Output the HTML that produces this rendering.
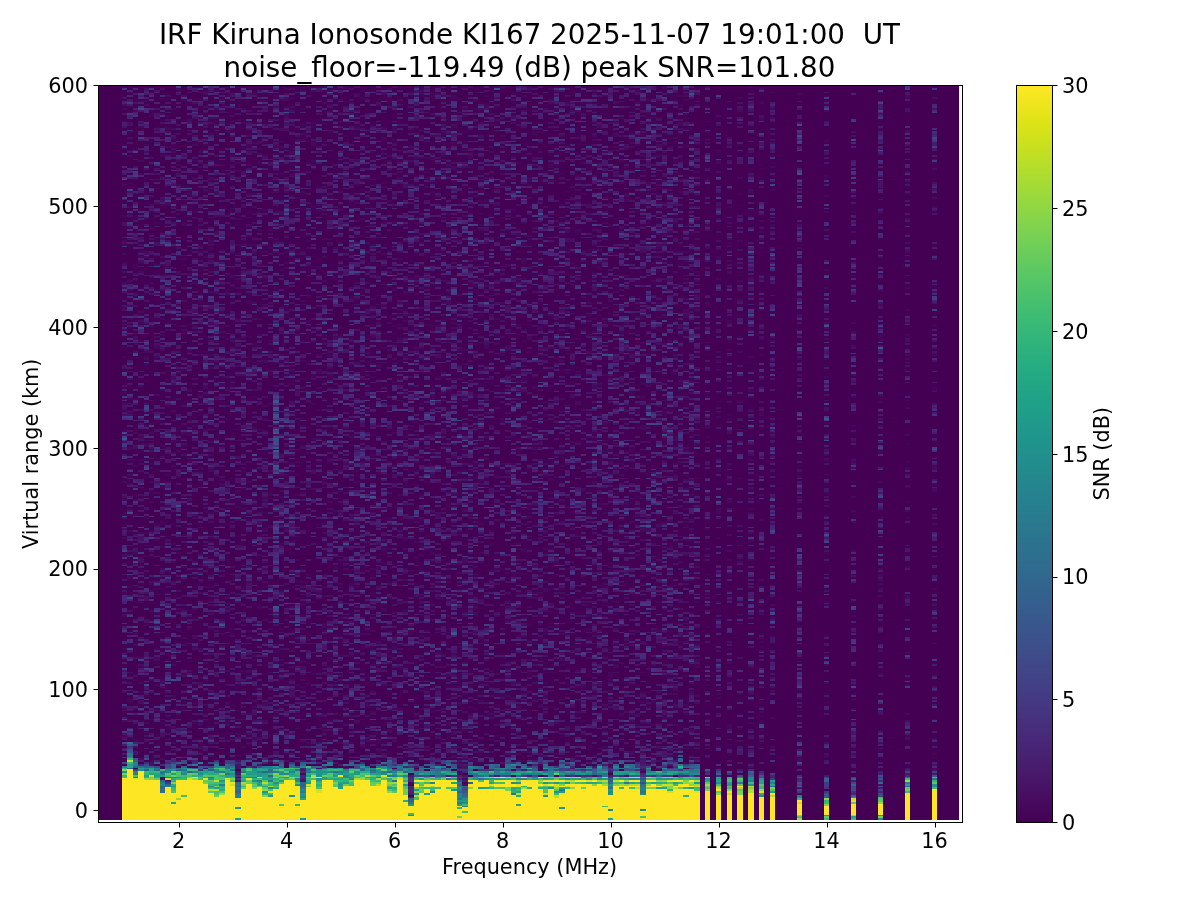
<!DOCTYPE html>
<html><head><meta charset="utf-8"><title>IRF Kiruna Ionosonde KI167</title>
<style>html,body{margin:0;padding:0;background:#fff;width:1200px;height:900px;overflow:hidden}
svg{display:block;will-change:transform}text{font-family:"DejaVu Sans","Liberation Sans",sans-serif;fill:#000}</style></head>
<body><svg width="1200" height="900" viewBox="0 0 1200 900">
<rect width="1200" height="900" fill="#fff"/>
<defs><linearGradient id="vir" x1="0" y1="1" x2="0" y2="0"><stop offset="0.0020" stop-color="#440154"/><stop offset="0.0059" stop-color="#440256"/><stop offset="0.0098" stop-color="#450457"/><stop offset="0.0137" stop-color="#450559"/><stop offset="0.0176" stop-color="#46075a"/><stop offset="0.0215" stop-color="#46085c"/><stop offset="0.0254" stop-color="#460a5d"/><stop offset="0.0293" stop-color="#460b5e"/><stop offset="0.0332" stop-color="#470d60"/><stop offset="0.0371" stop-color="#470e61"/><stop offset="0.0410" stop-color="#471063"/><stop offset="0.0449" stop-color="#471164"/><stop offset="0.0488" stop-color="#471365"/><stop offset="0.0527" stop-color="#481467"/><stop offset="0.0566" stop-color="#481668"/><stop offset="0.0605" stop-color="#481769"/><stop offset="0.0645" stop-color="#48186a"/><stop offset="0.0684" stop-color="#481a6c"/><stop offset="0.0723" stop-color="#481b6d"/><stop offset="0.0762" stop-color="#481c6e"/><stop offset="0.0801" stop-color="#481d6f"/><stop offset="0.0840" stop-color="#481f70"/><stop offset="0.0879" stop-color="#482071"/><stop offset="0.0918" stop-color="#482173"/><stop offset="0.0957" stop-color="#482374"/><stop offset="0.0996" stop-color="#482475"/><stop offset="0.1035" stop-color="#482576"/><stop offset="0.1074" stop-color="#482677"/><stop offset="0.1113" stop-color="#482878"/><stop offset="0.1152" stop-color="#482979"/><stop offset="0.1191" stop-color="#472a7a"/><stop offset="0.1230" stop-color="#472c7a"/><stop offset="0.1270" stop-color="#472d7b"/><stop offset="0.1309" stop-color="#472e7c"/><stop offset="0.1348" stop-color="#472f7d"/><stop offset="0.1387" stop-color="#46307e"/><stop offset="0.1426" stop-color="#46327e"/><stop offset="0.1465" stop-color="#46337f"/><stop offset="0.1504" stop-color="#463480"/><stop offset="0.1543" stop-color="#453581"/><stop offset="0.1582" stop-color="#453781"/><stop offset="0.1621" stop-color="#453882"/><stop offset="0.1660" stop-color="#443983"/><stop offset="0.1699" stop-color="#443a83"/><stop offset="0.1738" stop-color="#443b84"/><stop offset="0.1777" stop-color="#433d84"/><stop offset="0.1816" stop-color="#433e85"/><stop offset="0.1855" stop-color="#423f85"/><stop offset="0.1895" stop-color="#424086"/><stop offset="0.1934" stop-color="#424186"/><stop offset="0.1973" stop-color="#414287"/><stop offset="0.2012" stop-color="#414487"/><stop offset="0.2051" stop-color="#404588"/><stop offset="0.2090" stop-color="#404688"/><stop offset="0.2129" stop-color="#3f4788"/><stop offset="0.2168" stop-color="#3f4889"/><stop offset="0.2207" stop-color="#3e4989"/><stop offset="0.2246" stop-color="#3e4a89"/><stop offset="0.2285" stop-color="#3e4c8a"/><stop offset="0.2324" stop-color="#3d4d8a"/><stop offset="0.2363" stop-color="#3d4e8a"/><stop offset="0.2402" stop-color="#3c4f8a"/><stop offset="0.2441" stop-color="#3c508b"/><stop offset="0.2480" stop-color="#3b518b"/><stop offset="0.2520" stop-color="#3b528b"/><stop offset="0.2559" stop-color="#3a538b"/><stop offset="0.2598" stop-color="#3a548c"/><stop offset="0.2637" stop-color="#39558c"/><stop offset="0.2676" stop-color="#39568c"/><stop offset="0.2715" stop-color="#38588c"/><stop offset="0.2754" stop-color="#38598c"/><stop offset="0.2793" stop-color="#375a8c"/><stop offset="0.2832" stop-color="#375b8d"/><stop offset="0.2871" stop-color="#365c8d"/><stop offset="0.2910" stop-color="#365d8d"/><stop offset="0.2949" stop-color="#355e8d"/><stop offset="0.2988" stop-color="#355f8d"/><stop offset="0.3027" stop-color="#34608d"/><stop offset="0.3066" stop-color="#34618d"/><stop offset="0.3105" stop-color="#33628d"/><stop offset="0.3145" stop-color="#33638d"/><stop offset="0.3184" stop-color="#32648e"/><stop offset="0.3223" stop-color="#32658e"/><stop offset="0.3262" stop-color="#31668e"/><stop offset="0.3301" stop-color="#31678e"/><stop offset="0.3340" stop-color="#31688e"/><stop offset="0.3379" stop-color="#30698e"/><stop offset="0.3418" stop-color="#306a8e"/><stop offset="0.3457" stop-color="#2f6b8e"/><stop offset="0.3496" stop-color="#2f6c8e"/><stop offset="0.3535" stop-color="#2e6d8e"/><stop offset="0.3574" stop-color="#2e6e8e"/><stop offset="0.3613" stop-color="#2e6f8e"/><stop offset="0.3652" stop-color="#2d708e"/><stop offset="0.3691" stop-color="#2d718e"/><stop offset="0.3730" stop-color="#2c718e"/><stop offset="0.3770" stop-color="#2c728e"/><stop offset="0.3809" stop-color="#2c738e"/><stop offset="0.3848" stop-color="#2b748e"/><stop offset="0.3887" stop-color="#2b758e"/><stop offset="0.3926" stop-color="#2a768e"/><stop offset="0.3965" stop-color="#2a778e"/><stop offset="0.4004" stop-color="#2a788e"/><stop offset="0.4043" stop-color="#29798e"/><stop offset="0.4082" stop-color="#297a8e"/><stop offset="0.4121" stop-color="#297b8e"/><stop offset="0.4160" stop-color="#287c8e"/><stop offset="0.4199" stop-color="#287d8e"/><stop offset="0.4238" stop-color="#277e8e"/><stop offset="0.4277" stop-color="#277f8e"/><stop offset="0.4316" stop-color="#27808e"/><stop offset="0.4355" stop-color="#26818e"/><stop offset="0.4395" stop-color="#26828e"/><stop offset="0.4434" stop-color="#26828e"/><stop offset="0.4473" stop-color="#25838e"/><stop offset="0.4512" stop-color="#25848e"/><stop offset="0.4551" stop-color="#25858e"/><stop offset="0.4590" stop-color="#24868e"/><stop offset="0.4629" stop-color="#24878e"/><stop offset="0.4668" stop-color="#23888e"/><stop offset="0.4707" stop-color="#23898e"/><stop offset="0.4746" stop-color="#238a8d"/><stop offset="0.4785" stop-color="#228b8d"/><stop offset="0.4824" stop-color="#228c8d"/><stop offset="0.4863" stop-color="#228d8d"/><stop offset="0.4902" stop-color="#218e8d"/><stop offset="0.4941" stop-color="#218f8d"/><stop offset="0.4980" stop-color="#21908d"/><stop offset="0.5020" stop-color="#21918c"/><stop offset="0.5059" stop-color="#20928c"/><stop offset="0.5098" stop-color="#20928c"/><stop offset="0.5137" stop-color="#20938c"/><stop offset="0.5176" stop-color="#1f948c"/><stop offset="0.5215" stop-color="#1f958b"/><stop offset="0.5254" stop-color="#1f968b"/><stop offset="0.5293" stop-color="#1f978b"/><stop offset="0.5332" stop-color="#1f988b"/><stop offset="0.5371" stop-color="#1f998a"/><stop offset="0.5410" stop-color="#1f9a8a"/><stop offset="0.5449" stop-color="#1e9b8a"/><stop offset="0.5488" stop-color="#1e9c89"/><stop offset="0.5527" stop-color="#1e9d89"/><stop offset="0.5566" stop-color="#1f9e89"/><stop offset="0.5605" stop-color="#1f9f88"/><stop offset="0.5645" stop-color="#1fa088"/><stop offset="0.5684" stop-color="#1fa188"/><stop offset="0.5723" stop-color="#1fa187"/><stop offset="0.5762" stop-color="#1fa287"/><stop offset="0.5801" stop-color="#20a386"/><stop offset="0.5840" stop-color="#20a486"/><stop offset="0.5879" stop-color="#21a585"/><stop offset="0.5918" stop-color="#21a685"/><stop offset="0.5957" stop-color="#22a785"/><stop offset="0.5996" stop-color="#22a884"/><stop offset="0.6035" stop-color="#23a983"/><stop offset="0.6074" stop-color="#24aa83"/><stop offset="0.6113" stop-color="#25ab82"/><stop offset="0.6152" stop-color="#25ac82"/><stop offset="0.6191" stop-color="#26ad81"/><stop offset="0.6230" stop-color="#27ad81"/><stop offset="0.6270" stop-color="#28ae80"/><stop offset="0.6309" stop-color="#29af7f"/><stop offset="0.6348" stop-color="#2ab07f"/><stop offset="0.6387" stop-color="#2cb17e"/><stop offset="0.6426" stop-color="#2db27d"/><stop offset="0.6465" stop-color="#2eb37c"/><stop offset="0.6504" stop-color="#2fb47c"/><stop offset="0.6543" stop-color="#31b57b"/><stop offset="0.6582" stop-color="#32b67a"/><stop offset="0.6621" stop-color="#34b679"/><stop offset="0.6660" stop-color="#35b779"/><stop offset="0.6699" stop-color="#37b878"/><stop offset="0.6738" stop-color="#38b977"/><stop offset="0.6777" stop-color="#3aba76"/><stop offset="0.6816" stop-color="#3bbb75"/><stop offset="0.6855" stop-color="#3dbc74"/><stop offset="0.6895" stop-color="#3fbc73"/><stop offset="0.6934" stop-color="#40bd72"/><stop offset="0.6973" stop-color="#42be71"/><stop offset="0.7012" stop-color="#44bf70"/><stop offset="0.7051" stop-color="#46c06f"/><stop offset="0.7090" stop-color="#48c16e"/><stop offset="0.7129" stop-color="#4ac16d"/><stop offset="0.7168" stop-color="#4cc26c"/><stop offset="0.7207" stop-color="#4ec36b"/><stop offset="0.7246" stop-color="#50c46a"/><stop offset="0.7285" stop-color="#52c569"/><stop offset="0.7324" stop-color="#54c568"/><stop offset="0.7363" stop-color="#56c667"/><stop offset="0.7402" stop-color="#58c765"/><stop offset="0.7441" stop-color="#5ac864"/><stop offset="0.7480" stop-color="#5cc863"/><stop offset="0.7520" stop-color="#5ec962"/><stop offset="0.7559" stop-color="#60ca60"/><stop offset="0.7598" stop-color="#63cb5f"/><stop offset="0.7637" stop-color="#65cb5e"/><stop offset="0.7676" stop-color="#67cc5c"/><stop offset="0.7715" stop-color="#69cd5b"/><stop offset="0.7754" stop-color="#6ccd5a"/><stop offset="0.7793" stop-color="#6ece58"/><stop offset="0.7832" stop-color="#70cf57"/><stop offset="0.7871" stop-color="#73d056"/><stop offset="0.7910" stop-color="#75d054"/><stop offset="0.7949" stop-color="#77d153"/><stop offset="0.7988" stop-color="#7ad151"/><stop offset="0.8027" stop-color="#7cd250"/><stop offset="0.8066" stop-color="#7fd34e"/><stop offset="0.8105" stop-color="#81d34d"/><stop offset="0.8145" stop-color="#84d44b"/><stop offset="0.8184" stop-color="#86d549"/><stop offset="0.8223" stop-color="#89d548"/><stop offset="0.8262" stop-color="#8bd646"/><stop offset="0.8301" stop-color="#8ed645"/><stop offset="0.8340" stop-color="#90d743"/><stop offset="0.8379" stop-color="#93d741"/><stop offset="0.8418" stop-color="#95d840"/><stop offset="0.8457" stop-color="#98d83e"/><stop offset="0.8496" stop-color="#9bd93c"/><stop offset="0.8535" stop-color="#9dd93b"/><stop offset="0.8574" stop-color="#a0da39"/><stop offset="0.8613" stop-color="#a2da37"/><stop offset="0.8652" stop-color="#a5db36"/><stop offset="0.8691" stop-color="#a8db34"/><stop offset="0.8730" stop-color="#aadc32"/><stop offset="0.8770" stop-color="#addc30"/><stop offset="0.8809" stop-color="#b0dd2f"/><stop offset="0.8848" stop-color="#b2dd2d"/><stop offset="0.8887" stop-color="#b5de2b"/><stop offset="0.8926" stop-color="#b8de29"/><stop offset="0.8965" stop-color="#bade28"/><stop offset="0.9004" stop-color="#bddf26"/><stop offset="0.9043" stop-color="#c0df25"/><stop offset="0.9082" stop-color="#c2df23"/><stop offset="0.9121" stop-color="#c5e021"/><stop offset="0.9160" stop-color="#c8e020"/><stop offset="0.9199" stop-color="#cae11f"/><stop offset="0.9238" stop-color="#cde11d"/><stop offset="0.9277" stop-color="#d0e11c"/><stop offset="0.9316" stop-color="#d2e21b"/><stop offset="0.9355" stop-color="#d5e21a"/><stop offset="0.9395" stop-color="#d8e219"/><stop offset="0.9434" stop-color="#dae319"/><stop offset="0.9473" stop-color="#dde318"/><stop offset="0.9512" stop-color="#dfe318"/><stop offset="0.9551" stop-color="#e2e418"/><stop offset="0.9590" stop-color="#e5e419"/><stop offset="0.9629" stop-color="#e7e419"/><stop offset="0.9668" stop-color="#eae51a"/><stop offset="0.9707" stop-color="#ece51b"/><stop offset="0.9746" stop-color="#efe51c"/><stop offset="0.9785" stop-color="#f1e51d"/><stop offset="0.9824" stop-color="#f4e61e"/><stop offset="0.9863" stop-color="#f6e620"/><stop offset="0.9902" stop-color="#f8e621"/><stop offset="0.9941" stop-color="#fbe723"/><stop offset="0.9980" stop-color="#fde725"/></linearGradient><clipPath id="axclip"><rect x="97.653" y="85.233" width="863.878" height="736.989"/></clipPath></defs>
<g shape-rendering="crispEdges"><g clip-path="url(#axclip)"><rect x="97.653" y="85.233" width="861.178" height="734.875" fill="#440154"/><g transform="translate(121.9493 84.3272) scale(5.399236 1.812268)" fill="none" stroke-width="1"><path stroke="#440256" d="M0.5 232v1m0 4v1m0 109v1m1 -273v1m0 171v1m1 -180v1m0 166v1m0 75v1m0 22v1m1 -333v1m0 91v1m0 51v1m1 -116v1m0 90v1m0 84v1m0 97v1m1 -186v1m0 55v1m0 1v1m0 72v1m0 1v1m0 40v1m1 -281v1m0 70v1m0 94v1m0 73v1m1 -217v1m0 3v1m0 14v1m0 206v1m0 10v1m0 51v1m1 -198v1m0 15v1m0 154v1m0 17v1m0 11v1m0 17v1m1 -290v1m0 43v1m0 47v1m0 47v1m0 124v1m0 32v1m0 3v1m1 -303v1m0 28v1m0 128v1m0 67v1m0 3v1m1 -272v1m0 96v1m0 23v1m0 3v1m0 30v1m0 30v1m1 -204v1m0 2v1m0 10v1m0 8v1m0 140v1m0 88v1m0 29v1m0 19v1m1 -288v1m0 38v1m0 8v1m0 60v1m0 122v1m0 73v1m1 -206v1m0 143v1m1 1v1m1 -261v1m0 30v1m0 12v1m0 21v1m0 64v1m0 91v1m0 58v1m0 21v1m1 -301v1m0 5v1m0 25v1m1 13v1m0 10v1m0 20v1m0 29v1m0 128v1m1 -94v1m0 52v1m0 40v1m0 11v1m0 12v1m0 64v1m0 20v1m1 -110v1m1 -247v1m0 78v1m0 47v1m0 62v1m0 71v1m0 37v1m0 10v1m0 26v1m0 8v1m1 -228v1m0 15v1m0 43v1m0 31v1m0 25v1m1 -241v1m0 81v1m0 14v1m0 17v1m0 16v1m0 30v1m0 8v1m0 81v1m0 50v1m1 -214v1m0 29v1m0 7v1m0 15v1m0 56v1m0 49v1m1 -254v1m0 15v1m0 132v1m0 20v1m0 71v1m0 3v1m0 8v1m0 41v1m0 23v1m1 -254v1m0 119v1m0 68v1m0 96v1m1 -83v1m1 -140v1m0 33v1m0 60v1m0 84v1m0 7v1m0 51v1m1 -341v1m0 27v1m0 96v1m0 64v1m0 25v1m0 94v1m1 -209v1m0 6v1m0 119v1m1 -107v1m0 117v1m0 19v1m0 26v1m0 6v1m1 -331v1m0 65v1m0 17v1m0 1v1m0 28v1m0 8v1m0 192v1m1 -317v1m0 92v1m0 34v1m0 43v1m0 33v1m0 52v1m0 27v1m0 37v1m0 40v1m1 -349v1m0 35v1m0 121v1m1 -109v1m0 86v1m0 13v1m0 5v1m0 67v1m0 36v1m0 3v1m0 11v1m0 16v1m0 24v1m1 -266v1m0 269v1m1 -244v1m0 67v1m0 4v1m0 29v1m0 128v1m0 16v1m1 -345v1m0 92v1m0 16v1m0 44v1m0 12v1m0 15v1m0 43v1m0 130v1m1 -329v2m0 5v1m0 55v1m1 -71v1m0 52v1m0 93v1m0 49v1m0 14v1m0 14v1m0 114v1m1 -14v1m1 -141v1m0 69v1m0 21v1m1 -285v1m0 16v1m0 45v1m0 3v1m0 185v1m0 3v1m0 24v1m1 -292v1m0 91v1m0 21v1m0 9v1m0 32v1m0 5v1m0 62v1m1 -167v1m0 9v1m0 4v1m0 12v1m0 30v1m0 42v1m0 6v1m0 82v1m0 27v1m0 5v1m1 -273v1m0 83v1m0 31v1m0 68v1m0 35v1m0 41v1m0 52v1m1 -188v1m0 145v1m0 27v1m1 -74v1m0 20v1m0 28v1m1 -239v1m0 5v1m0 222v1m0 34v1m1 -133v1m1 -194v1m0 138v1m0 74v1m0 18v1m0 125v1m1 -174v1m0 10v1m0 128v1m0 10v1m0 4v1m1 -259v1m0 5v1m0 65v1m0 151v1m0 15v1m0 35v1m0 17v1m1 -259v1m0 2v1m0 37v1m0 115v1m0 28v1m0 4v1m0 5v1m0 20v1m1 -347v1m0 13v1m0 96v1m0 102v1m0 49v1m0 66v1m1 -324v1m0 32v1m0 37v1m0 104v1m0 8v1m0 68v1m0 3v1m1 -200v1m0 190v1m0 1v1m0 24v1m0 60v1m1 -328v1m0 15v1m0 109v2m0 24v1m0 1v1m0 4v1m0 1v1m0 62v1m0 98v1m1 -283v1m0 48v1m0 42v1m0 184v1m1 -334v1m0 18v1m0 72v1m0 69v1m0 23v1m1 -81v1m0 118v1m0 6v1m1 -235v1m0 86v1m0 1v1m0 51v1m0 32v1m0 134v1m0 44v2m1 -337v1m0 97v1m0 34v1m0 7v1m0 23v1m0 31v1m0 31v1m0 111v1m1 -369v1m0 68v1m0 20v1m0 19v1m0 9v1m0 87v1m0 31v1m0 3v1m0 73v1m1 -297v1m0 76v1m0 30v1m0 164v1m1 -165v1m0 212v1m0 29v1m1 -350v1m0 209v1m0 5v1m1 -242v2m0 27v1m0 11v1m0 8v1m0 114v1m0 51v1m0 13v1m0 64v1m1 -297v1m0 73v1m0 22v1m0 103v1m0 111v1m0 13v1m0 9v1m1 -228v1m0 50v1m0 84v1m0 36v1m1 -273v1m0 33v1m0 15v1m0 150v1m0 65v1m0 27v2m0 58v1m1 -356v1m0 4v1m0 87v1m0 22v1m0 6v1m0 60v1m0 9v1m0 17v1m0 9v1m0 91v1m0 40v1m1 -259v1m0 226v1m1 -306v1m0 42v1m0 79v1m0 83v1m1 -211v1m0 8v1m0 15v1m0 22v1m0 17v1m0 89v1m0 148v1m0 34v1m1 -330v1m0 39v1m0 22v1m0 14v1m0 142v1m0 56v1m0 2v1m0 2v1m0 49v1m1 -295v1m0 14v1m0 129v1m0 14v1m0 33v1m0 15v1m1 -226v1m0 21v1m0 61v1m0 59v1m0 100v1m1 -271v1m0 99v1m0 68v1m0 156v1m1 -365v1m0 79v1m0 156v1m0 70v1m0 27v1m1 -336v1m0 17v1m0 15v1m0 81v1m0 191v1m0 9v1m1 -272v1m0 4v1m0 104v1m0 45v1m0 17v1m0 45v1m1 -229v1m0 115v1m0 84v1m0 5v1m0 11v1m0 79v1m0 22v1m1 -335v1m0 9v1m0 91v1m0 222v1m1 -344v1m0 13v1m0 60v1m0 53v1m0 108v1m0 58v2m1 -269v1m0 126v1m0 146v1m1 -162v1m0 51v1m0 143v1m1 -326v1m0 124v1m0 153v1m1 -276v1m0 51v1m0 24v1m0 16v1m0 31v1m0 93v1m0 39v1m0 66v1m1 -253v1m0 16v1m0 24v1m0 42v1m0 28v1m0 36v1m0 16v1m0 14v1m0 14v1m0 25v1m0 52v1m1 -310v1m0 131v1m0 60v1m1 -243v1m0 14v1m0 14v1m0 160v1m0 45v1m0 48v1m1 -230v1m0 72v1m0 40v1m0 45v1m0 8v1m1 -235v1m0 95v1m0 44v1m0 10v1m0 7v1m0 115v1m1 -231v1m0 220v1m0 42v1m0 3v1m1 -325v1m0 100v1m0 13v1m0 221v1m0 2v1m1 -74v1m1 -223v1m0 6v1m0 28v1m0 10v1m0 55v1m0 33v1m1 -133v1m0 66v1m0 186v1m0 69v1m1 -376v1m0 56v1m0 25v1m0 36v1m0 59v1m1 -27v1m0 8v1m0 68v1m0 55v1m0 4v1m0 47v1m1 -257v1m0 51v1m0 198v1m0 1v1m0 21v1m1 -356v1m0 88v1m0 17v1m0 23v1m1 -130v1m0 57v1m0 100v1m0 57v1m0 1v1m1 -184v1m0 231v1m1 -195v1m0 4v1m0 33v1m0 158v1m0 7v1m2 -277v1m0 41v1m0 26v1m0 46v1m0 70v1m0 38v1m2 -237v1m0 116v1m0 78v1m0 71v1m0 16v1m0 24v1m2 -213v1m2 -15v1m0 50v1m0 6v1m0 24v1m0 80v1m0 2v1m0 20v1m0 8v1m0 10v1m0 48v1m0 6v1m0 27v1m2 -375v1m0 69v1m0 72v1m0 105v1m0 102v1m2 -320v1m0 134v1m0 83v1m0 38v1m0 21v1m0 51v1m2 -191v1m0 41v1m0 30v1m5 -239v1m0 59v1m0 57v1m0 9v1m0 142v1m0 51v2m5 -300v1m0 16v1m0 16v1m0 295v1m0 17v1m5 -359v1m0 24v1m0 92v1m0 141v1m5 -292v1m0 18v1m0 130v1m0 59v1m0 37v1m0 34v1m5 -266v1m0 74v1m0 16v1m0 178v1m5 -281v1m0 38v1m0 33v1m0 14v1m0 96v1m0 105v1"/><path stroke="#450457" d="M0.5 1v1m0 121v1m0 157v1m0 77v1m1 -193v1m1 -79v1m0 11v1m0 105v1m0 142v1m0 16v1m1 -218v1m0 79v1m0 26v1m0 17v1m0 75v1m1 -214v1m0 17v1m0 6v1m0 52v1m0 120v1m1 -324v1m0 99v1m1 -100v1m0 7v1m0 127v1m0 117v1m0 2v1m0 30v1m1 -82v1m0 19v1m0 5v1m0 86v1m1 -313v1m0 107v1m0 45v1m0 54v1m0 25v1m1 -234v1m0 4v1m0 142v1m0 24v1m1 -123v1m0 19v1m0 12v1m0 47v1m0 19v1m0 11v1m1 -134v1m0 19v1m0 87v1m0 28v1m0 5v1m0 94v1m0 27v1m1 -284v1m0 310v1m0 19v1m1 -322v1m0 18v1m0 11v1m0 13v1m0 61v1m0 120v1m0 74v1m0 2v1m1 -353v1m0 55v1m0 42v1m0 78v1m0 113v1m1 -237v1m0 60v1m0 43v1m1 -142v1m0 67v1m0 4v1m0 3v1m0 149v1m0 33v1m1 -141v1m0 8v1m0 188v1m1 -305v1m0 120v1m0 128v1m1 -157v1m0 101v1m0 27v1m0 53v1m1 -198v1m0 91v1m0 150v1m1 -354v1m0 135v1m0 79v1m0 6v1m0 16v1m0 19v1m0 61v1m1 -298v1m0 17v1m0 33v1m0 150v2m0 34v1m0 4v1m1 -209v1m0 54v1m0 59v1m0 54v1m0 17v1m0 105v1m1 -319v1m0 37v1m0 27v1m0 122v1m0 17v1m0 50v2m0 31v1m0 10v1m0 5v1m1 -344v1m0 11v1m0 191v1m0 73v1m0 42v1m0 20v1m0 3v1m0 6v1m1 -275v1m0 17v1m0 46v1m0 109v1m1 -261v1m0 108v1m0 45v1m1 -75v1m0 33v1m0 29v1m0 80v1m0 72v1m0 14v1m0 6v1m0 2v1m1 -316v1m0 172v1m0 28v1m0 25v1m0 49v1m1 -198v1m0 116v1m1 -200v1m0 50v1m0 32v1m0 34v1m0 7v1m0 49v1m0 7v1m0 41v1m0 97v1m1 -291v1m0 59v1m0 126v1m0 7v1m0 70v1m0 59v1m1 -365v1m0 12v1m0 59v1m0 148v1m0 34v1m0 8v1m0 57v1m1 -331v1m0 38v1m0 168v1m0 30v1m0 27v1m0 33v1m0 46v1m1 -344v1m0 155v1m0 205v1m1 -372v1m0 18v1m0 36v1m0 13v1m0 25v1m0 118v1m0 26v1m0 7v1m1 -145v1m0 31v1m0 78v1m1 -192v1m0 80v1m0 1v1m0 9v1m0 26v1m0 125v1m0 73v1m0 12v1m1 -141v1m0 46v1m1 -164v1m0 55v1m0 33v1m1 -98v1m0 67v1m0 79v1m1 -207v1m0 21v1m0 53v1m0 12v1m0 65v1m0 54v1m0 100v1m1 -234v1m0 54v1m0 72v1m0 29v1m0 2v1m0 63v2m0 7v1m0 17v1m1 -361v1m0 74v1m0 67v1m0 66v1m0 103v2m0 29v1m1 -80v1m0 55v1m0 10v1m1 -342v1m0 38v1m0 7v1m0 12v1m0 8v1m0 65v1m0 71v1m0 79v1m0 64v1m1 -345v1m0 41v1m0 44v1m0 163v1m0 83v1m0 14v1m0 4v1m1 -356v1m0 22v1m0 232v1m0 17v1m0 39v1m1 -219v1m0 135v1m0 66v1m1 -253v1m0 16v1m0 39v1m0 196v1m1 -268v1m0 14v1m0 36v1m0 16v1m0 40v1m0 52v1m1 -157v1m0 27v1m0 176v1m0 3v1m0 22v1m0 35v1m1 -307v1m0 71v1m0 128v1m0 28v1m0 51v1m0 17v1m0 23v1m0 44v1m0 5v1m1 -361v1m0 33v1m0 125v1m0 88v1m0 62v1m0 15v1m1 -270v1m0 40v1m0 3v1m0 53v1m0 12v1m0 68v1m0 49v1m1 -265v1m1 -48v1m0 84v1m0 16v1m0 2v1m1 -110v1m0 159v1m0 103v1m0 35v1m1 -253v1m1 -50v1m0 18v1m0 25v1m0 28v1m1 -59v1m0 16v1m0 13v1m0 35v1m0 37v1m0 138v1m0 76v1m1 -223v1m0 24v1m0 72v1m1 -213v1m0 137v1m0 11v1m0 82v1m0 12v1m0 40v1m0 85v1m1 -372v1m0 278v1m0 20v1m0 64v1m1 -367v1m0 77v1m0 110v1m0 14v1m0 25v1m0 54v1m0 35v1m0 13v1m0 6v1m0 27v1m1 -302v1m0 79v1m0 183v1m1 -326v1m0 32v1m0 34v1m0 40v1m0 18v1m0 46v1m0 142v1m1 -326v1m0 6v1m0 163v1m0 138v1m1 -302v1m0 143v1m0 47v1m0 10v1m0 139v1m1 -251v1m0 231v1m0 11v1m0 2v1m1 -339v1m0 20v1m0 124v1m0 134v1m1 -291v1m0 4v1m0 40v1m0 142v1m0 90v1m1 -148v1m0 18v1m0 151v1m1 -223v1m0 164v1m0 120v1m1 -357v1m0 23v1m0 159v1m0 34v1m0 19v1m0 41v1m1 -115v1m0 4v1m0 147v1m1 -317v1m0 14v1m0 64v1m0 159v1m0 43v1m0 69v1m1 -365v1m0 22v1m0 78v1m0 12v2m0 14v1m0 47v1m0 172v1m1 -321v1m0 198v1m1 -229v1m0 29v1m0 32v1m0 23v1m0 4v1m0 43v1m0 82v1m0 20v1m0 88v1m1 -254v1m0 2v1m0 248v1m1 -149v1m0 53v1m0 54v1m0 4v1m0 10v1m0 46v1m1 -344v1m0 116v1m0 86v1m0 61v1m0 18v1m1 -128v1m0 52v1m0 23v1m0 112v1m1 -266v1m0 22v1m0 98v1m0 108v1m1 -320v1m0 5v1m0 43v1m0 182v1m0 24v1m1 -263v1m0 105v1m0 137v1m0 11v1m1 -170v1m0 42v1m0 215v1m1 -320v1m0 25v1m0 62v1m0 113v1m0 70v1m1 -282v1m0 200v1m0 58v1m1 -221v1m0 36v1m0 29v1m0 11v1m0 155v1m1 -276v1m0 14v1m0 237v1m1 -234v1m0 60v1m0 83v1m0 130v1m0 18v1m0 11v1m1 -305v1m0 45v1m0 96v1m1 -144v1m0 50v2m0 26v1m0 24v1m0 23v1m0 68v1m0 5v1m0 71v1m0 39v2m1 -363v2m0 143v1m0 5v1m0 51v1m1 -139v1m0 27v1m0 83v1m0 20v1m0 8v1m0 33v1m0 45v1m1 -241v1m0 106v1m0 38v1m0 109v1m1 -277v1m0 37v1m0 40v1m0 38v1m0 103v1m0 10v1m0 23v1m1 -244v1m0 29v1m0 234v1m0 8v1m1 -198v1m1 100v1m0 16v1m0 92v1m1 -190v1m0 12v1m0 39v1m0 55v1m0 15v1m0 32v1m0 1v1m1 -97v1m0 89v1m0 8v1m0 13v1m0 28v1m1 -276v1m0 18v1m0 10v1m0 80v1m0 57v1m1 -61v1m0 111v1m2 -292v1m0 152v1m0 13v1m0 14v1m0 46v1m2 -188v1m0 5v1m0 71v1m0 22v1m0 25v1m0 68v1m2 -247v1m0 82v2m0 27v1m0 29v1m0 35v1m0 132v1m0 65v1m2 -349v1m0 26v1m0 38v1m0 156v1m0 90v1m2 -319v1m0 51v1m0 2v1m0 108v1m0 58v1m0 52v1m0 55v1m0 2v1m2 -360v1m0 3v1m0 34v1m0 69v1m0 51v1m0 25v1m0 110v1m0 6v1m0 30v1m0 6v1m0 14v1m2 -325v1m0 3v1m0 28v1m0 206v1m0 24v1m5 -285v1m0 114v1m0 97v1m0 33v1m0 94v1m5 -333v1m0 76v1m0 233v1m0 18v1m5 -71v1m0 83v1m5 -282v1m0 109v1m0 46v1m5 -191v1m0 21v1m0 51v1m0 22v1m0 40v1m0 31v1m5 -179v1m0 114v1m0 121v1"/><path stroke="#450559" d="M0.5 25v1m0 9v1m0 52v1m0 61v1m0 129v1m0 65v1m1 -293v1m0 1v1m0 116v1m0 7v1m0 178v1m1 -188v1m0 88v1m0 14v1m0 28v1m0 54v1m1 -301v1m0 33v1m0 35v1m0 70v1m0 118v1m0 49v1m1 -339v1m0 17v1m0 13v1m0 8v1m0 172v1m0 78v1m1 -323v1m0 12v1m0 128v1m0 78v1m1 -150v1m0 165v1m0 76v1m1 -215v1m0 115v1m0 10v1m0 17v1m0 88v1m1 -323v1m0 262v1m0 73v2m1 -182v1m0 4v1m0 32v1m0 29v1m0 24v1m0 9v1m0 22v1m0 28v1m1 -256v1m0 58v1m0 18v1m1 -54v1m0 57v1m0 69v1m0 3v1m0 70v1m0 61v1m1 -272v1m0 81v1m0 14v1m0 17v1m0 21v1m0 4v1m0 8v1m1 -175v1m0 3v1m0 67v1m1 -125v1m0 100v1m0 207v1m1 -295v1m0 4v1m0 132v1m0 62v2m0 10v1m0 1v1m1 -233v1m0 114v1m0 80v1m0 35v1m0 32v1m0 46v1m1 -326v1m0 159v1m0 25v2m0 90v1m0 31v1m1 -223v1m0 33v1m0 49v1m0 74v1m1 -234v1m0 166v1m0 45v1m0 11v1m0 99v1m0 15v1m0 2v1m1 -261v1m0 54v1m0 8v1m0 137v1m0 30v1m0 7v1m0 3v1m0 24v1m1 -295v1m0 15v1m0 135v1m0 90v1m1 -219v1m0 49v1m0 4v1m0 6v1m0 58v1m0 20v1m0 32v1m0 55v1m1 -283v1m0 26v1m0 60v1m0 46v1m0 119v1m1 -256v1m0 57v1m0 117v1m0 105v1m1 -264v1m0 36v1m0 197v1m0 56v1m1 -264v1m0 7v1m0 128v1m0 83v1m0 4v1m1 -248v1m0 6v1m0 124v1m0 57v1m0 11v1m0 27v1m1 -275v1m0 3v1m0 35v1m0 21v1m0 15v1m0 16v1m0 211v1m0 2v1m1 -301v1m0 4v1m0 56v1m0 42v1m0 2v1m0 17v1m0 47v1m0 105v2m0 2v1m0 38v1m1 -359v1m0 2v1m0 115v1m0 22v1m0 6v1m0 42v1m0 12v1m0 65v1m0 50v1m0 37v1m1 -309v1m0 6v1m0 49v1m0 83v1m0 55v1m0 12v1m1 -248v1m0 8v1m0 37v1m0 60v1m0 29v1m0 52v1m0 21v1m0 24v1m1 -250v1m0 8v1m0 37v1m0 8v1m0 71v1m0 145v1m0 5v1m0 38v1m0 36v1m1 -253v1m0 44v1m0 26v1m0 13v1m1 -181v1m0 136v1m0 37v1m0 86v1m0 81v1m1 -332v1m0 29v1m0 112v1m0 28v1m1 -206v1m0 69v1m0 58v1m1 -115v1m0 9v1m0 121v1m0 166v1m0 33v1m1 -348v1m0 41v1m0 60v1m0 196v1m1 -281v1m0 38v1m0 4v1m0 30v1m0 7v1m0 46v1m0 57v1m0 59v1m0 86v1m1 -359v1m1 194v1m0 118v1m1 -261v1m0 58v1m1 -115v1m0 57v1m0 20v1m0 70v1m0 6v1m1 127v1m0 22v1m0 57v1m1 -245v1m0 4v1m0 24v1m0 127v1m0 79v1m1 -310v1m1 2v1m0 57v1m0 29v1m0 37v1m0 62v1m0 11v1m0 1v1m0 48v1m0 3v1m1 -72v1m0 91v1m0 2v1m1 -208v1m0 5v1m0 183v1m1 -138v1m0 141v1m0 21v1m1 -267v1m0 36v1m0 8v1m0 96v1m0 74v1m0 11v1m0 12v1m0 48v1m1 -367v1m0 128v1m0 32v1m0 31v1m0 14v1m1 -107v1m0 1v1m0 36v1m0 10v1m0 81v1m1 -238v1m0 34v1m0 61v1m0 140v1m0 41v1m1 -253v1m0 188v1m0 92v1m0 20v1m1 -274v1m0 112v1m1 -121v1m0 68v1m0 193v1m0 33v1m1 -185v1m0 208v1m1 -283v1m0 109v1m0 96v1m0 59v1m1 -361v1m0 104v1m0 130v1m0 77v1m1 -187v1m0 46v1m0 57v1m0 138v1m1 -358v1m0 145v1m0 116v1m0 1v1m1 -179v1m0 37v1m0 152v1m0 79v1m1 -370v1m0 166v2m0 9v1m0 106v1m0 51v1m1 -278v1m0 100v1m0 140v1m0 54v1m0 3v1m1 -303v1m0 133v1m0 67v1m0 77v1m0 1v1m1 -320v1m0 45v1m0 11v1m0 28v1m0 100v1m0 38v2m0 77v1m1 -222v1m0 230v1m1 -76v1m0 48v1m1 -188v1m0 142v1m0 92v1m1 -339v1m0 8v1m0 341v1m1 -296v1m0 142v1m0 46v1m0 19v1m0 10v1m1 -279v1m0 71v1m0 42v1m0 79v1m0 122v1m1 -308v1m0 74v1m0 119v1m0 92v1m0 40v1m1 -340v1m0 32v1m0 89v1m0 15v1m0 36v1m0 18v1m0 59v1m1 -274v1m0 34v1m0 14v1m0 27v1m0 25v1m0 19v1m0 172v1m1 -259v1m0 163v1m0 3v1m0 107v1m0 18v1m1 -204v1m0 12v1m0 55v1m0 22v1m0 4v1m0 105v1m1 -331v1m0 83v1m1 -49v1m0 16v1m0 3v1m0 59v1m0 26v1m1 -99v1m0 40v1m0 58v1m0 5v1m0 101v1m0 68v1m1 -193v1m0 19v1m0 20v1m0 2v1m1 -189v1m0 53v1m0 26v1m0 101v1m0 13v1m0 50v1m0 1v1m0 1v1m0 57v1m0 29v1m0 31v1m1 -342v1m0 103v1m0 215v1m1 -342v1m0 97v1m0 19v1m0 158v1m0 17v1m0 25v1m0 32v1m1 -344v1m0 2v1m0 18v1m0 52v1m0 95v1m0 51v1m0 65v1m0 35v1m1 -220v1m0 38v1m0 148v1m1 -244v1m0 48v1m0 91v1m0 73v1m0 17v1m0 53v1m1 -332v1m0 48v1m0 48v1m0 39v1m0 35v1m0 169v1m1 -329v1m0 12v1m0 74v1m0 92v1m0 45v1m0 34v1m0 1v1m0 30v1m1 -204v1m0 72v1m0 30v1m0 24v1m0 82v1m1 -117v1m0 31v1m1 -192v1m1 -4v1m0 52v1m1 -115v1m0 49v1m0 2v1m0 32v1m0 68v1m0 104v1m0 65v1m1 -320v1m0 13v1m0 82v1m0 124v1m1 -221v1m0 93v1m0 114v1m0 55v1m0 57v1m1 -289v1m0 142v1m0 14v1m0 25v1m1 -56v1m0 37v1m0 4v1m0 58v1m0 39v1m0 23v1m1 -344v1m0 141v1m0 31v1m0 34v1m0 6v1m0 44v1m1 -259v1m0 52v1m0 14v1m0 175v1m0 119v1m1 -284v1m0 9v1m0 22v1m0 15v1m0 3v1m0 19v1m0 17v1m0 178v1m1 -357v1m0 29v2m0 15v1m0 119v1m0 171v1m1 -319v1m0 68v1m0 54v1m0 14v1m0 68v1m0 128v1m0 10v1m1 -252v1m0 13v1m0 113v1m0 14v1m0 20v1m0 34v1m2 -264v1m0 97v1m0 14v1m0 106v1m0 21v1m0 31v1m0 18v1m0 4v1m0 25v1m2 -354v1m0 8v1m0 53v1m0 83v1m0 114v1m2 -224v1m0 36v1m0 51v1m0 105v1m0 8v1m0 92v1m0 4v1m2 -267v1m0 23v1m0 4v1m0 41v1m0 42v1m2 -217v1m0 44v1m0 121v1m0 65v1m0 139v1m2 -356v1m0 26v1m0 43v1m0 38v1m0 19v1m0 39v1m0 99v1m0 62v1m2 -253v1m0 207v1m0 8v1m5 -240v1m0 118v1m0 160v1m5 -198v1m0 42v1m0 20v1m0 32v1m0 26v1m5 -216v1m0 39v1m0 1v1m0 41v1m0 17v1m0 15v1m0 96v1m0 50v1m5 -181v1m0 45v1m0 25v1m0 49v1m0 88v1m5 -314v1m0 153v1m0 30v1m0 87v1m5 -196v2m0 34v1m0 51v1m0 65v1m0 73v1m0 8v1"/><path stroke="#46075a" d="M0.5 20v1m0 12v1m0 38v1m0 97v1m0 20v1m0 44v1m0 107v1m1 -330v1m0 113v1m0 8v1m0 9v1m0 6v1m0 78v1m0 2v1m1 -186v1m0 7v1m0 38v1m0 137v1m1 -189v1m0 42v1m0 34v1m0 66v1m0 140v1m1 -208v1m0 67v1m0 160v1m1 -342v1m0 53v1m0 87v1m0 28v1m0 21v1m0 9v1m0 4v1m0 29v1m1 -230v1m0 31v1m0 46v1m0 40v1m0 67v1m0 37v1m0 26v1m0 7v1m0 24v1m1 -71v1m0 4v1m0 81v1m0 17v1m1 -296v1m0 14v1m0 91v1m0 3v1m0 52v1m1 -207v1m0 23v1m0 30v1m0 131v2m0 65v1m0 91v1m1 -301v1m0 245v1m0 39v1m0 3v1m1 -338v1m0 87v1m0 27v1m0 200v1m1 -259v1m0 4v1m0 37v1m0 36v1m0 44v2m0 13v1m0 92v1m1 -113v1m0 152v1m1 -306v1m0 51v1m0 82v1m0 13v1m0 26v1m1 -210v1m0 60v1m0 30v1m0 34v1m0 16v1m0 39v1m0 2v1m0 154v1m0 5v1m1 -265v1m0 2v1m0 41v1m0 19v1m0 184v1m1 -283v1m0 44v1m0 1v1m0 12v1m0 25v1m0 53v1m1 -128v1m0 39v1m0 57v1m0 51v1m0 136v1m1 -350v1m0 106v1m0 238v1m1 -306v1m0 169v1m0 55v1m0 70v1m1 -302v1m0 15v1m0 14v1m0 62v1m0 2v1m0 6v1m0 149v1m1 -85v1m0 72v1m0 36v1m1 -290v1m0 48v1m0 35v1m0 30v1m0 196v1m1 -343v1m0 54v1m0 27v1m0 54v1m0 28v1m0 149v1m0 27v1m1 -277v1m0 24v1m0 47v1m0 42v1m0 61v1m0 27v1m1 -252v1m0 1v1m0 90v1m0 61v1m0 92v1m1 -121v1m0 67v1m0 110v1m1 -274v1m0 93v1m0 136v1m0 17v1m0 35v1m1 -270v1m0 147v1m0 25v1m0 46v1m0 5v1m1 -290v1m0 74v1m0 29v1m0 92v1m0 28v1m0 33v1m1 -272v1m0 25v1m0 1v1m0 8v1m0 120v1m0 15v1m0 14v1m1 -98v1m0 146v1m1 -217v1m0 131v1m0 9v1m0 11v1m0 40v1m0 48v1m1 -142v1m0 104v1m0 80v1m0 10v1m1 -287v1m0 22v1m0 93v1m0 14v1m0 18v1m0 129v1m0 7v1m1 -265v1m0 14v1m0 15v1m0 58v1m0 121v1m1 -161v1m0 51v1m0 68v1m0 27v1m0 26v1m0 3v1m0 4v1m1 -293v1m0 141v1m0 68v1m1 -79v1m0 119v1m0 38v1m1 -257v1m0 15v1m0 37v1m0 142v1m1 -246v1m0 25v1m1 42v1m0 166v1m0 36v1m0 49v1m0 32v1m1 -206v1m0 82v1m0 23v1m0 98v1m1 -357v1m0 49v1m0 118v1m0 50v1m0 141v1m1 -332v1m0 159v1m0 29v1m0 58v1m0 43v1m0 15v1m0 10v1m0 13v1m1 -332v1m0 50v1m0 50v1m0 68v1m0 8v1m0 16v1m0 85v1m0 25v1m1 -324v1m0 118v1m0 3v1m1 -124v1m0 113v1m0 7v1m0 144v1m0 9v1m1 -105v1m0 37v1m0 18v1m0 2v1m0 111v1m1 -232v1m0 54v1m0 157v1m1 -350v1m0 50v1m0 109v1m1 -127v1m0 93v1m0 63v1m0 7v1m0 16v1m0 70v1m0 13v1m1 -215v1m0 149v1m0 60v1m0 1v1m0 62v1m0 4v1m1 -309v1m0 87v1m0 61v1m0 47v1m0 86v1m1 -276v1m0 152v1m0 27v2m0 4v1m0 60v1m1 -276v1m0 85v1m0 7v1m0 13v1m1 -149v1m0 33v1m0 52v1m0 39v1m0 11v1m0 21v1m0 47v1m0 113v1m0 16v1m1 -171v1m0 4v1m0 22v1m0 39v1m1 -206v1m0 23v1m0 97v1m0 152v1m1 -244v1m0 97v1m0 167v1m0 33v1m1 -366v1m0 151v1m0 3v1m0 11v1m0 51v1m0 18v1m1 -100v1m0 3v1m0 22v1m0 51v1m0 22v1m0 50v1m0 10v1m0 31v1m1 -333v1m0 15v1m0 145v1m0 24v1m0 2v1m0 12v1m0 142v1m0 26v1m1 -344v1m0 68v1m0 24v1m0 74v1m0 73v1m0 14v1m0 33v1m0 10v1m1 -236v1m0 55v1m0 44v1m0 154v1m1 -250v1m1 -56v1m0 84v1m0 9v1m0 51v1m1 96v1m0 25v1m1 -114v1m0 49v1m0 106v1m1 -252v1m0 21v1m0 3v1m0 186v1m1 -257v1m0 188v1m0 61v1m1 -123v1m0 102v1m0 56v1m1 -327v1m0 18v1m0 17v1m0 8v1m0 2v1m0 19v1m0 20v1m0 122v1m0 3v1m0 61v1m1 -247v1m0 11v1m0 18v1m0 4v1m0 45v1m1 -112v1m0 7v1m0 29v1m0 153v1m1 -214v1m0 38v1m0 40v1m0 14v1m0 36v1m0 24v1m0 81v1m0 14v1m0 68v1m1 -324v1m0 26v1m0 44v1m0 114v1m0 37v1m0 40v2m1 -131v1m0 18v1m0 136v1m0 17v1m0 9v1m1 -340v1m0 112v1m0 96v1m0 37v1m0 40v1m0 26v1m1 -324v1m0 81v1m0 32v1m0 176v1m1 -212v1m0 8v1m0 12v1m0 95v1m0 29v1m0 47v1m0 37v1m1 -227v1m0 28v1m0 69v1m1 -111v1m0 244v1m1 -310v1m0 9v1m0 24v1m0 12v2m0 15v1m0 179v1m1 -201v1m0 10v1m0 81v1m0 70v1m0 17v1m0 15v1m0 9v1m1 -142v1m0 32v1m0 2v1m0 129v1m0 6v1m0 11v1m1 -268v1m0 83v1m0 84v1m0 5v1m0 100v1m0 1v1m0 11v1m1 -293v1m0 10v1m0 43v1m0 57v1m0 13v1m0 11v1m0 48v1m0 25v1m1 45v1m1 -109v1m0 129v2m0 34v1m0 4v1m0 8v1m1 -348v1m0 25v1m0 230v1m0 88v1m1 -257v1m0 6v1m0 70v1m0 72v1m0 83v1m1 -294v1m0 45v1m0 42v1m0 80v2m1 -106v1m0 21v1m0 33v1m0 18v2m0 5v1m0 147v1m1 -311v1m0 142v1m0 13v1m0 1v1m0 21v1m0 125v1m1 -284v1m0 58v1m0 35v1m0 6v1m0 102v1m0 44v1m0 3v1m0 13v1m0 40v1m1 -362v1m0 172v1m0 143v1m1 -297v1m0 140v1m0 9v1m0 19v1m1 -132v1m0 10v1m0 29v1m0 60v1m0 118v1m1 -299v1m0 80v1m0 29v1m0 14v1m0 16v1m0 35v1m0 157v1m0 27v1m1 -180v1m0 66v1m0 48v1m0 25v1m1 -325v1m0 24v1m0 60v1m0 41v1m0 59v1m0 18v1m0 120v1m1 -324v1m0 15v1m0 31v1m0 105v1m0 9v1m1 -171v1m0 18v1m0 67v1m0 4v1m0 27v1m0 47v1m0 28v1m0 46v1m0 17v1m0 58v1m0 20v1m1 -323v1m0 76v1m0 74v1m0 68v1m0 2v1m0 19v1m0 43v1m0 56v1m1 -268v1m0 77v1m0 35v1m0 116v1m0 21v1m2 -305v1m0 24v1m0 94v1m0 16v1m0 62v1m0 27v1m0 22v1m0 21v1m0 26v1m2 -142v1m0 1v1m0 88v1m0 35v1m2 -197v1m0 41v1m0 15v1m0 40v1m0 112v1m2 -269v1m0 18v1m0 12v1m0 217v1m2 -268v1m0 36v1m0 155v1m2 -182v1m0 209v1m0 15v1m0 17v1m2 -322v1m0 79v1m0 119v1m0 3v1m0 59v1m5 -173v1m0 56v1m0 29v1m0 8v1m5 -143v1m0 129v1m0 123v1m5 -243v1m0 73v1m0 21v1m0 22v1m0 26v1m0 10v1m0 37v1m0 75v1m0 10v1m5 -321v1m0 96v1m0 16v2m0 79v1m0 19v1m0 85v1m5 -214v1m0 11v1m0 13v1m0 72v1m0 10v1m0 63v1m0 72v1m5 -317v1m0 166v1m0 67v1m0 71v1m0 20v1"/><path stroke="#46085c" d="M0.5 86v1m0 6v1m0 15v1m0 25v1m0 37v1m0 76v1m0 9v1m0 50v1m1 -286v1m0 40v1m0 3v1m0 11v1m0 136v1m0 44v1m0 73v2m1 -268v1m0 136v1m0 18v1m0 98v1m0 33v1m1 -340v1m0 81v1m0 35v1m0 105v1m0 70v1m1 -209v1m0 77v1m0 9v1m0 61v1m0 37v1m0 70v1m1 -291v1m0 101v1m0 67v1m0 68v1m0 9v1m1 2v1m1 -293v1m0 26v1m0 62v1m0 38v1m0 30v1m0 55v1m0 96v1m0 2v1m1 -332v1m0 224v1m0 2v1m1 -50v1m0 49v1m0 60v1m0 48v1m1 -361v1m0 40v1m0 26v1m0 38v1m0 52v1m0 27v1m0 4v1m0 49v1m0 26v1m0 15v1m0 71v1m1 -118v1m0 60v1m0 28v1m1 -279v1m0 3v1m0 107v1m0 16v1m0 34v1m0 97v1m1 -277v1m1 49v1m0 181v1m0 36v1m0 51v1m1 -87v1m0 50v1m0 5v1m0 40v1m1 -349v1m0 57v1m0 28v1m0 38v1m0 50v1m0 31v1m0 15v1m0 7v1m0 16v1m0 13v1m0 8v1m0 7v1m0 45v1m1 -157v1m0 76v1m0 7v1m1 -272v1m0 5v1m0 115v1m0 8v1m0 17v1m0 3v1m0 55v1m0 58v1m0 69v1m0 23v1m1 -261v1m0 25v1m0 26v1m0 121v1m0 61v1m1 -313v1m0 4v1m0 60v1m0 10v1m0 23v1m0 22v1m1 -145v1m0 68v1m0 240v1m0 40v1m1 -358v1m0 7v1m0 307v1m1 -330v1m0 32v1m0 10v1m0 43v1m0 31v1m0 31v1m0 8v1m0 112v1m0 51v1m0 1v1m0 10v1m1 -151v1m0 39v1m0 87v1m0 26v1m0 15v1m0 10v1m1 -334v1m0 41v1m0 57v1m0 27v1m0 82v1m0 38v1m1 -220v1m0 107v1m0 31v1m0 20v1m0 32v1m0 44v1m0 32v1m1 -252v1m0 50v1m0 34v1m0 49v1m0 1v1m0 4v1m0 9v1m1 -232v1m0 46v1m0 253v1m0 38v1m1 -251v1m0 156v1m0 19v1m1 -182v1m0 21v1m0 59v1m1 -160v1m0 16v1m0 10v1m0 41v1m0 3v1m0 62v1m0 69v1m0 40v1m0 64v1m1 -305v1m0 179v1m0 15v1m0 43v1m0 12v1m0 47v1m1 -273v1m0 92v1m0 35v1m0 154v1m1 -258v1m0 43v1m0 232v1m1 -318v1m0 79v1m1 -26v1m0 47v1m0 35v1m0 12v1m0 81v1m0 67v1m1 -328v1m0 9v1m0 196v1m0 23v1m0 94v1m1 -345v1m0 81v1m0 106v1m0 15v1m0 46v1m0 2v1m0 32v1m0 29v1m0 10v1m0 29v1m1 -306v1m0 32v1m0 15v1m0 32v1m0 45v1m1 -184v1m0 5v1m0 125v1m0 63v1m0 95v1m0 20v1m0 20v1m1 -328v1m0 26v1m0 132v1m0 19v1m0 19v1m0 55v1m0 110v1m1 -160v1m1 -195v1m0 41v1m0 52v1m0 94v1m0 5v1m0 93v1m1 -307v1m0 23v1m0 4v1m0 37v1m0 133v1m0 94v1m0 7v1m1 -209v1m0 36v1m0 6v1m0 155v1m1 -249v1m0 21v1m0 40v1m0 6v1m0 35v1m0 31v1m0 10v1m0 62v1m1 -40v1m0 5v1m0 31v2m0 52v1m0 29v1m1 -322v1m0 37v1m0 54v1m0 111v1m0 54v1m1 -283v1m0 39v1m0 16v1m0 44v1m0 98v1m0 92v1m0 13v1m1 -286v1m0 1v1m0 43v1m0 36v1m0 39v2m0 51v1m0 3v1m0 11v1m0 87v1m0 33v1m1 -249v1m0 35v1m0 7v1m0 163v1m0 16v1m1 -221v1m0 48v1m0 100v1m0 15v1m1 -180v1m0 62v1m1 -112v1m0 64v1m0 9v1m0 99v1m0 44v1m0 20v1m1 -242v1m0 110v1m0 24v1m0 167v1m1 -289v1m0 136v1m0 55v1m0 51v1m0 32v1m1 -119v1m0 41v1m0 102v1m1 -271v1m0 191v1m1 -278v1m0 99v1m0 63v1m0 56v1m0 34v1m0 10v1m0 2v1m1 -252v1m0 88v1m0 159v1m0 9v1m0 17v1m0 25v1m0 24v1m1 -347v1m0 80v1m0 42v1m0 54v1m0 18v2m0 123v1m0 39v1m1 -176v1m0 136v1m0 32v1m0 10v1m1 -364v1m0 17v1m0 271v1m0 17v1m0 2v1m0 11v1m0 35v1m1 -334v1m0 5v1m0 14v1m0 97v1m0 14v1m0 42v1m0 8v1m0 12v1m0 32v1m0 75v1m1 -339v1m0 3v1m0 97v1m0 179v1m0 43v1m1 -302v1m0 92v1m0 29v1m0 84v1m0 15v1m0 81v1m0 27v1m1 -363v1m0 4v1m0 43v1m0 8v1m0 52v1m0 26v1m0 83v1m0 9v1m0 39v1m0 2v1m0 31v1m0 34v1m1 -246v1m0 142v1m0 21v1m0 23v1m1 -292v1m0 82v1m0 44v1m0 12v1m0 216v1m1 -358v1m0 70v1m0 112v1m0 14v1m1 -102v1m0 43v1m0 1v1m0 180v1m1 -259v1m0 6v1m0 192v1m0 111v1m1 -362v1m0 61v1m0 153v1m0 32v1m0 11v1m0 62v1m1 -183v1m0 93v2m0 8v1m0 3v1m0 69v1m0 8v1m0 10v1m0 7v1m1 -368v1m0 103v1m0 41v1m0 86v1m1 -235v1m0 160v1m0 38v1m0 16v1m1 -203v1m0 16v1m0 102v1m0 4v1m0 10v1m0 6v1m0 138v2m1 -215v1m0 245v1m0 20v1m1 -307v1m0 120v1m0 6v1m0 70v1m0 33v1m0 11v1m0 8v1m0 63v1m1 -213v1m0 33v1m0 21v1m0 55v1m0 105v1m1 -342v1m0 23v1m0 267v1m1 -173v1m0 30v1m0 142v1m1 -319v1m0 93v1m0 58v1m0 34v1m0 162v1m1 -316v1m0 65v1m0 7v1m0 25v1m0 70v1m0 163v1m1 -333v1m0 53v1m0 233v1m1 -296v1m0 101v1m0 42v1m0 124v1m1 -216v1m0 44v1m0 30v1m0 93v1m0 31v1m1 -194v1m0 63v1m0 27v1m0 4v1m0 124v1m1 -317v1m0 30v1m0 59v1m0 55v1m0 6v1m0 26v1m0 14v1m0 33v1m0 40v1m0 87v1m0 2v1m1 -333v1m0 25v1m0 226v1m1 -251v1m0 158v1m0 10v1m0 48v1m0 62v1m1 -280v1m0 24v1m0 28v1m0 68v1m0 163v1m0 20v1m1 -316v1m0 9v1m0 18v1m0 125v1m1 -164v1m0 59v1m0 82v1m0 84v1m1 -253v1m0 29v1m0 45v1m0 96v1m0 60v1m0 109v1m1 -252v1m0 58v1m0 32v1m0 1v1m0 35v1m0 125v1m1 -265v1m0 76v1m0 10v1m0 68v1m0 97v1m1 -246v1m0 162v1m0 78v1m0 12v1m1 -315v1m0 25v1m0 69v1m0 29v1m0 47v1m0 28v1m0 42v1m0 15v1m0 37v1m1 -275v1m0 164v1m0 118v1m1 -350v1m0 14v1m0 65v1m0 178v1m0 40v1m0 25v1m0 8v1m0 12v1m0 20v1m1 -360v1m0 17v1m0 91v1m0 28v1m0 44v1m0 19v1m0 92v1m1 -269v1m0 51v1m0 8v1m0 195v1m0 9v1m1 -300v1m0 7v1m0 1v1m0 61v1m0 153v1m0 16v1m0 19v1m0 35v1m1 -254v1m0 26v1m0 124v1m0 19v1m0 87v1m0 41v1m1 -261v1m0 131v1m2 -209v1m0 167v1m0 56v1m0 24v1m2 -229v1m0 18v1m0 34v1m0 10v1m0 44v1m0 17v1m0 12v1m0 51v2m0 82v1m0 16v1m2 -207v1m0 87v1m0 60v1m0 2v1m0 28v1m0 7v1m0 11v1m0 21v1m0 1v1m2 -349v1m0 255v1m0 75v1m2 -281v1m0 57v1m0 32v1m0 18v1m0 37v1m0 28v1m0 115v1m2 -229v1m0 56v1m2 -105v1m0 257v1m5 -331v1m0 84v1m0 47v1m0 12v1m0 144v1m0 2v1m0 91v1m5 -331v1m0 89v1m0 63v1m0 71v1m0 32v1m5 -177v1m0 52v1m0 43v1m0 51v1m0 24v1m0 10v1m0 1v1m5 -228v1m0 36v1m0 33v1m0 135v1m5 -138v1m0 3v1m0 33v1m0 22v1m0 30v1m0 64v1m5 -265v1m0 41v1m0 102v1m0 11v1m0 152v1"/><path stroke="#460a5d" d="M0.5 13v1m0 84v1m0 80v1m0 39v1m0 9v1m0 63v1m0 57v1m1 -313v1m0 160v2m0 5v1m0 38v1m0 24v2m0 4v1m1 -138v1m0 2v1m0 114v1m0 44v1m0 5v1m1 -268v1m0 55v1m0 4v1m0 94v1m0 8v1m0 1v1m0 51v1m0 23v1m0 44v1m1 -236v1m0 54v1m0 3v1m0 84v1m0 42v1m0 34v1m0 6v1m0 27v1m1 -317v1m0 155v1m0 37v1m0 44v2m0 2v1m1 1v1m0 9v1m1 -193v1m0 38v1m0 191v1m1 -297v1m0 233v1m1 51v1m1 -279v1m0 44v1m0 71v1m0 56v1m0 41v1m0 67v1m1 -250v1m0 48v1m0 6v1m0 3v1m0 54v1m0 2v1m0 70v1m1 -135v1m0 13v1m0 11v1m0 10v1m1 -137v1m0 17v1m0 51v1m0 29v1m0 105v1m0 70v1m1 -100v1m0 110v1m0 42v1m1 -304v1m0 86v1m0 16v1m0 33v1m0 141v1m0 4v1m0 26v1m1 -357v1m0 54v1m0 75v1m0 123v1m0 96v1m1 -311v1m0 11v1m0 184v1m1 -244v1m0 113v1m0 10v1m0 80v1m0 22v1m0 51v1m0 7v1m1 -278v1m0 318v1m1 -326v1m0 53v1m0 31v1m0 87v1m0 105v1m0 10v1m1 -205v1m0 21v1m0 60v1m0 33v1m1 -137v1m0 6v1m0 254v1m0 9v1m0 4v1m1 -293v1m0 145v1m0 81v1m0 16v1m0 39v1m0 10v1m1 -338v1m0 8v1m0 51v1m0 86v1m0 162v1m0 17v1m1 -327v1m0 93v1m0 24v1m0 13v1m0 90v1m0 8v1m1 -177v1m0 98v1m0 1v1m0 51v1m0 96v1m1 -263v1m0 44v1m0 174v1m1 -254v1m0 37v1m0 165v1m1 -244v1m0 22v1m0 2v1m0 189v1m0 29v1m1 -253v1m0 5v1m1 28v1m0 67v1m0 146v1m0 35v1m1 -227v1m0 105v1m0 27v1m0 48v1m0 3v1m0 98v1m1 -230v1m0 47v1m0 31v1m0 86v1m0 93v1m1 -183v1m0 107v1m1 -286v1m0 11v1m0 8v1m0 57v1m1 56v2m1 -74v1m0 9v1m0 47v1m0 75v2m0 61v1m0 87v1m1 -309v1m0 9v1m0 15v1m0 23v1m0 47v1m0 6v1m0 148v1m1 -268v1m0 65v1m0 21v1m0 97v1m1 -149v1m0 9v1m0 98v1m0 27v1m1 -174v1m0 42v1m1 -3v1m0 101v1m0 21v1m0 35v1m0 110v1m1 -359v1m0 69v1m0 2v1m0 30v1m0 91v1m0 33v1m0 5v1m0 110v1m1 -170v1m0 68v1m0 3v1m0 56v1m0 23v1m0 12v1m1 -191v1m0 181v1m1 -189v1m0 167v1m0 39v1m1 -256v1m0 8v1m0 113v1m0 135v1m0 1v1m1 -293v1m0 16v1m0 27v1m0 134v1m0 74v1m1 -330v1m0 39v1m0 240v1m0 27v1m0 29v1m1 -72v1m0 40v1m1 -220v1m0 27v1m0 78v1m0 26v1m0 58v1m0 23v1m1 -243v1m1 -19v1m0 57v1m0 82v1m0 77v1m1 -193v1m0 29v1m0 101v1m0 12v1m0 30v1m0 108v1m1 -166v1m0 62v1m0 26v1m0 17v1m0 47v1m1 -313v1m0 7v1m0 2v1m0 158v1m0 33v1m0 91v1m1 -278v1m0 133v1m1 -189v1m0 127v1m0 104v1m0 74v1m0 19v2m0 24v1m1 -267v1m0 26v1m0 9v1m0 140v1m1 -164v1m0 10v2m0 47v1m0 63v1m0 60v1m0 32v1m0 25v1m1 -349v1m0 18v1m0 8v1m0 12v2m0 49v1m0 37v1m0 190v1m0 32v1m1 -95v1m0 4v1m0 38v1m0 18v1m0 13v1m0 37v1m1 -363v1m0 110v1m0 17v1m0 7v1m0 108v1m1 -146v1m0 77v1m0 32v1m0 110v1m0 12v1m1 -346v1m0 41v1m0 166v1m0 60v1m1 -250v1m0 47v1m0 2v1m0 67v1m0 46v1m0 22v1m1 -108v1m0 61v1m0 85v1m0 47v1m1 -286v1m0 78v1m0 31v1m0 100v1m0 38v1m0 49v1m1 -181v1m0 181v1m1 -272v1m0 98v1m0 55v1m0 140v1m1 -350v1m0 45v1m0 274v1m0 14v1m0 9v1m1 -336v1m0 8v1m0 8v1m0 59v1m0 78v1m0 160v1m0 7v1m1 -279v1m0 192v1m0 76v1m0 12v1m1 -338v1m0 90v1m0 37v1m0 27v1m0 168v1m0 31v1m1 -312v1m0 13v1m0 71v2m0 176v1m1 -190v1m0 89v1m1 -115v1m0 40v1m0 196v2m0 17v1m1 -187v1m0 3v1m0 5v1m0 61v1m0 8v1m0 22v1m0 10v1m0 9v2m0 1v1m1 -260v1m0 8v1m0 91v1m0 66v1m0 41v1m1 -14v1m1 -118v1m0 27v1m0 57v1m0 92v1m0 35v1m1 -330v1m0 69v1m0 65v1m0 30v1m0 49v1m0 78v1m1 -175v1m0 64v1m0 30v1m0 118v1m1 -173v1m1 -176v1m0 55v1m0 64v1m0 111v1m0 98v1m1 -286v1m0 72v1m0 26v1m0 46v1m0 142v1m1 -310v1m0 54v1m0 4v1m0 4v1m0 69v1m0 64v1m0 85v1m0 55v1m1 -247v1m0 40v1m0 110v1m1 -226v1m0 10v1m0 13v1m0 129v1m0 62v1m0 5v1m0 9v1m0 85v1m1 -123v1m0 7v1m0 8v1m0 57v1m1 -291v1m0 79v1m0 122v1m0 82v1m1 -303v1m0 35v1m0 18v1m0 59v1m0 24v1m0 21v1m0 89v1m1 -178v1m0 49v1m0 161v1m1 -65v1m0 45v1m0 52v1m1 -331v1m0 142v1m0 148v1m0 13v1m1 -278v1m0 13v1m0 24v1m0 110v1m0 44v1m0 9v1m0 1v1m0 60v1m0 53v1m0 6v1m1 -354v1m0 38v1m0 200v1m1 45v1m0 18v1m1 -321v1m0 17v1m0 8v1m0 5v1m0 37v1m0 16v1m0 8v1m0 30v1m0 13v1m0 25v1m0 8v1m0 41v1m1 -152v1m0 4v1m0 14v1m0 3v1m0 87v1m0 11v1m0 167v1m1 -327v1m0 25v1m0 39v1m0 40v1m1 -100v1m0 186v1m0 48v1m1 -273v1m0 15v1m0 145v1m0 133v1m1 -297v1m0 100v1m0 19v2m0 89v1m0 22v1m1 -221v1m0 196v1m0 72v1m0 38v1m1 -283v1m0 59v1m0 84v1m0 4v1m0 10v1m0 107v2m0 2v1m2 -296v1m0 63v1m0 106v1m2 -155v1m0 13v1m0 9v1m0 27v1m0 269v1m2 -333v1m0 97v1m0 37v1m0 59v1m2 -122v1m2 2v1m0 4v1m0 112v1m0 21v1m0 69v1m2 -312v1m0 64v1m0 31v1m0 74v1m0 57v1m0 102v1m0 2v1m0 9v1m2 -344v1m0 44v1m0 82v1m0 50v1m0 1v1m0 99v1m0 54v1m0 15v1m5 -308v1m0 25v1m0 84v1m0 46v1m0 155v1m5 -359v1m0 55v1m0 41v1m0 27v1m0 66v1m0 122v1m0 39v1m5 -240v1m0 95v1m0 7v1m5 -48v1m0 78v1m0 5v1m0 1v1m0 6v1m0 16v1m0 2v1m5 -296v1m0 274v1m0 64v1m5 -200v2m0 73v1"/><path stroke="#460b5e" d="M0.5 55v1m1 -20v1m0 71v1m0 4v1m0 8v1m0 53v1m0 136v1m0 36v1m1 -337v1m0 177v1m0 151v1m1 -220v1m0 40v1m0 61v1m0 54v1m0 88v1m1 -362v1m0 80v1m0 54v1m0 51v1m0 54v1m1 -224v1m0 34v1m0 42v1m0 23v1m0 77v1m0 78v1m0 59v1m1 -252v1m0 44v1m0 5v1m0 20v1m0 53v1m0 90v1m1 -301v1m0 46v1m0 58v1m0 23v1m0 120v1m0 24v1m0 14v1m0 64v1m1 -272v1m0 33v1m0 83v1m0 102v1m0 16v1m1 -327v1m0 10v1m0 12v1m0 123v1m0 48v1m0 83v1m0 42v1m1 -336v1m0 101v1m0 97v1m1 -68v1m0 76v1m0 96v1m1 -206v1m0 19v1m0 85v1m1 -147v1m0 35v1m0 5v1m0 2v1m0 6v1m0 153v1m0 18v1m0 15v1m0 60v1m1 -330v1m0 5v1m0 1v1m0 29v1m0 274v1m0 1v2m0 21v1m1 -219v1m0 9v1m0 16v1m0 134v1m0 41v1m1 -311v1m0 34v1m0 69v1m0 56v1m1 -201v1m0 4v1m0 62v1m0 133v1m1 -172v1m0 27v1m0 37v1m0 206v1m1 -185v1m1 -110v1m0 171v1m1 -85v1m0 47v1m0 189v1m0 7v1m0 23v1m1 -256v1m0 83v1m0 19v1m0 2v1m1 -175v1m0 41v1m0 220v2m1 -258v1m0 3v1m0 20v1m0 60v1m0 36v1m0 40v1m0 64v1m1 -276v1m0 10v1m0 10v1m0 198v1m0 117v1m1 -322v1m0 112v1m0 93v1m0 20v1m0 27v1m0 55v1m1 -151v1m0 79v1m0 7v1m0 34v1m0 14v1m1 -334v1m0 42v1m0 20v1m0 89v1m0 54v1m0 1v1m0 91v1m0 36v1m1 -277v1m0 22v1m0 42v1m0 36v1m0 143v1m1 -311v1m0 6v1m0 44v1m0 23v1m0 17v1m0 38v1m0 58v1m0 4v1m0 40v1m0 49v1m0 33v1m1 -318v1m0 117v1m0 26v1m0 36v1m0 5v1m0 8v1m0 39v1m0 71v1m0 6v1m0 21v1m1 -258v1m0 44v1m0 69v1m1 -206v1m0 23v1m0 64v1m0 7v1m0 20v1m0 206v1m0 33v1m1 -273v1m0 63v1m0 19v1m1 -172v1m0 28v1m0 244v1m1 -244v1m0 132v1m0 20v1m0 6v1m0 181v1m1 -368v1m0 45v1m0 51v1m0 33v1m0 104v1m0 29v1m0 20v2m0 3v1m0 67v1m1 -361v1m0 137v1m0 56v1m0 23v1m1 -211v1m0 124v1m0 114v1m1 -192v1m0 69v1m0 135v1m0 87v1m1 -97v1m1 -150v1m0 21v1m0 45v1m0 76v1m0 18v1m1 -241v1m0 41v1m0 91v1m1 -15v1m1 -101v1m0 90v1m0 14v1m0 77v1m0 7v1m0 107v1m1 -338v1m0 200v1m0 12v1m0 61v1m0 33v1m1 -205v1m0 23v1m0 88v1m0 122v1m0 3v1m1 -316v1m1 -23v1m0 4v1m0 71v1m0 19v1m0 166v1m0 58v1m1 -335v3m0 37v1m0 87v1m0 12v1m0 33v1m0 92v1m1 -241v1m0 25v1m0 46v1m0 9v1m0 115v1m1 -137v1m0 12v1m0 122v1m0 5v1m0 16v1m1 -222v1m0 9v1m0 46v1m0 78v1m0 100v1m0 71v1m0 23v1m1 -241v1m0 3v1m0 55v2m0 135v1m0 25v1m0 5v1m1 -370v1m0 81v1m0 57v1m0 66v1m0 33v1m0 4v1m0 16v1m2 -241v1m0 9v1m0 132v1m0 123v1m1 -268v1m0 231v1m1 -153v1m0 38v1m1 -121v1m1 25v1m0 165v1m0 44v1m0 17v1m0 83v1m1 -267v1m0 19v1m0 12v1m1 83v1m0 44v1m0 30v1m1 -285v1m0 91v1m0 25v1m0 2v1m1 -70v1m0 204v1m0 3v1m0 17v1m0 84v1m1 -361v1m0 7v1m0 147v1m0 93v1m0 41v1m1 -294v1m0 144v1m0 36v1m0 88v1m0 33v1m1 -281v1m0 72v1m1 -45v1m0 149v1m0 76v1m1 -293v1m0 26v1m0 20v1m0 70v1m0 18v1m0 44v1m1 -153v1m0 45v1m0 11v1m0 8v1m0 36v1m0 77v1m1 -198v1m0 112v1m0 116v1m0 70v1m1 -195v1m0 7v1m0 34v1m0 201v1m1 -274v1m0 58v1m0 29v1m0 56v1m0 51v1m0 41v1m1 -275v1m0 20v1m0 46v1m0 1v1m0 53v1m0 6v1m0 89v1m0 4v1m1 -248v1m0 125v1m0 3v1m0 111v1m1 -220v1m0 54v1m0 14v1m0 18v1m0 43v1m0 9v1m0 72v1m0 89v1m1 -358v1m0 131v1m0 47v1m0 15v1m0 5v1m0 50v1m0 7v1m0 3v1m0 59v1m1 -337v1m0 7v1m0 116v1m0 7v1m0 81v1m0 7v1m1 -131v1m0 7v1m0 71v1m0 40v1m0 81v1m0 53v1m0 28v1m1 -209v1m0 38v1m0 28v1m0 71v1m0 3v1m1 -237v1m0 15v1m0 111v1m1 -143v1m0 80v1m0 114v1m0 79v1m1 -174v1m0 5v1m0 146v1m1 -307v1m0 23v1m0 75v1m0 105v1m0 63v1m0 83v1m1 -56v1m1 -287v1m0 135v1m0 52v1m0 68v1m0 66v1m1 -333v1m0 204v1m1 -91v1m0 57v1m0 14v1m1 -191v1m0 37v1m0 18v1m0 63v1m0 65v1m0 125v1m0 6v1m1 -333v2m0 200v1m0 80v1m0 7v1m1 -233v1m0 9v1m0 136v1m0 29v1m0 73v1m0 27v1m1 -285v1m0 10v1m0 46v1m0 57v1m0 32v1m0 4v1m0 36v1m1 -243v1m0 19v1m0 1v1m0 176v1m0 139v1m0 3v1m0 12v1m1 -241v1m0 109v1m0 20v1m0 41v1m1 -285v1m0 124v1m0 16v1m1 -152v1m0 85v1m0 71v1m0 72v1m0 26v1m1 -159v1m0 107v1m0 46v1m1 -182v1m0 252v1m1 -335v1m0 31v1m0 116v1m0 23v1m0 3v1m0 76v1m0 33v1m0 12v1m0 6v1m1 -130v1m0 87v1m0 3v1m1 -170v1m0 7v1m0 78v1m0 18v1m0 66v1m0 45v1m0 10v1m0 2v1m0 6v1m0 9v1m0 8v1m1 -342v1m0 30v1m0 59v1m0 43v1m0 25v1m0 25v1m0 23v2m0 17v1m0 11v1m0 102v1m1 -249v1m0 5v1m0 98v1m0 1v1m0 2v1m0 30v1m0 35v1m0 3v1m0 2v1m1 -190v1m0 6v1m0 43v1m0 16v1m0 14v1m0 43v1m0 4v1m0 27v1m0 30v1m0 30v1m1 -325v1m0 125v1m0 18v1m0 109v1m0 42v1m0 27v1m0 34v1m2 -343v1m0 89v1m0 104v1m2 -190v1m0 37v1m0 25v1m0 46v1m0 9v1m0 76v1m0 50v1m2 -257v1m0 33v1m0 33v1m0 132v1m0 26v1m2 -244v1m0 36v1m0 95v1m0 27v1m2 -126v1m0 7v1m0 51v1m0 24v1m0 36v1m0 6v1m0 43v1m0 23v1m0 88v1m2 -319v1m0 66v1m0 54v1m0 21v1m0 142v1m2 -288v1m0 26v1m0 142v1m0 45v1m0 21v1m0 30v1m5 -128v1m0 105v1m0 66v1m0 11v1m5 -315v1m0 70v1m0 28v1m0 183v1m5 -156v1m0 3v1m0 46v1m5 -208v1m0 63v1m0 202v1m5 -266v1m0 19v1m0 65v1m0 56v1m0 1v1m0 41v1m0 89v1m0 77v1m5 -321v1m0 52v1m0 116v1m0 30v1m0 65v1"/><path stroke="#470d60" d="M0.5 11v1m0 98v1m0 1v1m0 63v1m0 5v1m0 14v1m0 29v1m0 31v1m1 -45v1m0 114v1m1 -227v1m0 34v1m0 60v1m1 -192v1m0 120v1m0 48v1m0 125v1m0 10v1m0 3v1m0 20v1m1 -305v1m0 106v1m0 6v1m1 -46v1m0 40v1m0 26v1m0 40v1m1 -151v1m0 49v1m0 23v1m0 103v1m1 -131v1m0 45v1m0 45v1m0 63v1m1 -264v1m0 58v1m0 17v1m0 116v1m0 110v1m0 36v1m1 -320v1m0 132v1m0 2v1m0 14v1m0 93v1m0 79v1m1 -309v1m0 2v1m0 44v1m0 8v1m0 69v1m0 109v1m0 63v1m0 25v1m1 -255v1m0 67v1m0 16v1m0 121v1m0 12v1m1 -321v1m0 38v1m0 43v1m0 53v1m0 136v1m0 29v1m1 -200v2m0 137v1m0 70v1m1 -331v1m0 95v1m0 48v1m0 46v1m0 17v1m0 65v1m0 49v1m1 -326v1m0 16v1m0 35v1m0 111v1m0 20v1m1 -140v1m0 35v1m0 4v1m0 3v1m0 5v1m0 137v1m0 82v1m1 -266v1m0 72v1m0 40v1m0 76v1m1 -243v1m0 141v1m0 185v1m1 -322v1m0 99v1m0 11v1m0 40v1m0 154v1m0 7v1m0 9v1m0 11v1m1 -286v1m0 4v1m0 4v1m0 31v1m0 30v1m0 3v1m1 -99v1m0 15v1m0 66v1m0 13v1m0 10v1m0 40v1m0 8v1m0 3v1m0 23v1m0 6v1m0 14v1m1 -241v1m0 51v1m0 92v1m0 137v1m1 -271v1m0 52v1m0 126v1m1 -133v1m0 43v1m0 8v1m0 29v1m0 8v1m0 146v1m0 31v1m1 -339v1m0 154v1m0 173v1m1 -186v1m0 58v1m0 14v1m0 46v1m1 -155v1m0 92v1m0 51v1m0 19v1m1 -253v1m0 42v1m0 10v1m0 65v1m0 12v1m0 26v1m0 124v1m0 39v1m1 -335v1m0 190v1m0 56v1m0 38v1m0 15v1m1 -202v1m0 99v1m1 -201v1m0 23v1m0 109v1m0 15v1m0 27v1m0 88v1m0 18v1m0 45v1m1 -224v1m0 38v1m0 9v1m0 170v1m1 -60v1m0 3v1m0 20v2m1 -148v1m0 106v1m1 -98v1m0 37v1m0 55v1m1 -1v1m1 -209v1m0 253v1m0 4v1m0 25v1m1 -300v1m0 20v1m0 128v1m0 41v1m1 -206v1m0 95v1m0 48v1m0 119v1m0 9v1m0 27v1m1 -289v1m0 147v1m0 28v1m0 25v1m1 -231v1m0 192v1m0 36v1m0 33v1m0 18v1m0 37v1m1 -344v1m0 44v1m0 31v1m0 24v1m0 126v1m0 108v1m1 -308v1m0 82v1m0 143v1m0 50v1m0 31v1m1 -225v1m0 36v1m0 22v1m0 139v1m0 34v1m1 -300v1m0 23v1m0 21v1m0 158v1m0 23v1m0 17v1m1 -221v1m0 2v1m0 29v1m0 112v1m0 35v1m0 16v1m0 57v1m1 -337v1m0 109v1m0 18v1m0 12v1m0 123v1m0 29v1m0 66v1m1 -371v1m0 19v1m0 37v1m0 36v1m0 97v1m0 53v1m1 -172v1m0 22v1m0 42v1m0 30v1m0 97v1m0 80v1m1 -308v1m0 2v1m0 302v1m0 6v1m1 -355v1m0 39v1m0 5v1m0 32v1m0 53v1m0 107v1m1 -142v1m0 160v1m0 27v1m1 -286v1m0 21v1m0 20v1m0 70v1m0 34v1m0 205v1m1 -334v1m0 65v1m0 99v1m0 40v1m1 -239v1m0 10v1m0 56v1m0 22v1m0 11v1m0 16v1m0 18v1m0 62v1m0 21v1m0 79v1m1 -208v1m0 260v1m0 11v1m1 -321v1m0 114v1m0 11v1m0 106v1m0 2v1m1 -261v1m0 12v1m0 106v1m0 77v1m0 7v2m0 64v1m0 11v1m0 6v1m1 -299v1m0 2v1m0 11v1m0 47v1m0 46v1m0 25v1m0 64v1m0 96v1m1 -278v1m0 92v1m0 1v1m0 106v1m1 -225v1m0 113v1m0 228v1m1 -280v1m0 29v1m0 38v1m0 218v1m0 5v1m1 -336v1m0 26v1m0 115v1m0 46v1m0 18v1m0 18v1m0 17v1m0 54v1m0 39v1m1 -386v1m0 61v1m0 131v1m0 5v1m0 35v1m0 1v1m0 47v1m0 1v1m0 59v1m1 -250v1m0 88v1m0 18v1m1 75v1m0 46v1m0 28v1m1 -274v1m0 25v1m0 28v2m0 20v1m0 166v1m1 -316v1m0 17v1m0 76v1m0 15v1m0 34v1m0 25v1m0 113v1m0 13v1m0 20v1m0 23v1m0 9v1m1 -316v1m0 8v1m0 100v1m0 11v1m0 61v1m0 112v1m1 -274v1m0 19v1m0 74v1m1 -104v1m0 84v1m0 23v1m0 98v1m0 4v1m0 2v1m0 30v1m0 49v1m1 -285v1m0 21v1m0 25v1m0 28v1m0 39v1m0 46v1m0 81v1m1 -225v1m0 56v1m0 24v1m0 98v1m0 84v1m1 -360v1m0 5v1m0 147v1m0 70v1m0 58v1m0 5v1m0 13v1m1 -268v1m0 19v1m0 50v1m0 88v1m0 26v1m0 10v1m0 118v1m1 -245v1m0 84v1m0 56v1m0 53v1m0 9v1m1 -294v1m0 111v1m0 125v1m1 -187v1m0 149v1m0 69v1m0 26v1m0 23v1m1 -261v1m0 175v1m1 -202v1m0 52v1m0 43v1m0 97v1m1 -161v1m0 24v1m0 54v1m0 92v1m0 74v1m1 -325v1m0 17v1m0 32v2m0 22v1m0 47v1m0 75v1m0 38v1m0 86v1m1 -346v1m0 1v1m0 39v1m0 5v1m0 22v1m0 24v1m0 60v1m0 119v1m0 1v1m1 -265v1m0 28v1m0 99v1m0 1v1m0 185v1m1 -168v1m0 74v1m0 6v1m0 9v1m0 86v1m1 -229v1m0 65v1m0 41v1m1 -189v1m0 29v1m0 23v1m0 18v1m0 106v1m1 -209v1m0 57v1m0 143v1m0 114v1m1 -270v1m0 14v1m0 24v1m0 120v1m0 84v1m0 25v1m1 -224v1m0 208v1m0 1v1m1 -304v1m0 36v1m0 86v1m0 47v1m0 4v1m0 138v1m1 -265v1m0 33v1m0 28v1m1 -110v1m0 27v1m0 43v1m0 25v1m0 74v1m0 43v1m0 32v1m1 -276v1m0 140v1m0 78v1m0 80v1m0 37v1m0 21v1m2 -279v2m0 104v1m0 30v1m0 16v1m0 5v1m1 -209v1m0 153v1m0 48v1m0 29v1m0 75v1m1 -333v1m0 228v1m0 3v1m1 -199v1m0 87v1m0 229v1m1 -337v1m0 15v1m0 53v1m0 19v1m0 15v1m0 72v1m0 58v1m0 36v1m1 -205v1m0 35v1m0 71v1m1 -143v2m0 140v2m0 89v1m1 -269v1m0 123v1m0 94v1m0 25v1m0 82v1m1 -263v1m0 48v1m0 37v1m0 7v1m0 43v1m0 40v1m0 11v1m1 -188v1m0 197v1m0 27v1m1 -297v1m0 40v1m0 3v1m0 38v1m0 108v1m0 65v1m0 41v1m2 -310v1m0 45v1m0 10v1m0 4v1m0 47v1m0 95v1m0 20v1m0 111v1m2 -355v1m2 -18v1m0 75v1m0 12v1m0 13v1m0 88v1m0 16v1m0 38v1m0 35v1m2 -285v1m0 12v1m0 105v1m0 70v1m0 63v1m0 6v1m0 100v1m2 -255v1m0 95v1m0 171v1m2 -375v1m0 175v1m0 47v1m0 46v1m0 38v1m2 -238v1m0 136v1m0 29v1m0 75v1m5 -192v1m0 84v1m0 78v1m0 46v1m0 34v1m5 -250v1m0 9v1m0 67v1m0 166v1m5 -163v1m0 161v1m5 -248v1m0 166v1m0 22v1m0 50v1m5 -316v1m0 25v1m0 56v1m0 8v2m5 -135v1m0 38v1m0 10v1m0 4v1m0 51v1"/><path stroke="#470e61" d="M0.5 87v1m0 11v1m0 93v1m0 51v1m0 18v1m0 27v1m0 52v1m1 -342v1m0 16v1m0 37v1m0 102v1m0 19v1m0 76v1m0 64v1m1 -210v2m0 5v1m0 193v1m0 35v1m0 12v1m1 -281v1m0 109v1m0 30v1m0 22v1m0 90v1m1 -332v1m0 83v1m0 82v1m0 144v1m0 40v1m1 -323v1m0 27v1m0 27v1m0 82v1m0 94v1m0 70v1m1 -294v1m0 34v1m1 7v1m0 49v1m0 156v1m0 29v1m0 25v1m0 24v1m1 -358v1m0 72v1m0 90v1m0 86v1m0 80v1m0 9v1m1 -314v1m0 11v1m0 33v1m0 30v1m0 234v1m1 -341v1m0 94v1m0 156v1m1 -214v1m0 131v1m0 83v1m0 7v1m1 -291v1m0 19v1m0 6v1m0 194v1m0 6v1m0 20v1m0 45v1m0 2v1m0 73v1m1 -364v1m0 41v1m0 20v1m0 22v1m0 39v1m0 25v1m0 74v1m0 29v1m0 36v1m1 -255v1m0 26v1m0 11v1m0 7v1m0 78v1m0 88v1m1 -254v1m0 71v1m0 292v1m1 -357v1m0 101v1m0 17v1m0 69v1m0 59v1m0 15v1m0 26v1m0 20v1m0 29v1m1 -252v1m0 49v1m0 95v1m0 40v1m1 -166v1m0 18v1m0 60v1m0 54v1m1 -223v1m0 54v1m0 42v1m0 135v1m1 -267v1m0 74v1m0 18v1m0 14v1m0 100v1m0 13v1m0 24v1m0 37v1m0 13v1m1 -306v1m0 264v1m0 6v1m0 59v1m1 -298v1m0 13v1m0 3v1m0 198v1m0 21v1m0 43v1m0 11v1m0 3v1m1 -334v1m0 62v1m0 285v1m1 -62v1m0 48v1m1 -116v1m0 4v1m0 100v1m1 -303v1m0 64v2m0 14v1m0 129v1m1 -209v2m0 48v1m0 123v1m0 78v1m0 44v1m1 -291v1m0 14v1m0 25v1m0 205v1m1 -61v1m0 81v1m0 35v1m1 -339v1m0 5v1m0 38v1m0 88v1m0 55v1m0 66v1m0 82v1m0 14v1m1 -372v1m0 11v1m0 105v1m0 34v1m0 19v1m0 11v1m1 13v1m1 -2v1m0 80v1m1 -210v1m0 26v1m0 111v1m0 58v1m0 14v1m1 -157v1m0 11v1m0 72v1m1 -158v1m0 47v1m1 -45v1m0 160v1m0 48v1m0 48v1m0 19v1m0 25v1m1 -133v1m0 1v1m0 8v1m0 16v1m0 12v1m0 6v1m0 10v1m0 62v1m1 -192v1m0 9v1m0 174v1m1 -331v1m0 95v1m0 27v1m0 68v1m0 142v1m1 -149v1m0 31v1m0 62v1m0 27v1m0 9v1m1 -300v1m0 21v1m0 8v1m0 80v1m0 101v1m0 57v1m1 -309v1m0 17v1m0 96v1m0 32v1m1 -131v1m0 87v1m0 78v1m0 41v1m0 130v1m1 -244v1m0 26v1m0 31v1m0 36v1m0 130v1m0 22v1m1 -270v1m0 35v1m1 -55v1m0 7v1m0 160v1m0 9v1m1 -259v1m0 147v1m0 93v1m0 102v1m0 18v1m1 -324v1m0 45v1m0 95v1m0 113v1m0 46v1m1 -314v1m0 24v1m0 212v1m0 46v1m1 -283v1m0 126v1m0 136v1m0 9v1m1 -259v1m0 30v1m0 48v1m0 190v1m1 -303v1m0 17v1m0 30v1m0 212v1m0 11v1m1 -295v1m0 1v1m0 3v1m0 16v1m0 269v1m0 52v1m1 -326v1m0 3v1m0 52v1m0 29v1m0 44v1m0 43v1m0 37v1m0 45v1m0 29v1m0 33v1m0 5v1m1 -341v1m0 179v1m0 60v1m0 49v1m0 58v1m1 -350v1m0 24v1m0 77v1m0 157v1m0 1v1m0 86v1m1 -350v1m0 33v1m0 9v1m0 79v1m0 20v1m0 30v1m1 -153v1m0 85v1m0 64v1m0 27v1m0 30v1m0 63v1m0 50v1m1 -332v1m0 81v1m0 89v1m0 117v1m0 40v1m1 -238v1m0 15v1m0 79v1m0 131v1m1 -343v1m0 108v1m0 20v1m0 64v1m0 20v1m0 14v1m0 90v1m0 13v1m0 3v1m1 -320v1m0 6v1m0 217v1m0 57v1m1 -249v1m0 51v1m0 28v1m0 105v1m0 55v1m0 33v1m1 -127v1m0 5v1m0 54v1m1 -256v1m0 64v1m0 126v1m0 31v1m0 32v1m0 22v1m0 39v1m1 -298v1m0 32v1m0 77v1m0 159v1m1 -248v1m0 52v1m0 28v1m0 117v1m0 71v1m0 1v1m1 -343v1m0 11v1m0 38v1m0 49v1m0 11v1m0 103v1m0 50v1m0 86v1m1 -147v1m0 4v1m0 116v1m1 -145v1m0 14v1m0 86v1m0 47v1m1 -337v1m0 31v1m0 32v1m0 69v1m0 90v1m0 28v1m0 31v1m1 -230v1m0 106v1m0 26v1m0 63v1m0 31v1m0 16v1m1 -305v1m0 52v1m0 46v1m0 59v1m0 127v1m1 -260v1m0 296v1m1 -296v1m0 34v1m0 38v1m0 23v1m0 92v1m1 -182v1m0 34v1m0 164v1m0 17v1m1 -254v1m0 51v1m0 43v1m0 20v1m0 113v1m1 -19v1m0 57v2m1 -114v1m0 67v1m0 101v1m1 -313v1m0 196v1m0 5v1m0 40v1m0 3v1m1 -206v1m0 278v1m0 1v1m1 -347v1m0 161v1m0 16v1m0 122v1m0 19v1m1 -232v1m0 147v1m0 34v1m0 1v1m0 18v1m0 6v1m1 -221v1m0 183v1m0 8v1m0 60v1m1 -281v2m1 -63v1m0 21v1m0 84v1m0 78v1m0 2v1m0 21v1m0 52v1m0 28v1m0 5v1m0 3v1m0 20v1m0 1v1m0 2v1m1 -254v1m0 27v1m0 29v1m0 82v1m0 78v1m0 29v1m1 -203v1m0 56v1m0 35v1m0 134v1m1 -149v1m1 -161v1m0 95v1m0 108v1m0 69v1m1 -297v1m0 118v2m0 71v1m1 -196v1m0 310v1m0 9v1m1 -343v1m0 76v1m0 102v1m0 95v1m0 37v1m0 26v1m1 -264v1m0 89v1m0 7v1m0 164v1m0 2v1m0 15v1m1 -350v1m0 221v1m0 98v1m1 -148v1m0 52v1m1 -219v1m0 12v1m0 22v1m0 17v1m0 16v1m0 38v1m1 -127v1m0 25v1m0 27v1m0 26v1m0 2v1m0 169v1m0 11v1m0 90v2m1 -159v1m0 74v1m0 62v1m1 -289v1m0 48v1m0 5v1m0 10v1m0 68v1m0 46v1m0 56v1m0 15v1m0 17v1m0 7v1m1 -318v1m0 1v1m0 124v1m0 46v1m0 14v1m0 24v1m0 79v1m0 14v1m0 10v1m1 -319v1m0 108v2m0 114v1m2 -127v1m0 117v1m1 -126v3m2 -118v1m2 161v1m0 14v1m0 90v1m0 42v1m0 34v1m2 -263v1m0 13v1m0 12v1m0 130v1m2 -1v1m2 -208v1m0 185v1m0 133v1m2 -218v1m0 35v1m2 -144v1m0 75v1m0 104v1m0 62v1m0 50v1m0 4v1m5 -256v1m0 149v1m5 -80v1m0 25v1m0 4v1m0 26v1m0 20v1m0 4v1m0 130v1m5 -338v1m0 54v1m0 23v1m0 39v1m5 -93v1m0 59v1m0 57v1m0 175v1m5 -323v1m0 27v1m0 167v1m0 129v1m0 8v1m5 -307v1m0 86v1m0 3v1m0 30v1"/><path stroke="#471063" d="M0.5 7v1m0 68v1m0 26v1m0 20v1m0 204v1m0 5v1m1 -307v1m0 48v1m0 211v1m0 54v1m0 5v1m1 -307v1m0 81v1m0 9v1m0 119v1m1 -170v1m0 8v1m0 95v1m0 69v1m1 -262v1m0 43v1m0 221v1m0 11v1m0 2v2m0 10v1m0 54v1m1 -292v1m0 1v1m0 23v1m0 26v1m0 222v1m0 39v1m1 -330v1m0 37v1m0 3v1m0 5v1m0 10v1m0 85v1m0 27v1m0 97v1m0 43v1m0 5v1m0 3v1m1 -370v1m0 59v1m0 1v1m0 71v1m0 44v1m0 177v1m1 -341v1m0 66v1m0 39v1m0 112v1m0 11v1m0 85v1m1 -303v1m0 40v1m1 13v1m0 121v1m1 -207v1m0 32v1m0 54v1m0 82v1m1 176v1m1 -337v1m0 9v1m0 180v1m0 62v1m0 38v1m1 -190v1m0 49v1m0 71v1m0 14v1m0 46v1m0 24v1m1 -328v1m0 10v1m0 76v1m0 9v1m0 73v1m0 189v1m1 -325v1m0 14v1m0 139v1m0 87v1m0 48v1m0 25v1m0 2v1m1 -342v1m0 16v1m0 4v1m0 37v1m0 62v1m0 3v1m0 22v1m0 59v1m1 -213v1m0 151v1m0 37v1m1 -102v1m0 51v1m0 62v1m0 112v1m0 24v1m1 -358v1m0 194v1m0 79v1m1 -229v1m0 96v1m0 104v1m0 17v1m1 -179v1m0 17v1m0 3v1m0 22v1m0 33v1m0 15v1m0 19v1m0 85v1m1 -291v1m0 15v1m0 15v1m0 8v1m0 112v1m0 76v1m0 51v1m1 -254v1m0 49v1m0 59v1m0 194v1m1 -310v1m0 53v1m0 66v1m0 22v1m0 35v1m0 5v1m1 -130v1m0 29v1m0 53v1m0 12v1m0 20v1m0 22v1m0 2v1m0 15v1m1 -167v1m0 64v1m0 96v1m0 32v1m0 60v1m1 -320v1m0 349v1m0 2v1m1 -333v1m0 30v1m0 5v1m0 45v1m0 10v1m0 105v1m0 3v1m0 57v1m1 -298v1m0 10v1m0 34v1m0 1v1m0 112v1m0 31v1m0 47v1m0 43v1m1 -269v1m0 113v1m0 199v2m1 -310v1m0 315v1m0 1v1m1 -118v1m0 95v1m1 -320v1m0 17v2m0 43v1m0 46v1m0 164v1m1 -179v1m0 58v1m0 145v1m1 -306v1m0 131v1m0 189v1m0 37v1m1 -206v2m0 78v1m0 51v1m0 31v1m0 46v1m1 -355v1m0 39v1m0 31v1m0 91v1m0 145v1m1 -259v1m0 4v1m0 226v1m0 31v1m0 29v1m1 -195v1m0 158v1m1 -315v1m0 65v1m0 87v1m0 1v1m0 95v1m0 35v1m1 -299v1m0 87v1m0 28v1m0 21v1m0 8v1m0 86v1m0 58v1m1 -296v1m0 58v1m0 112v1m0 5v1m0 95v1m0 12v1m0 14v1m1 -152v1m1 -145v1m0 42v1m0 200v1m0 5v1m1 -207v1m0 57v1m0 77v1m0 43v1m0 4v1m0 54v1m1 -161v1m0 3v1m0 57v1m0 57v1m0 69v1m1 -285v1m0 66v1m0 4v1m1 -67v1m0 74v1m0 29v1m0 60v1m0 49v1m0 89v1m1 -339v1m0 20v1m0 6v1m0 164v1m0 9v1m0 90v1m0 23v1m1 -320v1m0 135v1m0 26v1m0 101v1m0 9v1m0 24v1m1 -256v1m0 68v1m0 8v1m0 54v1m0 41v1m0 53v1m0 39v1m1 -212v1m0 249v1m1 -328v1m0 45v1m0 107v1m0 1v1m0 88v1m0 64v1m0 10v1m1 -283v1m0 102v1m0 112v1m0 24v1m1 -212v1m0 93v1m0 104v1m0 47v2m0 12v1m1 -181v1m0 22v1m0 109v1m1 -82v1m0 36v1m0 83v1m1 -343v1m0 155v1m0 8v1m0 7v1m0 42v1m0 109v1m1 -268v1m0 35v1m0 28v1m0 82v1m0 41v1m0 52v1m1 -278v1m0 54v1m0 2v1m0 113v1m0 31v1m0 38v1m0 39v1m1 -193v1m0 27v1m0 7v1m0 103v1m1 -263v1m0 80v1m0 115v1m0 8v1m0 135v1m0 8v1m0 12v1m1 -339v1m0 58v1m0 72v1m0 14v1m0 36v1m0 106v1m0 33v1m1 -364v1m0 19v1m0 97v1m0 16v1m0 26v1m0 78v1m0 19v1m0 39v1m0 66v1m1 -317v1m0 86v1m0 38v1m0 10v1m0 19v1m0 2v1m0 31v1m1 -166v1m0 88v1m0 12v1m0 18v1m0 5v1m0 9v1m0 70v1m0 70v1m0 7v1m1 -316v1m0 33v1m0 30v1m0 52v1m0 11v1m0 8v1m0 33v1m0 62v1m0 80v1m1 -254v1m0 75v1m0 76v1m1 -235v1m0 21v1m0 47v1m0 25v1m0 16v1m0 152v1m1 -257v1m0 77v1m0 12v1m0 9v1m0 16v1m0 53v1m0 4v1m0 104v1m0 15v1m1 -325v1m0 26v1m0 85v1m0 113v1m0 42v2m0 64v1m1 -333v1m0 137v1m0 79v1m0 116v1m1 -346v1m0 10v1m0 100v1m0 156v1m0 20v1m1 -301v1m0 150v1m0 97v1m0 27v1m0 27v1m0 15v1m0 7v1m1 -318v1m0 29v1m0 34v1m0 53v1m0 64v1m0 2v1m0 138v1m1 -335v1m0 17v1m0 143v1m0 79v1m1 -170v1m0 235v1m0 30v1m1 -326v1m0 1v1m0 37v1m0 138v1m0 10v1m0 3v1m0 44v1m0 2v1m0 70v1m1 -225v1m0 18v1m0 24v1m0 50v1m0 3v1m0 26v1m0 24v1m0 18v1m0 8v1m1 -183v2m0 192v1m0 28v1m0 25v1m0 14v1m1 -370v1m0 60v1m1 22v1m0 112v1m0 45v1m0 21v1m0 74v1m1 -329v1m0 183v1m0 23v1m1 -207v1m1 54v1m0 76v1m0 136v1m1 -283v1m0 53v1m0 6v1m0 48v1m0 51v1m0 4v1m0 202v1m1 -344v1m0 4v1m0 4v1m0 11v1m0 4v1m0 28v1m0 4v1m0 80v1m0 118v1m0 12v1m0 15v1m0 9v1m0 35v1m1 -312v1m1 106v1m0 180v1m0 32v1m1 -341v1m0 96v1m0 32v1m0 20v1m0 123v1m1 -303v1m0 151v1m0 69v1m0 42v1m1 -72v1m0 38v1m0 26v1m0 36v1m0 74v1m1 -341v1m0 22v1m0 52v1m0 32v1m0 3v1m0 3v1m0 61v1m0 25v1m0 54v1m0 1v1m1 -242v1m0 167v1m0 89v1m0 5v1m1 -303v1m0 1v1m0 23v1m0 6v1m0 213v1m0 106v1m1 -324v1m0 2v1m0 63v1m0 199v1m0 35v1m1 -302v1m0 100v1m0 25v1m0 103v1m0 11v1m1 -282v1m0 75v1m0 119v1m0 61v1m0 28v1m0 52v1m1 -310v1m0 191v1m0 63v1m1 -191v1m0 59v1m0 13v1m0 13v1m0 72v1m0 31v1m1 -262v1m0 17v1m0 191v1m1 -259v1m0 125v1m0 47v1m0 114v1m0 14v1m0 5v1m0 28v1m1 -285v1m0 22v1m0 30v1m0 62v1m0 102v1m0 18v1m1 -267v1m0 76v1m0 36v1m0 7v1m0 19v1m0 23v1m0 70v1m1 -261v1m0 30v1m0 18v1m0 18v1m0 99v1m2 -95v1m0 65v1m0 109v1m2 -192v2m0 19v1m0 208v1m2 -265v1m0 143v1m0 15v1m0 42v1m0 72v1m2 -217v1m0 88v1m0 111v1m0 4v1m0 18v1m2 -303v1m0 92v1m0 81v1m0 8v1m0 160v1m2 -343v1m0 17v1m0 96v1m0 72v1m0 156v1m2 -327v1m0 190v1m5 -148v1m0 47v1m0 148v1m0 1v1m0 38v1m5 -281v1m0 41v1m0 97v1m5 -151v1m0 167v1m0 142v1m5 -245v1m0 36v1m0 1v1m0 99v1m0 110v1m0 40v1m5 -374v1m0 73v1m0 3v1m0 123v1m5 -47v1m0 26v1m0 181v1"/><path stroke="#471164" d="M0.5 16v1m0 6v1m0 53v1m0 44v1m0 55v1m0 60v1m0 118v1m0 1v1m1 -339v1m0 62v1m0 168v1m0 2v1m1 -174v1m0 50v1m0 190v1m1 -306v1m0 62v1m0 111v1m0 16v1m0 8v1m0 27v2m0 25v1m1 -159v1m0 11v1m0 102v1m1 -183v1m0 39v1m0 105v1m0 1v1m0 56v1m0 1v1m0 48v1m0 65v1m1 -372v1m0 45v1m0 20v1m0 72v1m0 46v1m0 154v1m1 -325v1m0 60v1m0 110v1m0 135v1m0 20v1m1 -312v1m0 136v1m0 15v1m0 8v1m0 1v1m0 104v1m0 26v1m1 -212v1m1 -103v1m0 46v1m0 77v1m0 66v1m1 -111v1m0 226v1m1 -143v1m0 177v1m1 -354v1m0 119v1m0 79v1m1 -125v1m0 275v1m1 -344v1m0 29v1m0 69v1m0 28v2m0 7v1m0 92v1m1 -77v1m0 2v1m0 27v1m0 46v1m1 -124v1m0 18v1m0 163v1m1 -164v1m1 65v1m1 -178v1m0 13v1m0 30v1m0 59v1m0 176v1m1 -107v1m0 135v1m0 21v1m0 2v1m0 4v1m1 -336v1m0 14v1m0 20v1m1 -56v1m0 239v1m0 4v2m0 1v1m0 35v1m1 -218v1m0 83v1m0 164v1m1 -224v1m0 17v1m0 79v1m1 -209v1m0 8v1m0 32v1m0 177v1m0 118v1m0 18v1m1 -229v1m0 5v1m0 183v1m1 -334v1m0 23v1m0 155v1m0 110v1m1 -267v1m0 160v1m0 17v1m1 -184v2m0 2v1m0 152v1m0 40v1m0 91v1m0 30v1m1 -303v1m0 83v1m0 117v2m0 89v1m0 1v1m0 33v1m1 -360v1m0 152v1m0 6v1m0 152v1m1 -47v1m0 30v1m0 9v1m0 18v1m0 46v1m1 -331v1m0 10v1m0 154v1m0 1v1m0 55v1m0 15v1m0 13v1m1 -186v1m0 89v1m1 -198v1m0 20v1m0 79v1m0 4v1m0 121v1m0 38v1m1 -251v1m0 32v1m0 81v1m0 205v1m0 3v1m1 -347v1m0 134v1m0 190v1m1 -260v1m1 150v1m0 4v1m0 24v1m0 31v1m0 35v1m1 -253v1m0 107v1m0 26v1m0 49v1m0 75v1m1 -330v1m0 5v1m0 8v1m0 9v1m0 19v1m0 94v1m0 60v1m0 103v1m1 -300v1m0 96v1m0 23v1m0 212v1m1 -161v1m0 11v1m0 113v1m1 -279v1m0 4v1m0 39v1m0 43v1m0 234v1m1 -181v1m0 183v1m1 -355v1m0 15v1m0 30v1m0 24v1m0 231v1m1 -243v1m0 151v1m1 -213v1m0 45v1m0 91v1m0 38v1m0 11v1m0 23v1m0 16v1m0 39v1m0 36v1m1 -319v1m0 2v1m0 61v1m0 34v1m0 114v1m0 88v1m0 26v1m0 38v1m1 -336v1m0 6v1m1 107v1m0 87v1m0 51v1m0 42v2m1 -271v1m0 65v1m0 15v1m0 37v1m0 92v1m1 -279v1m0 22v1m0 15v1m0 81v1m0 25v1m0 24v1m1 -145v1m0 64v1m0 189v1m0 50v1m0 36v1m1 -268v1m0 12v1m0 217v1m0 2v1m1 -339v1m0 94v1m0 107v1m0 153v1m1 -251v1m0 11v1m0 29v1m0 25v1m0 43v1m0 43v1m0 73v1m1 -337v1m0 46v1m0 24v1m0 8v1m0 8v1m0 152v1m1 -33v1m0 37v1m0 21v1m1 -187v1m0 39v1m0 77v1m0 5v1m0 30v1m0 6v1m0 36v1m0 29v1m0 18v1m0 36v1m1 -289v1m0 9v1m0 38v1m0 9v1m1 62v1m0 63v1m0 111v1m1 -358v1m0 123v1m0 14v1m0 127v1m0 18v1m1 -90v1m0 70v1m0 57v1m1 -295v1m0 22v1m0 27v1m0 63v1m0 75v1m0 93v1m1 -329v1m0 66v1m0 211v1m0 48v1m1 -294v1m0 16v1m0 114v1m0 44v1m1 -89v1m0 72v1m0 19v1m0 60v1m1 -184v1m1 -40v1m0 121v1m0 43v1m0 1v1m0 36v1m1 -223v1m0 29v1m0 30v1m0 42v1m0 36v1m0 135v1m0 10v1m1 -232v1m0 9v1m0 103v1m0 140v1m1 -329v1m0 17v1m0 133v1m0 73v1m1 -83v1m0 60v1m0 99v1m0 20v1m0 7v1m1 -366v1m0 18v1m0 218v1m0 34v1m0 14v1m0 19v1m0 48v1m1 -323v1m0 157v1m0 72v1m1 -123v1m0 157v1m1 -237v1m0 112v1m1 -169v1m0 47v1m0 13v1m1 -37v1m0 8v1m0 93v1m0 103v1m0 64v1m1 -309v1m0 4v1m0 28v1m0 51v1m0 32v1m0 55v1m0 173v1m0 7v1m1 -328v1m0 5v1m0 83v1m0 105v1m0 45v1m0 21v1m1 -234v1m1 215v1m0 57v1m1 -303v1m0 130v1m0 70v1m0 66v1m0 25v1m1 -302v1m0 34v1m0 6v1m0 68v1m0 6v1m0 23v1m0 88v1m0 15v1m0 4v1m0 51v1m0 1v1m1 -334v1m0 38v1m0 167v2m0 18v1m0 19v1m0 12v1m0 17v1m1 -162v1m0 187v1m0 23v1m1 -331v1m0 39v1m0 56v1m0 169v1m0 40v1m1 -268v1m0 103v1m0 63v1m0 53v1m0 1v1m0 58v1m0 14v1m1 -207v1m0 24v1m1 -163v1m0 32v1m0 111v1m0 40v1m0 64v1m1 -183v1m0 75v1m0 52v1m1 -195v1m0 284v1m1 -270v1m0 79v1m0 30v1m0 16v1m0 129v1m1 -240v1m0 21v1m0 28v1m0 249v1m1 -226v1m0 53v1m0 95v1m0 43v1m0 44v1m1 -249v1m0 114v1m0 20v1m0 126v1m1 -330v1m0 2v1m0 42v1m0 116v1m0 142v1m0 23v1m1 -293v1m0 74v1m0 101v1m0 22v1m0 36v1m0 8v1m0 21v1m0 18v1m1 -367v1m0 85v1m0 114v1m0 59v1m1 -249v1m0 73v1m0 44v1m0 11v1m0 75v1m0 82v1m1 -171v1m0 74v1m0 49v1m0 87v1m1 -340v1m0 59v1m1 -59v1m0 25v1m0 98v1m0 27v1m0 97v1m0 58v1m0 43v1m2 -318v1m0 6v1m0 90v1m0 117v1m0 18v1m0 1v1m0 6v1m0 37v1m0 6v1m0 4v1m2 -293v1m0 32v1m0 8v1m0 44v1m0 186v1m2 -183v1m0 8v1m0 21v1m0 97v1m2 -158v1m0 71v1m0 169v1m2 -345v1m0 26v1m0 60v1m0 104v1m0 106v1m0 19v1m0 4v1m2 -283v1m0 25v1m0 25v1m0 28v1m0 142v1m0 14v1m2 -281v1m0 7v1m0 6v1m0 2v1m0 50v1m0 57v1m5 73v1m0 6v1m0 9v1m0 37v1m0 119v1m5 -352v1m0 219v1m0 21v1m5 -143v1m0 57v1m0 13v1m5 -156v3m0 13v1m0 49v1m0 23v1m0 35v1m0 91v1m0 6v1m5 -266v1m0 90v1m0 23v1m0 124v1m0 122v1m5 -365v1m0 138v1m0 179v1"/><path stroke="#471365" d="M0.5 106v1m0 48v2m0 9v1m0 112v1m0 63v1m1 -297v1m0 24v1m0 58v1m0 59v1m0 17v1m1 -200v1m0 40v1m0 13v1m0 41v1m0 39v1m0 100v1m0 2v1m0 12v1m1 -206v1m0 98v1m0 103v1m1 -186v1m0 136v1m0 18v1m0 22v1m0 39v1m0 39v1m0 22v1m1 -245v1m0 80v1m0 5v1m0 155v1m1 -335v1m0 47v1m1 -22v2m0 35v1m0 98v1m0 56v1m1 -232v1m0 84v1m0 25v1m0 26v1m0 86v1m0 22v1m1 -192v1m0 64v1m0 11v1m0 87v1m1 -195v1m0 8v1m1 61v1m0 113v1m0 60v1m1 -263v1m0 75v1m0 104v1m0 109v1m1 -256v1m0 30v1m0 61v1m0 40v1m0 155v1m1 -296v1m0 27v1m1 -5v1m0 51v1m0 100v1m0 28v1m1 -260v1m0 141v1m0 54v1m1 -144v1m0 67v1m0 29v1m0 79v1m0 116v1m1 -343v1m0 4v1m0 82v1m0 139v1m0 29v1m1 -265v1m0 67v1m0 104v1m0 45v1m0 62v1m0 1v1m0 19v1m1 -264v1m0 4v1m0 35v1m0 156v1m0 45v1m1 -274v1m0 34v1m0 118v1m0 135v1m0 21v1m0 44v1m0 1v1m0 1v1m1 -229v1m0 32v1m0 10v1m0 2v1m1 -173v1m0 7v1m0 28v1m0 42v1m0 83v1m0 124v1m1 -277v1m0 111v1m0 7v1m0 25v1m0 58v1m0 83v1m1 -178v1m0 17v1m0 8v1m0 96v1m0 23v1m0 53v1m0 23v1m1 -218v1m0 129v1m0 70v1m1 -337v1m0 31v1m0 66v1m0 46v1m0 18v1m0 103v1m0 17v1m0 9v1m1 -275v1m0 188v1m0 46v1m0 10v1m0 74v1m1 -282v1m0 49v1m0 16v1m0 59v1m0 65v1m1 -197v1m0 147v1m0 86v1m1 -89v1m1 -63v1m0 1v1m0 50v1m0 98v1m1 -257v1m0 27v1m0 30v1m0 121v1m0 57v1m1 -257v1m0 11v1m0 44v1m0 206v1m1 -60v1m1 -126v1m0 21v1m0 122v1m1 -224v1m0 128v1m0 109v1m0 20v1m1 -275v1m0 40v1m0 40v1m0 64v1m0 4v1m0 9v1m0 98v1m1 -160v1m0 3v1m0 58v1m0 2v1m0 7v1m0 12v1m0 86v1m0 24v1m2 -290v1m0 54v1m0 43v1m0 81v1m0 64v1m0 11v1m0 57v1m1 -271v1m0 191v1m1 -200v1m0 154v1m1 -226v1m0 90v1m0 12v1m0 16v1m0 130v1m0 24v1m1 -279v1m0 61v1m0 54v1m0 58v1m0 6v1m0 1v1m0 98v1m0 36v1m1 -265v1m0 21v3m0 187v1m0 8v1m1 -189v1m0 171v1m0 6v1m0 6v1m0 22v1m1 -301v1m0 151v1m0 44v1m0 57v1m0 15v1m0 36v1m1 -102v1m1 -197v1m0 115v1m0 1v1m0 75v1m0 66v1m0 7v1m1 -106v1m0 55v1m0 26v1m0 71v1m1 -205v1m0 6v1m0 63v1m0 5v1m1 -24v1m0 29v1m0 24v1m0 68v1m1 -303v1m0 74v1m0 15v1m0 57v1m0 4v1m1 109v1m0 68v1m1 -344v2m0 55v1m0 48v1m0 148v1m1 -69v1m0 19v1m0 20v1m0 26v1m0 90v1m1 -219v1m0 123v1m0 22v1m0 17v1m0 54v1m1 -334v1m0 29v1m0 83v1m0 99v1m0 43v1m1 -73v1m0 76v1m0 19v1m1 -248v1m0 51v1m0 80v1m0 51v1m0 8v1m0 1v1m0 57v1m0 29v1m0 31v1m1 -305v1m0 2v1m0 294v1m0 6v1m1 -374v1m0 367v1m1 -366v1m0 59v1m0 20v1m0 16v1m0 4v1m0 118v1m0 17v1m0 21v1m0 1v1m0 32v1m0 22v1m0 4v1m1 -246v1m0 10v1m1 45v1m0 194v1m1 -335v1m0 32v1m0 12v1m0 164v1m0 65v1m0 44v1m0 20v1m1 -328v1m0 230v1m0 75v1m1 -316v1m0 91v1m0 44v1m0 10v1m0 69v1m0 28v1m1 -241v1m0 23v1m1 13v1m0 17v1m0 48v3m0 29v1m0 5v1m0 6v1m0 117v1m0 7v1m0 45v1m1 -282v1m0 205v1m1 -254v1m0 121v1m0 108v1m0 43v1m0 71v1m2 -351v1m0 79v1m0 55v1m0 24v1m0 60v1m1 -180v1m0 28v1m0 130v1m0 62v1m0 50v1m1 -252v1m0 61v1m0 62v1m0 103v1m0 64v1m1 -230v1m0 11v1m0 116v1m0 70v1m0 3v1m1 -308v1m0 46v1m0 40v1m0 30v1m0 25v1m1 -180v1m0 100v1m0 78v1m0 2v1m1 -160v1m0 48v1m0 2v1m0 45v1m0 54v1m0 22v1m1 -188v1m0 169v1m0 94v1m1 -270v1m0 16v1m0 19v1m0 84v1m0 16v1m0 97v1m1 -143v1m0 57v1m0 113v1m0 13v1m0 55v1m0 20v1m1 -359v1m0 15v1m0 1v1m0 35v1m0 17v1m0 46v1m0 107v1m1 -86v1m0 24v1m0 109v1m0 49v1m1 -253v1m0 91v1m0 8v1m0 58v1m0 53v1m0 25v1m0 22v1m0 30v1m1 -225v1m0 9v1m0 10v1m0 73v1m0 12v1m0 27v1m0 40v1m1 -309v1m0 67v1m0 19v1m0 18v1m0 131v1m1 -200v1m0 93v1m0 14v1m0 123v1m1 -279v1m0 26v1m0 1v1m0 74v1m0 65v1m0 82v1m1 -32v1m0 10v1m0 43v1m1 -280v1m0 69v1m0 22v1m0 32v1m0 13v1m0 148v1m0 54v1m0 4v1m1 -101v1m1 -179v1m0 263v1m1 -255v1m0 24v1m0 1v1m0 189v1m0 48v1m0 5v1m1 -257v1m0 19v1m0 43v1m1 -151v1m0 13v1m0 45v1m1 27v1m0 97v1m0 32v1m0 4v1m0 14v1m0 46v1m1 -312v1m0 7v1m0 18v1m0 132v1m0 154v1m0 12v1m0 31v1m0 3v1m1 -343v1m0 7v1m0 213v1m1 -246v1m0 80v1m0 71v1m0 77v1m0 73v1m0 17v1m1 -266v1m0 222v1m0 29v1m0 14v1m0 19v1m1 -330v1m0 32v1m0 123v1m0 75v1m0 101v1m0 9v1m1 -279v1m0 36v1m0 28v1m0 36v1m1 -188v1m0 55v1m0 6v1m0 116v1m0 130v1m2 -219v1m0 18v1m0 40v1m0 149v1m2 -286v1m0 87v1m0 39v1m0 2v1m0 53v1m0 31v1m2 -231v1m0 32v1m0 35v1m0 84v1m0 37v1m0 15v1m0 49v1m0 58v1m0 46v1m2 -364v1m0 10v1m0 50v1m0 25v1m0 98v1m0 61v1m2 -240v1m0 1v1m0 26v1m0 51v1m0 11v1m0 18v1m0 50v1m0 110v1m0 65v1m0 6v1m2 -312v1m0 14v1m0 288v1m2 -361v1m0 143v1m0 7v1m0 129v1m0 22v1m0 28v1m5 -317v1m0 169v1m0 34v1m0 10v1m5 -231v1m0 15v1m0 144v1m0 5v1m0 21v1m0 15v1m0 28v1m0 2v1m0 67v1m5 -251v1m0 38v1m0 16v1m0 155v1m5 -256v1m0 167v1m0 78v1m0 93v1m0 8v1m5 -334v1m0 121v1m0 100v1m0 56v1m5 -96v1m0 18v1m0 49v1m0 11v1m0 26v1m0 48v1"/><path stroke="#481467" d="M0.5 114v1m0 4v1m0 57v1m0 70v1m0 53v1m0 11v1m0 8v1m0 3v1m0 2v1m0 18v1m1 -342v1m0 149v1m0 21v1m0 162v1m1 -168v1m0 22v1m0 56v1m0 19v1m0 18v1m0 73v1m1 -237v1m0 53v1m1 -134v1m0 56v1m0 2v1m0 31v1m0 168v1m1 -223v1m1 -81v1m0 54v1m0 59v1m0 20v1m0 115v1m1 -181v1m0 176v1m1 -253v1m0 64v1m0 44v1m0 87v1m1 -164v1m0 170v1m1 -155v1m0 81v1m0 11v1m0 25v1m0 32v1m0 4v1m0 22v1m0 27v1m0 19v1m0 6v1m0 67v1m1 -216v1m0 100v1m0 103v1m1 -336v1m0 227v1m0 12v1m0 45v1m0 22v1m0 25v1m1 -231v1m0 21v1m0 95v1m0 49v1m0 34v1m1 -310v1m0 8v1m0 63v1m0 35v1m0 5v1m0 67v1m0 64v1m0 3v1m0 66v1m1 -159v1m0 69v1m0 12v1m0 84v1m1 -297v1m0 135v1m0 15v1m0 17v1m0 67v1m1 -127v1m0 79v1m0 116v1m0 1v1m1 -306v1m0 63v1m0 75v1m0 109v1m1 -174v1m0 10v1m0 80v1m1 -224v1m0 21v1m0 91v1m0 7v1m0 35v1m0 79v1m0 25v1m1 -174v1m0 17v1m0 27v1m0 43v1m0 29v1m0 1v1m0 89v1m1 2v1m1 -278v1m0 2v1m0 71v1m0 19v1m0 177v1m1 -218v1m0 66v1m0 4v1m0 58v1m0 31v1m0 107v1m1 -360v1m0 67v1m0 10v1m0 21v1m0 78v1m1 33v1m0 7v1m0 42v1m1 -266v1m0 15v1m0 21v1m0 75v1m0 132v1m1 -221v1m0 4v1m0 4v1m1 23v1m0 34v1m0 89v1m0 3v1m0 14v1m0 22v1m0 2v1m0 8v1m0 92v1m1 -281v1m0 10v1m0 4v1m0 73v1m0 157v1m0 43v1m1 -136v1m1 -168v1m0 49v1m0 172v1m0 6v1m1 -58v1m0 130v1m1 -330v1m0 147v1m0 49v1m0 34v1m0 25v1m0 32v1m1 -284v1m0 103v1m0 143v1m0 84v1m1 -334v1m0 192v1m0 116v1m0 14v1m1 -356v1m0 68v1m0 70v1m0 168v1m0 38v1m1 -136v1m0 6v1m0 56v1m1 -144v1m0 17v1m0 93v1m0 27v1m1 -200v2m0 6v1m0 38v1m0 114v1m0 12v1m0 66v1m1 -257v1m0 1v1m0 29v1m0 6v1m0 56v1m0 23v1m0 28v1m0 1v1m1 -197v1m0 28v1m0 22v1m0 10v1m0 87v1m0 109v1m0 50v1m1 -276v2m0 145v1m0 68v1m1 -248v1m0 5v1m0 12v1m0 164v1m0 52v1m1 -254v1m0 52v1m0 24v1m0 7v1m0 31v1m0 37v1m1 -140v1m0 39v1m0 291v1m1 -217v1m0 64v1m0 78v1m0 33v1m0 5v1m0 37v1m1 -155v1m0 6v1m0 33v1m0 81v1m0 40v1m1 -231v1m0 51v1m0 69v1m1 -204v1m0 35v1m0 219v1m1 -198v1m0 6v1m0 88v1m0 133v1m1 -244v1m0 63v1m0 67v1m0 61v1m0 18v1m0 10v1m1 -232v1m0 32v1m0 4v1m0 93v1m0 51v1m0 85v1m1 -367v1m0 7v1m0 32v1m0 40v2m0 11v1m0 40v1m1 -56v1m0 43v1m0 15v1m0 13v1m0 93v1m0 24v1m0 10v1m0 40v1m0 32v1m1 -281v1m2 -43v1m0 25v1m0 28v1m0 38v1m0 12v1m0 98v1m0 6v1m0 20v1m0 6v1m0 53v1m0 9v1m1 -177v1m0 129v1m0 3v1m0 59v1m1 -202v1m0 32v1m0 91v1m0 16v1m0 6v1m1 -285v1m0 52v1m0 62v1m0 27v1m0 26v1m1 -180v1m0 25v1m0 28v1m0 139v1m0 25v1m0 132v1m1 -173v1m0 36v1m0 112v1m0 25v1m1 -253v1m0 29v1m0 15v1m0 40v1m0 68v1m0 31v1m0 24v1m0 33v1m1 -350v1m0 125v1m0 50v1m0 10v1m0 104v1m0 11v1m1 -293v1m0 2v1m0 6v1m0 62v1m0 65v1m1 -90v1m0 219v1m1 -231v1m0 70v1m0 75v1m0 119v1m1 -267v1m0 31v1m0 62v1m0 160v1m1 -170v1m1 -69v1m0 116v1m0 75v1m1 -130v1m0 14v1m1 -8v1m0 93v1m0 70v1m1 -182v1m0 164v1m0 16v1m1 -234v1m0 79v1m0 46v1m0 28v1m1 -256v1m0 122v1m0 15v1m0 65v1m1 -207v1m0 43v1m0 11v1m0 7v1m0 210v2m0 5v1m1 -138v1m0 104v1m0 7v1m0 121v1m1 -279v2m0 9v1m0 61v1m0 72v1m1 -227v1m0 171v1m0 66v1m1 -190v1m0 203v1m0 12v1m0 78v1m1 -333v1m0 85v1m0 140v1m0 23v1m1 -139v1m0 97v1m1 -198v1m0 21v1m0 134v1m1 -116v1m0 101v1m0 161v1m1 -283v1m0 18v1m0 89v1m0 28v1m0 88v1m1 -281v1m0 85v1m0 24v1m0 11v1m0 133v1m0 39v1m1 -184v1m0 6v1m0 114v1m0 23v1m0 14v1m0 9v1m0 43v1m1 -306v1m0 237v1m0 14v1m0 18v1m1 -98v1m0 3v1m0 112v1m1 -339v1m0 31v1m0 55v1m0 157v1m0 5v1m0 108v1m0 2v1m1 -284v1m0 129v1m0 5v1m0 19v1m0 38v1m0 78v1m0 5v1m1 -104v1m0 9v1m0 21v1m0 19v1m1 -311v1m0 107v1m0 221v1m1 -327v1m0 32v1m0 82v1m0 17v1m0 94v1m1 -193v1m0 31v1m0 5v1m0 121v1m0 74v1m0 31v1m0 28v1m0 31v1m0 4v1m1 -331v1m0 18v1m0 238v1m0 72v1m1 -234v1m0 71v1m0 57v1m0 61v1m0 38v1m1 -351v1m0 202v1m0 117v1m0 32v1m1 -339v1m0 9v1m0 48v1m0 54v1m0 37v1m0 2v1m0 106v1m0 48v1m1 -182v1m0 68v1m1 -236v1m0 184v1m0 57v1m0 126v1m1 -355v1m0 33v1m0 12v1m0 124v1m0 62v1m0 12v1m0 30v1m1 -247v1m0 186v1m0 33v1m1 -262v1m0 245v2m0 97v1m1 -326v1m0 18v1m0 53v1m0 115v1m0 10v1m0 114v1m2 -247v1m0 33v1m0 72v2m2 -142v1m0 67v1m0 144v1m0 16v1m2 -138v1m0 168v1m0 13v1m0 11v1m2 -345v1m0 5v1m0 94v1m0 29v1m2 -139v1m0 1v1m0 83v1m0 247v1m2 -307v1m0 84v1m0 48v1m0 11v1m0 152v1m2 -318v1m0 74v1m0 25v1m0 4v1m0 40v1m0 11v1m0 18v1m0 11v1m0 89v1m0 29v1m5 -313v1m0 133v2m0 13v1m5 -16v1m0 19v1m0 27v1m0 5v1m0 17v1m0 127v1m0 25v1m5 -211v1m0 27v1m0 165v2m0 6v1m5 -331v1m0 2v1m0 112v1m0 92v1m0 81v1m5 -290v1m0 249v1m0 7v1m5 -238v1m0 12v1m0 48v1m0 26v1m0 124v1m0 69v1m0 18v1"/><path stroke="#481668" d="M0.5 130v1m0 139v1m0 2v1m0 25v1m1 -144v1m0 55v1m1 -177v1m0 50v1m1 16v1m0 79v1m0 84v1m1 44v1m1 -99v1m1 -201v1m0 131v1m0 32v1m0 64v1m0 27v1m0 46v1m2 -217v1m0 66v1m0 18v1m0 30v1m0 14v1m0 25v1m0 9v2m1 -247v1m0 52v1m0 111v1m0 13v1m0 17v1m1 -221v1m0 234v1m0 115v1m1 -294v1m0 248v1m1 -304v1m0 176v1m0 39v1m0 31v1m0 23v1m0 42v1m1 -286v1m0 73v1m0 81v1m0 141v1m0 8v1m1 -295v1m0 8v1m0 3v1m0 7v1m0 18v1m0 24v1m0 119v1m0 73v1m0 34v1m1 -312v1m0 61v1m0 169v1m0 57v1m0 40v1m1 -289v1m0 18v1m0 102v2m0 46v1m0 32v1m1 -258v1m0 82v1m0 78v1m0 88v1m0 27v1m0 10v1m0 4v1m0 4v1m1 -262v1m0 29v1m0 139v1m0 99v1m0 25v1m1 -314v1m0 16v1m0 155v1m0 69v1m1 -166v1m0 12v1m0 16v1m0 166v1m0 38v1m1 -322v1m0 29v1m0 29v1m0 45v1m0 59v1m0 6v1m0 1v1m0 80v1m0 3v1m0 59v1m1 -289v1m0 30v1m0 124v1m0 99v1m1 -323v1m0 186v1m0 52v1m0 30v1m0 16v1m0 77v1m1 -357v1m0 169v1m0 168v1m1 -240v1m0 7v1m0 7v1m0 59v1m0 14v1m0 127v1m0 1v1m1 -267v1m0 66v1m1 -139v1m0 48v1m0 108v1m0 26v1m1 70v1m1 -122v1m0 29v1m0 39v1m0 16v1m0 32v1m0 41v1m0 24v1m1 -304v1m0 200v1m0 78v1m0 25v1m1 -257v1m0 4v1m0 36v1m0 133v1m0 84v1m1 -300v1m0 96v1m0 176v1m0 32v1m1 -113v1m0 28v1m0 85v1m1 -132v1m0 78v1m1 -15v1m0 37v1m1 -312v1m0 40v1m0 94v1m0 22v1m0 45v1m0 4v1m0 119v1m0 2v1m1 -206v1m0 60v1m0 52v1m0 5v1m0 60v1m1 -287v1m0 34v1m0 83v1m0 10v1m0 3v1m0 17v1m0 43v1m0 109v1m1 -241v1m0 172v1m0 109v1m1 -374v1m0 1v1m0 143v1m0 137v1m1 -236v1m0 6v1m0 14v1m0 46v1m0 26v1m0 139v1m0 45v1m0 15v1m1 -254v1m0 49v1m0 100v1m0 121v1m1 -348v1m0 30v1m0 36v1m0 27v1m0 213v1m1 -297v1m0 10v1m0 50v1m0 63v1m0 47v1m1 -164v1m0 79v1m0 44v1m0 28v1m1 -96v2m0 21v1m0 29v1m0 56v1m0 8v1m0 134v1m1 -234v1m0 61v1m0 120v1m1 -310v1m0 217v1m0 148v1m1 -341v1m0 144v1m0 91v1m1 -230v1m0 55v1m0 37v1m0 114v1m0 48v1m0 5v1m1 -284v1m0 125v1m1 -79v1m0 75v1m0 127v1m1 -264v1m0 21v1m0 9v1m0 201v1m0 35v1m0 64v1m1 -340v1m0 13v1m0 179v1m0 112v1m0 25v1m0 21v1m0 8v1m1 -230v1m0 51v2m0 28v1m0 15v1m0 61v1m0 9v1m1 -305v1m0 28v1m0 33v1m0 45v1m0 11v1m0 63v1m0 83v1m0 7v1m0 13v1m0 50v1m1 -70v1m0 93v1m1 -254v1m0 152v1m0 9v1m0 44v1m1 -296v1m0 72v1m0 91v1m0 3v1m0 108v1m0 38v1m1 -341v1m0 19v1m0 24v1m0 5v1m0 91v1m0 217v1m0 13v1m1 -311v1m0 3v1m0 75v1m1 -134v1m0 186v1m0 46v1m0 35v1m0 68v1m0 19v1m1 -323v1m0 51v1m0 65v1m0 10v1m0 90v1m0 86v1m1 -328v1m0 92v1m0 14v1m0 172v1m1 -301v1m0 196v1m0 58v1m0 1v1m1 -230v1m0 4v1m0 71v1m0 2v1m0 56v1m0 3v1m1 -57v1m0 10v1m0 32v1m0 47v1m0 91v1m0 12v1m1 -223v1m0 55v1m0 27v1m0 57v1m2 -217v1m0 50v1m0 8v1m0 10v1m0 123v1m0 60v1m0 32v1m0 53v1m1 -290v1m0 266v1m1 -238v1m0 34v1m0 26v1m0 119v1m1 -249v1m0 135v1m0 32v1m0 78v1m0 7v1m1 -305v1m0 157v1m0 30v1m0 57v1m0 75v1m1 -187v1m0 20v1m0 40v1m1 -143v1m0 101v1m0 103v1m0 7v1m0 100v1m1 -343v1m0 114v1m0 62v1m0 129v1m1 -228v1m1 -40v1m0 278v1m1 -344v1m0 15v1m0 105v1m0 41v1m0 154v1m0 28v1m1 -355v1m0 50v1m0 34v1m0 75v1m0 36v1m0 39v1m0 10v1m1 -189v1m0 1v1m0 74v1m0 184v1m0 40v1m1 -261v1m0 45v1m1 -94v1m0 3v1m0 265v1m1 -303v1m0 10v1m0 33v1m0 69v1m0 148v1m1 -246v1m0 33v1m0 32v1m0 10v1m0 12v1m0 85v1m0 35v1m0 91v1m0 20v1m1 -364v1m0 8v1m0 90v1m0 27v1m0 9v1m0 85v1m0 37v1m0 77v1m1 -331v1m0 44v1m0 202v1m0 40v1m1 -284v1m0 120v1m0 42v1m1 -155v1m0 67v1m0 2v1m0 121v1m0 45v1m0 63v1m0 14v1m1 -229v1m0 24v1m0 23v1m0 102v1m0 21v1m1 -285v1m0 117v1m0 26v1m0 89v1m1 -225v1m0 292v1m1 -305v1m0 277v1m1 -283v1m0 154v1m0 88v1m1 -251v1m0 6v1m0 71v2m0 2v1m0 165v1m1 -98v1m1 -159v1m0 25v1m0 226v1m0 5v1m0 18v1m0 35v1m1 -249v1m0 32v1m0 45v1m0 157v2m0 47v1m1 -288v1m0 123v1m0 11v1m0 10v1m0 131v1m0 15v1m0 6v1m1 -306v1m0 2v1m0 160v1m0 56v1m0 5v1m0 17v1m0 12v1m0 31v1m1 -345v1m0 135v1m0 26v1m0 75v1m0 15v1m0 67v1m0 12v1m1 -312v1m0 60v1m0 53v1m0 48v1m0 56v1m0 66v1m1 -264v2m0 24v1m0 40v1m0 8v1m0 47v1m0 35v1m0 96v1m1 -217v1m0 28v1m1 -39v1m0 18v1m0 34v1m0 18v1m0 55v1m2 -69v1m0 97v1m0 115v1m2 -308v1m0 120v1m0 95v1m2 -194v1m0 43v1m0 4v1m0 83v1m0 11v1m0 9v1m2 -197v1m0 285v1m0 36v2m0 11v1m2 -366v1m0 98v1m0 54v1m0 12v1m2 -149v1m0 271v1m2 -237v1m0 26v1m0 101v1m0 41v1m0 21v1m0 28v1m0 16v1m0 4v1m5 -304v1m0 7v1m0 82v1m0 30v1m0 18v1m0 15v1m0 24v1m0 27v1m0 4v1m0 90v1m5 -295v1m0 18v1m0 88v1m0 93v2m5 -149v1m0 224v1m0 68v1m5 -308v1m0 59v1m0 4v1m0 217v1m5 -342v1m0 49v1m0 8v1m0 78v1m0 2v1m0 6v1m0 10v1m5 -130v1m0 60v1m0 174v1m0 22v1"/><path stroke="#481769" d="M0.5 49v1m0 34v1m0 47v1m0 71v1m0 21v1m1 -195v1m0 100v1m0 10v1m0 20v1m0 84v1m0 61v1m1 -272v1m0 33v1m0 103v1m0 108v1m0 79v1m1 -355v1m0 214v1m0 2v1m0 47v1m0 1v1m0 39v1m0 1v1m1 -270v1m0 49v1m0 120v1m0 105v1m0 13v1m1 -298v1m0 197v1m0 68v1m1 -300v1m0 8v1m0 114v1m0 114v1m1 -106v1m0 26v1m0 55v1m0 36v1m0 70v1m1 -328v1m0 39v1m0 20v1m0 44v1m0 85v1m0 25v1m0 49v1m0 21v1m0 55v1m1 -269v1m0 162v1m0 18v1m1 -35v1m0 14v1m0 51v1m1 -264v1m0 296v1m1 -339v1m0 38v1m0 33v1m0 8v1m0 40v1m0 54v1m0 45v1m0 8v1m1 -191v1m0 117v1m0 25v1m0 8v1m0 78v1m0 2v1m1 -152v1m0 107v1m0 129v1m1 -326v1m0 54v1m0 65v1m0 114v1m0 67v1m0 6v1m1 -356v1m0 27v1m0 41v1m0 51v1m0 143v1m0 32v1m1 -144v1m0 109v1m0 59v1m1 -266v1m0 47v1m0 130v1m0 55v1m0 31v1m0 15v1m0 21v1m1 -291v1m0 197v1m1 0v1m0 55v1m1 -213v1m0 16v1m0 43v1m0 90v1m0 38v1m0 15v1m1 -153v1m0 13v1m0 15v1m0 76v1m0 34v1m1 -301v1m0 5v1m0 120v1m0 122v1m1 -261v1m0 89v1m0 161v1m0 99v2m1 -260v1m0 72v1m0 146v1m0 7v1m1 -315v1m0 146v1m0 69v1m0 28v1m0 54v1m0 24v1m1 -236v1m0 44v1m1 -136v1m0 16v1m0 19v1m0 52v1m0 10v1m0 166v1m2 -159v1m0 16v1m0 12v1m0 190v1m1 -218v1m0 199v1m1 11v1m1 -193v1m0 157v1m0 31v1m0 21v1m0 11v1m1 -346v1m0 26v1m0 18v1m0 20v1m0 104v1m0 33v1m0 42v1m0 46v1m1 -325v1m0 78v1m0 8v1m0 141v1m0 100v1m0 30v1m1 -351v1m0 12v1m1 65v1m0 31v1m0 73v1m1 -94v1m0 21v1m0 14v1m0 61v1m0 35v1m0 56v1m1 -90v1m0 13v1m0 27v1m0 79v1m1 -314v1m0 91v1m0 6v1m0 58v1m0 31v1m0 114v1m0 48v1m1 -338v1m0 6v1m0 5v1m0 5v1m0 105v1m0 57v1m0 5v1m0 32v1m0 51v1m1 -267v1m0 56v1m0 75v1m0 43v1m0 135v1m0 2v1m1 -338v1m0 212v1m0 16v1m1 -132v1m0 78v1m0 23v1m0 116v1m1 -279v1m0 51v1m0 134v1m0 35v1m1 -240v1m0 38v1m0 156v1m0 94v1m1 -141v1m0 16v1m0 54v1m0 44v1m0 16v1m0 9v1m0 32v1m1 -339v1m0 334v1m1 -365v1m0 88v1m0 5v1m0 54v1m1 -50v1m0 113v1m0 27v1m0 16v1m1 -146v1m0 82v1m0 160v1m1 -324v1m0 1v1m0 153v1m0 2v1m0 100v1m0 21v1m0 17v1m1 -304v1m0 96v1m1 -119v1m0 48v1m0 67v1m0 78v1m1 -5v1m0 32v1m0 32v1m1 -155v1m0 27v1m0 61v1m0 81v1m1 -186v1m0 36v1m0 2v1m1 -20v1m0 111v1m0 13v1m0 79v1m0 12v1m1 -283v1m0 122v1m0 49v1m0 5v1m0 34v1m1 -11v1m0 96v1m1 -341v1m0 44v1m0 93v1m0 26v1m0 118v1m1 -283v1m0 124v1m0 33v1m0 37v1m1 -42v1m0 137v1m0 9v1m0 35v1m1 -310v1m0 125v1m0 76v1m1 -247v1m0 109v1m0 7v1m0 9v1m0 35v1m0 66v1m0 33v1m0 18v1m0 22v1m0 36v1m1 -192v1m1 -59v1m0 104v1m0 73v1m0 6v1m0 28v1m1 -201v1m0 144v1m0 50v1m0 7v1m1 -309v1m0 33v1m0 140v1m1 -169v1m0 100v1m0 97v1m0 83v1m0 12v1m0 31v1m1 -335v1m0 22v1m0 116v1m1 -118v1m0 58v1m0 9v1m0 36v1m0 17v1m1 -171v1m0 14v1m0 185v1m0 32v1m0 83v1m0 23v1m0 3v1m1 -68v1m1 -249v1m0 154v1m0 4v1m0 132v1m1 -132v1m0 27v1m0 45v1m0 52v1m0 45v1m1 -314v1m0 57v1m0 3v1m0 133v1m0 37v1m0 9v1m0 32v1m1 -282v1m0 161v1m0 152v1m0 2v1m1 -339v1m0 9v1m0 43v1m0 22v1m0 68v1m0 183v1m1 -357v1m0 136v1m1 17v1m0 135v1m0 25v1m1 -304v1m0 95v1m0 15v1m0 60v1m0 110v1m0 33v1m1 -298v1m0 21v1m0 54v1m0 30v1m0 163v1m0 58v1m0 4v1m1 -190v1m0 34v1m0 131v1m1 -164v1m0 39v1m0 37v1m0 63v1m1 -242v1m0 160v1m0 28v1m1 -230v1m0 10v1m0 20v1m0 56v1m0 63v1m0 33v1m0 12v1m0 17v1m0 90v1m0 12v1m1 -245v1m0 14v1m0 35v1m0 112v1m1 -254v1m0 88v1m0 65v1m0 79v1m0 17v1m1 -225v1m0 57v1m0 110v1m1 -29v1m1 -151v1m0 58v1m0 244v1m1 -356v1m0 31v1m0 2v1m0 29v1m0 141v1m1 -219v1m0 194v1m0 7v1m0 73v1m1 -36v1m1 -181v1m0 12v1m0 34v1m0 128v1m0 26v1m1 -226v1m0 31v1m0 57v1m1 -131v1m0 12v1m0 13v1m0 22v1m0 116v1m0 23v1m0 75v1m0 104v1m1 -351v1m0 98v1m0 58v1m0 148v1m1 -290v1m0 208v1m0 73v1m0 36v1m0 7v1m1 -254v1m0 63v1m0 51v1m0 53v1m0 24v1m0 56v1m0 5v1m1 -260v1m0 34v1m0 32v1m0 15v1m1 -127v1m0 200v1m0 40v1m1 -178v1m0 177v1m1 -271v1m0 49v1m0 75v1m0 48v1m0 74v1m0 21v1m0 13v1m0 11v1m1 -317v1m0 12v1m0 229v1m0 25v1m0 11v1m2 -273v1m0 314v1m0 10v1m2 -176v1m0 83v1m0 19v1m2 -260v1m0 8v1m0 13v1m0 67v1m0 7v1m0 33v1m0 141v1m0 51v1m2 -242v1m0 34v1m0 22v1m0 85v1m0 109v1m2 -296v1m0 131v1m0 16v1m0 48v1m0 54v1m2 -18v1m2 -218v1m0 91v1m0 35v1m0 28v1m0 25v1m0 24v1m5 -78v1m0 113v1m0 23v1m5 -271v1m0 152v1m0 57v1m0 72v1m5 -340v1m0 22v1m0 310v1m5 -364v1m0 13v1m0 50v1m0 103v1m0 42v1m0 135v1m5 -303v1m0 11v1m0 22v1m0 14v1m0 157v1m0 112v1m5 -345v1m0 32v1m0 190v1m0 119v1"/><path stroke="#48186a" d="M0.5 181v1m0 34v1m1 -180v1m0 114v1m0 24v1m0 49v1m0 7v1m0 108v1m1 -262v1m1 16v1m0 60v1m0 73v1m0 101v1m1 -333v1m0 300v1m0 26v1m1 -265v1m0 13v1m1 -6v1m0 47v2m0 116v1m0 104v1m0 10v1m1 -331v1m0 3v1m0 49v1m0 116v1m0 28v1m0 37v1m0 44v1m1 -217v1m0 14v1m0 31v1m0 126v1m0 81v1m1 -286v1m0 91v1m0 24v1m0 47v1m0 51v1m0 23v1m0 40v1m1 -168v1m0 29v1m0 73v1m0 24v1m1 -245v1m0 180v1m0 22v1m0 51v1m0 10v1m1 -211v1m0 141v1m0 85v1m0 11v1m1 -363v1m0 118v1m1 -112v1m0 131v1m0 105v1m1 -174v1m0 23v1m0 84v1m0 45v1m0 32v1m0 32v1m1 -203v1m0 159v1m0 8v1m0 44v1m1 -261v1m0 54v1m0 56v1m0 48v1m0 71v1m0 31v1m0 24v1m1 -336v1m0 65v1m0 102v1m0 51v1m0 36v1m0 99v1m1 -328v1m0 222v1m0 90v1m1 -299v1m0 122v1m1 -106v1m0 29v1m0 35v1m0 126v1m0 14v1m0 3v1m0 29v1m0 15v1m0 52v1m1 -275v1m0 1v1m0 57v1m0 24v1m0 27v1m0 28v1m0 6v1m0 13v1m0 21v1m1 -227v1m0 48v1m0 12v1m0 113v1m0 74v1m0 4v1m0 38v1m1 -304v1m0 57v1m0 260v1m1 -363v1m0 11v2m0 70v1m0 66v1m0 149v1m0 40v1m0 4v1m1 -329v1m0 66v1m0 110v1m0 14v1m0 23v1m0 109v1m1 -332v1m0 33v1m0 139v1m0 11v1m0 113v1m1 -153v1m0 91v1m0 85v1m1 -349v1m0 99v1m0 5v1m0 162v1m0 4v1m1 -246v1m0 2v1m0 3v1m0 4v1m0 28v1m0 105v1m0 105v1m1 -232v1m0 17v1m0 68v1m0 2v1m0 176v1m1 -303v1m0 127v1m0 2v1m1 -120v1m0 44v1m0 35v1m0 130v1m0 36v1m0 12v1m0 80v1m1 -171v1m1 26v1m1 -45v1m0 116v1m0 60v1m1 -316v1m0 8v1m0 97v1m0 157v1m0 4v1m1 -294v1m0 215v1m1 -97v1m0 145v1m0 70v1m1 -346v1m0 53v2m0 87v1m0 112v1m0 2v1m1 -240v1m0 29v1m0 30v1m0 20v1m0 35v1m0 31v1m0 10v1m1 -149v1m0 194v1m0 94v1m0 8v1m1 -214v1m0 16v1m0 1v1m0 40v1m0 52v1m0 11v1m0 22v1m1 -193v1m0 87v1m0 24v1m1 -144v1m0 35v1m0 204v1m1 -239v1m0 6v1m0 122v1m0 58v1m0 51v1m0 3v1m0 52v1m1 -369v1m0 22v1m0 113v1m0 123v1m0 6v1m1 -226v1m0 45v1m0 32v1m0 52v1m0 28v1m0 96v1m0 61v1m1 -299v1m0 165v1m0 119v1m0 10v1m1 -305v1m0 39v1m0 156v1m1 101v1m1 -353v1m0 15v1m0 48v2m0 6v1m0 110v1m0 8v1m0 8v1m0 51v1m0 48v1m0 12v1m1 -193v1m0 69v1m0 5v1m0 22v1m0 123v1m0 27v1m1 -363v1m0 36v1m0 66v1m0 200v1m0 51v1m1 -364v1m0 16v1m0 100v1m0 17v1m1 -97v1m0 53v1m0 49v1m0 127v1m0 56v1m1 -124v1m0 7v1m1 -168v1m0 22v1m0 9v1m0 118v1m1 -138v1m0 285v1m1 -298v1m0 20v1m0 23v1m0 70v1m0 19v1m0 63v1m0 68v1m1 -18v1m0 21v1m1 -296v1m0 22v1m0 25v1m0 48v1m1 157v1m0 4v1m0 9v1m0 60v1m1 -340v1m0 77v1m0 50v1m0 27v1m0 36v1m1 -172v1m0 160v1m1 -217v1m0 82v1m0 15v1m0 182v1m0 14v1m0 2v1m1 -85v1m0 54v1m1 -158v1m0 23v1m0 134v1m0 22v1m1 -232v1m0 245v1m1 -154v1m0 24v1m0 56v1m0 28v1m0 71v1m1 -53v1m1 -22v1m1 -272v1m0 70v1m0 157v1m0 48v1m0 61v1m1 -338v1m0 84v1m0 46v1m0 67v1m1 19v1m0 19v1m1 -203v1m0 238v1m0 63v1m1 -273v1m0 22v1m0 55v1m0 69v1m0 105v1m1 -221v1m0 140v1m0 39v1m0 42v1m1 -333v1m0 63v1m0 178v1m0 109v1m1 -344v1m0 35v1m0 93v1m0 61v1m1 -100v1m0 24v1m0 15v1m0 75v1m1 -88v1m0 54v1m0 69v1m1 -153v1m0 15v1m0 143v1m0 106v1m1 -335v1m0 191v1m0 44v1m0 34v1m0 12v1m1 -270v1m0 193v1m0 45v1m1 -296v1m0 13v1m0 135v1m0 7v1m0 96v1m1 -150v1m0 9v1m0 80v1m0 53v1m0 90v1m1 -210v1m0 8v1m0 15v1m0 108v1m0 10v1m0 10v1m1 -279v1m0 32v1m0 61v1m0 201v1m1 70v1m1 -377v1m0 55v1m0 45v1m0 15v1m0 43v1m0 124v1m1 -285v1m0 28v1m0 5v1m0 142v1m0 7v1m0 75v1m0 20v1m1 -270v1m0 123v1m0 35v1m0 56v1m0 9v1m0 14v1m0 35v1m0 28v1m0 9v1m1 -323v1m0 63v1m0 10v1m0 8v1m0 107v1m0 120v1m1 -312v1m0 9v1m0 27v1m0 11v1m0 20v1m0 29v1m0 75v1m0 29v1m0 119v1m1 -344v1m0 45v1m0 6v1m0 121v1m0 61v1m0 27v1m0 35v1m0 70v1m1 -310v1m0 2v1m0 22v1m0 149v1m0 13v1m0 24v1m0 4v1m0 81v1m1 -317v1m0 167v1m0 99v1m1 -283v1m0 71v1m0 75v1m0 122v1m0 26v1m0 33v1m1 -289v1m0 20v1m0 97v1m1 -138v1m0 17v1m0 11v1m0 96v1m0 130v1m0 46v1m1 -253v1m0 61v1m0 11v1m0 28v1m1 -176v1m0 143v1m0 12v1m0 21v2m0 97v1m0 21v1m1 -322v1m0 72v1m0 4v1m0 263v1m1 -364v1m0 57v1m0 39v1m0 51v1m0 65v1m0 93v1m0 62v1m1 -337v1m0 68v1m0 151v1m2 -198v1m0 120v1m0 76v1m0 109v1m2 -364v1m0 257v1m0 52v1m0 29v1m2 -238v1m2 -89v1m0 19v1m0 126v1m0 14v1m2 -99v1m0 5v1m0 32v1m0 6v1m0 80v1m0 22v1m0 44v1m0 37v1m2 -213v1m0 28v1m0 48v1m0 1v1m0 67v1m0 60v1m2 -299v1m0 4v1m0 12v1m0 41v1m0 29v1m0 58v1m0 15v1m5 -164v1m0 12v1m0 51v1m0 70v1m0 115v1m0 40v1m5 -232v1m0 72v1m0 105v1m0 60v1m0 13v1m5 -265v1m0 102v1m0 185v1m5 -352v1m0 19v1m0 157v1m0 97v1m0 86v1m0 5v1m5 -346v1m0 5v1m0 316v1m5 -150v1m0 29v1"/><path stroke="#481a6c" d="M0.5 9v1m0 37v1m0 152v1m0 46v1m0 68v1m0 44v1m0 4v1m1 -356v1m0 39v1m0 180v1m0 49v1m0 76v1m1 -355v1m0 153v1m0 35v1m0 74v1m1 -53v1m0 47v1m0 27v1m0 60v1m1 -289v1m0 69v1m1 -109v1m0 13v1m0 23v1m0 155v1m0 47v1m1 -240v1m0 60v1m0 90v1m0 75v1m0 109v1m1 -326v1m0 61v1m0 86v1m0 41v1m1 -131v1m0 48v1m0 131v1m0 63v1m1 -352v1m0 216v1m0 94v1m0 2v1m0 36v1m1 -329v1m0 114v1m1 -13v1m0 132v1m0 9v1m0 74v1m0 19v1m1 -364v1m0 28v1m0 5v1m0 3v1m0 21v1m0 178v1m0 99v1m1 -202v1m0 10v1m0 33v1m0 156v1m1 -302v1m0 37v1m0 155v1m1 -229v1m0 16v1m0 19v1m0 78v1m0 102v1m0 22v1m0 10v1m0 42v1m0 52v1m1 -178v1m0 37v1m0 18v1m0 1v1m0 22v1m0 48v1m0 47v1m1 -283v1m0 147v1m0 73v1m0 3v1m0 20v1m1 -304v1m0 101v1m0 105v1m0 11v1m0 81v1m0 23v1m1 -345v1m0 8v1m0 238v1m1 -244v1m0 39v1m0 16v1m0 22v1m0 90v1m0 67v1m0 1v1m1 -189v1m0 229v1m1 -114v2m0 3v1m0 86v1m0 31v1m0 12v1m1 -160v1m0 11v1m0 62v1m0 73v1m1 18v1m1 -313v1m0 75v1m0 20v1m0 35v1m0 12v1m0 120v1m1 -276v1m0 41v1m0 16v1m0 49v1m0 1v1m0 76v1m0 17v1m1 -142v1m0 62v1m0 139v1m0 98v1m1 -361v1m0 114v1m0 154v1m0 55v1m1 -338v1m0 234v1m0 33v1m0 74v1m1 -311v1m0 23v1m0 194v1m1 -166v1m0 112v1m0 52v1m1 -108v1m0 45v1m0 84v1m1 -129v1m0 40v1m1 -148v1m0 217v1m0 9v1m1 -171v1m0 6v1m0 26v1m0 33v1m0 48v1m0 56v1m0 61v1m1 -310v1m0 209v1m0 132v1m1 -314v1m1 -52v1m0 21v1m0 217v1m0 51v1m1 -294v1m0 3v1m0 6v1m0 32v1m0 17v1m0 76v1m0 49v1m0 31v1m0 66v2m0 18v1m0 11v1m1 -298v1m0 34v1m0 44v1m0 194v1m1 -14v1m0 70v1m1 -281v1m0 69v1m0 29v1m0 31v1m0 8v1m0 56v1m0 89v1m1 -309v1m0 34v1m0 1v1m0 3v1m0 119v1m1 -118v1m0 8v1m0 85v1m0 60v1m1 -236v1m0 121v1m0 15v1m0 3v1m0 36v1m0 89v1m1 -109v1m0 63v1m0 85v1m1 -337v1m0 61v1m0 7v1m0 129v1m0 34v1m0 105v1m1 -305v1m0 24v1m0 31v1m0 217v1m1 -266v1m0 111v1m1 -150v1m0 188v1m0 80v1m1 -281v1m0 18v1m0 81v1m0 62v1m0 123v1m1 -130v1m0 74v1m0 117v1m0 10v1m1 3v1m1 -328v1m0 18v1m0 17v1m0 30v1m0 48v1m0 104v1m0 30v1m0 18v1m1 -277v1m0 171v1m0 21v1m0 67v1m1 -229v1m1 -53v1m0 24v1m0 25v1m0 29v1m0 41v1m0 198v1m1 -317v1m0 9v1m0 34v1m0 16v1m0 18v1m0 35v1m0 68v1m0 31v1m1 -236v1m0 26v1m0 12v1m0 34v1m0 56v1m0 157v2m1 -260v1m0 202v1m1 -212v1m0 27v1m0 160v1m0 87v1m1 21v1m1 -312v1m0 47v1m0 53v1m0 106v1m0 10v1m0 88v1m0 9v1m0 25v1m1 -340v1m0 28v1m0 9v1m0 122v1m0 60v1m0 102v1m1 -324v1m0 99v1m0 91v1m0 75v1m1 -289v1m0 100v1m0 42v1m1 -48v1m0 83v1m0 57v1m1 -139v1m0 9v2m0 12v1m0 1v1m0 103v1m0 37v1m0 48v1m1 -243v1m0 47v1m0 97v1m0 2v1m0 29v1m0 61v1m1 -159v1m0 71v1m0 105v1m1 -298v1m0 215v1m0 85v1m1 -325v1m0 51v1m0 64v1m0 198v1m0 2v1m1 -253v1m0 26v1m0 85v1m0 57v1m1 -257v1m0 10v1m0 296v1m1 -52v1m2 -223v1m0 107v1m0 75v1m0 58v1m0 28v1m1 -166v1m0 168v1m1 -261v1m0 87v1m1 -51v1m0 123v1m0 3v1m0 87v1m1 -283v1m0 88v1m0 75v1m0 141v1m0 9v1m1 -138v1m0 160v1m1 -234v1m1 114v1m0 81v1m0 14v1m0 5v1m1 -315v1m0 25v1m0 174v1m1 -213v1m0 7v1m0 78v1m1 -70v1m0 149v1m0 5v2m0 34v1m0 87v1m0 20v1m1 -258v1m0 73v1m0 76v1m1 -207v1m0 46v1m0 182v1m0 39v1m0 62v1m1 -372v1m0 110v1m0 20v1m0 87v1m0 2v1m0 14v1m0 117v1m1 -337v1m0 76v1m0 38v1m0 94v1m0 15v1m0 4v1m1 -250v1m0 18v1m0 26v1m0 8v1m0 25v1m0 10v1m0 23v1m0 97v1m0 7v1m0 28v1m0 53v1m1 -262v1m0 124v1m0 84v1m0 53v1m1 -233v1m0 49v1m0 28v1m0 151v1m0 31v1m1 -295v2m0 30v1m0 40v1m0 96v1m0 8v1m0 62v1m0 64v1m1 -316v1m0 165v1m1 -191v1m0 75v1m0 247v1m1 -337v1m0 108v1m0 12v1m1 -70v1m0 71v1m0 114v1m0 88v1m0 20v1m0 4v1m1 -145v1m0 37v1m0 40v1m0 6v1m0 17v1m1 -306v1m0 310v1m1 -318v1m0 145v1m0 45v1m0 68v1m1 -145v1m0 7v1m0 34v1m0 56v1m1 -228v1m0 1v1m0 77v1m0 80v1m0 46v1m0 80v1m0 8v1m1 -287v1m0 55v1m0 56v1m0 108v1m1 -124v1m0 72v1m0 3v1m0 136v1m0 12v1m0 23v1m0 1v1m2 -302v1m0 120v1m4 -155v1m0 32v1m0 35v1m0 266v1m2 -239v1m0 48v1m0 80v1m0 107v1m2 -328v1m0 23v1m0 30v1m0 186v1m2 -151v1m0 11v1m0 39v1m2 10v1m0 39v1m5 -185v1m0 1v1m0 61v1m0 1v2m0 117v1m0 88v1m5 -284v1m0 102v1m0 95v1m0 29v1m0 86v1m5 -60v1m5 -275v1m0 3v1m0 180v1m0 21v1m0 34v1m0 26v1m0 25v1m0 66v1m5 -385v1m0 70v1m0 39v1m0 100v1m0 24v1m0 15v1m0 68v1m5 -295v2m0 5v1m0 242v1m0 74v1m0 7v1"/><path stroke="#481b6d" d="M1.5 121v1m0 31v1m0 39v1m0 23v1m1 -205v1m0 71v1m0 56v1m0 78v1m0 46v1m0 12v1m0 56v1m1 -319v1m0 9v1m0 27v1m0 21v1m0 64v1m0 199v1m1 -343v1m0 18v1m0 6v1m0 43v1m0 119v1m0 113v1m0 15v1m1 31v1m1 -292v1m1 47v1m0 61v1m0 62v1m0 76v1m0 42v1m1 -137v1m0 9v1m1 -200v1m0 195v1m1 -173v1m0 88v1m0 102v1m1 -211v1m0 1v1m0 17v1m0 97v1m0 136v1m1 -219v1m0 79v1m0 25v1m0 56v1m0 56v1m1 -280v1m0 112v1m0 82v1m0 10v1m0 8v1m0 129v1m0 2v1m1 -312v1m0 12v1m0 48v1m0 81v1m0 23v1m0 54v1m0 7v1m0 37v1m0 17v1m1 -44v1m0 15v1m0 18v1m0 36v1m1 -242v1m0 9v1m0 2v2m0 199v1m1 -222v1m0 157v1m0 6v1m1 -196v1m0 7v1m0 14v1m0 55v1m0 119v1m0 22v1m0 6v1m1 -298v1m0 38v1m0 87v1m0 19v1m0 49v1m0 80v1m0 43v1m1 -284v1m0 103v1m0 124v1m1 -286v1m0 86v1m0 161v1m0 13v1m0 59v1m1 -289v1m0 16v1m0 70v1m0 7v1m0 2v1m0 8v1m0 105v1m1 -154v1m0 24v1m0 66v1m0 18v1m0 66v1m0 38v1m1 -309v1m0 11v1m0 20v1m0 6v2m0 62v1m0 113v1m0 114v1m1 -286v1m0 123v1m0 13v1m0 104v1m1 -91v1m0 52v1m0 2v1m0 31v1m0 42v1m1 -247v1m0 184v1m0 44v1m1 -220v1m0 21v1m0 125v1m0 59v1m1 -277v1m0 11v1m0 166v1m1 51v1m1 -253v1m0 71v1m0 129v1m0 15v1m0 34v1m1 -199v1m1 -45v1m0 149v1m0 55v1m0 30v1m1 -246v1m0 74v1m0 217v1m1 -280v1m0 45v1m0 75v1m1 -51v1m0 43v1m0 65v1m0 41v1m0 28v1m0 36v1m0 16v1m1 -287v1m0 63v1m0 42v1m0 18v1m0 71v1m1 -208v1m0 4v1m0 108v1m0 92v1m0 33v1m0 31v1m0 3v1m0 20v1m1 -226v1m0 9v1m0 17v1m0 11v1m0 42v1m0 111v1m1 -281v1m0 60v1m0 12v2m0 101v1m1 -202v1m0 31v1m0 7v1m0 48v1m0 128v1m1 -208v1m0 36v1m0 193v1m0 23v1m0 44v1m1 -296v1m0 52v1m0 109v1m0 47v1m1 -46v1m0 14v1m0 69v1m0 36v1m1 -204v1m0 160v1m0 12v1m0 81v1m1 -329v1m0 94v1m0 49v1m0 32v1m0 88v1m1 -290v1m0 24v1m0 20v1m0 30v1m0 52v1m0 12v1m0 78v1m1 -182v1m0 1v1m0 294v1m0 16v1m1 -300v1m0 67v1m0 54v1m0 31v1m0 112v1m1 -222v1m0 236v1m1 -337v1m0 63v1m0 59v1m0 99v1m0 122v1m1 -270v1m0 85v1m0 21v1m1 -165v1m0 40v1m0 13v1m0 76v1m0 186v1m1 -313v1m0 78v1m1 239v1m1 -281v1m0 9v1m0 26v1m0 45v1m0 66v1m0 70v1m1 -178v1m0 58v1m0 96v1m0 45v1m1 -332v1m0 235v1m0 18v1m0 78v1m0 22v1m1 -360v1m0 6v1m0 295v1m1 -89v1m0 1v1m0 107v1m1 -219v1m0 25v1m0 24v1m0 124v1m1 -262v1m0 30v1m0 23v1m0 74v1m0 187v1m1 -308v1m0 25v1m0 35v2m0 93v1m1 -189v1m0 255v1m0 16v1m0 76v1m1 -208v1m0 47v1m0 153v1m1 -258v1m0 4v1m0 95v1m0 3v1m0 14v1m0 62v1m1 -64v1m0 96v1m1 -293v1m0 98v1m0 1v1m0 126v1m1 -210v1m0 48v1m0 113v1m0 143v1m2 -323v1m0 112v1m0 182v1m1 -193v1m0 145v1m1 -264v1m0 25v1m0 43v1m0 28v1m0 40v1m0 89v1m0 40v1m0 29v1m0 47v1m1 -309v1m0 122v1m1 -172v1m0 104v1m0 154v1m1 -249v1m0 29v1m1 45v1m0 133v1m0 15v1m0 3v1m0 68v1m1 -302v1m0 57v1m0 105v1m0 16v1m0 139v1m1 -322v1m0 61v1m0 15v1m0 15v1m0 208v1m1 -276v1m0 235v1m1 -269v1m0 2v1m0 136v1m0 74v1m0 6v1m0 3v1m1 -53v1m0 28v1m0 59v1m0 27v1m0 62v1m1 -160v1m0 34v1m1 -240v1m0 60v1m0 173v1m0 144v1m1 -347v1m0 34v1m0 115v2m0 25v1m1 -130v1m0 131v1m1 -202v1m0 24v1m0 84v1m0 22v1m0 38v1m0 153v1m1 -277v1m0 5v1m0 12v1m0 176v1m0 51v1m1 -302v1m0 9v2m0 23v1m0 5v1m0 28v1m0 16v1m0 119v1m0 21v1m0 67v1m1 -269v1m0 70v1m0 69v1m0 11v1m0 20v1m1 -197v1m0 74v1m0 54v1m0 7v1m0 65v1m0 65v1m0 50v1m0 9v1m1 -261v1m0 188v1m0 86v1m1 -162v1m0 86v1m1 -290v1m0 25v1m0 38v1m0 68v1m0 123v1m0 5v1m0 82v1m1 -306v1m0 43v1m0 159v1m0 107v1m1 -321v1m0 84v1m0 231v1m0 20v1m1 -338v1m0 6v1m0 57v1m1 60v1m0 124v1m0 13v1m0 61v1m1 -322v1m0 32v1m0 9v1m0 44v1m0 25v1m0 45v1m0 138v1m0 1v1m0 2v1m1 -291v1m0 186v1m0 94v1m0 1v1m0 16v1m1 -154v1m0 99v1m1 -267v1m0 24v1m0 75v1m0 117v1m0 98v1m1 -241v1m0 87v1m0 34v1m0 99v1m2 -277v1m0 271v1m0 1v1m0 14v1m1 -211v1m0 65v1m0 28v1m2 -164v1m0 16v1m0 32v1m0 29v1m0 60v1m0 9v1m0 8v1m0 12v1m0 37v1m2 -288v1m0 20v1m0 91v1m2 -84v1m0 33v1m0 259v1m2 -285v1m0 88v1m0 116v1m0 39v1m2 -256v1m0 214v1m0 13v1m0 14v1m2 -248v1m0 255v1m2 -236v1m0 32v1m0 95v1m0 54v1m0 135v1m5 -231v1m0 23v1m0 98v1m0 12v1m0 12v1m0 12v1m5 -179v1m0 75v1m0 29v1m0 83v1m5 -200v1m0 56v1m0 102v1m0 9v1m0 35v1m0 9v1m0 29v1m0 3v1m0 19v1m5 -373v1m0 32v1m0 114v1m0 36v1m0 111v1m5 -180v1m0 30v1m5 -75v1m0 2v1m0 44v1m0 114v1"/><path stroke="#481c6e" d="M0.5 334v1m0 29v1m0 4v1m1 -353v1m0 69v1m0 23v1m0 60v1m0 70v1m0 5v1m1 -168v1m0 166v1m0 101v1m1 -262v1m0 98v1m0 183v1m1 -367v1m0 30v1m0 10v1m0 175v1m1 -221v1m0 94v1m1 175v1m0 96v1m1 -309v1m0 78v1m0 45v1m0 95v1m0 11v1m1 -262v1m0 3v1m0 21v1m0 104v1m0 44v1m0 29v2m0 8v1m0 130v1m1 -366v1m0 57v1m0 33v1m0 42v1m0 34v1m0 121v1m1 -151v1m0 32v1m0 38v1m1 -66v1m0 154v1m0 35v1m1 -312v1m0 13v1m0 20v1m0 186v1m0 26v1m1 28v1m1 -308v1m0 159v1m0 61v1m0 100v1m1 -324v1m0 10v1m0 73v1m1 -103v1m0 31v1m0 59v1m0 91v1m1 -154v1m0 36v1m0 41v1m0 23v1m0 59v1m0 12v1m0 3v1m0 81v1m1 -290v1m0 217v1m0 27v1m1 -97v1m1 -3v1m0 50v1m0 25v1m0 62v1m1 -235v1m0 71v1m0 19v1m1 -150v1m0 151v1m0 123v1m0 2v1m0 25v1m1 -278v1m0 143v1m0 47v1m0 38v1m0 17v1m1 -90v1m0 48v1m0 90v1m1 -230v1m0 207v1m1 -188v1m0 76v1m1 -179v1m0 129v1m0 105v1m0 114v1m1 -370v1m0 109v1m0 15v1m0 77v1m0 119v1m0 25v1m0 11v1m1 -109v1m1 -184v1m0 119v1m0 172v1m1 -364v1m0 262v1m0 5v1m0 28v1m1 -300v1m0 6v1m0 27v1m1 102v1m0 26v1m1 -117v1m0 167v1m0 116v1m0 22v1m1 -272v1m1 -33v1m0 14v1m0 33v1m0 6v1m1 218v1m1 -329v1m0 11v1m0 58v1m0 47v1m0 43v1m0 58v1m0 48v1m0 25v1m0 20v1m0 10v1m1 -218v1m0 3v1m0 48v1m0 102v1m0 77v1m0 19v1m1 -368v1m0 4v1m0 31v1m0 3v1m0 105v1m0 134v1m0 88v1m1 -314v1m0 61v1m0 82v1m0 27v1m0 16v1m0 28v1m0 62v1m0 32v1m1 -218v1m0 30v1m0 175v1m1 -350v1m0 50v1m0 42v1m0 124v1m1 -187v1m0 93v1m0 70v1m0 17v1m0 13v1m0 6v1m0 4v1m1 -252v1m0 7v1m0 38v1m0 62v1m0 38v1m1 -97v1m0 5v1m0 95v1m0 14v1m0 62v1m0 45v1m0 19v1m1 -254v1m0 16v1m0 54v1m0 1v1m0 110v1m0 55v1m0 44v1m1 -294v2m0 227v1m0 31v1m0 9v1m1 -271v1m0 68v1m0 81v1m0 50v1m0 29v1m1 -262v1m0 68v1m0 20v1m0 102v1m0 93v1m1 -235v1m0 28v1m0 46v1m0 41v1m0 28v1m0 99v1m1 -291v1m0 6v1m0 16v1m0 21v1m0 91v1m0 57v1m0 91v1m1 -147v1m0 20v1m0 115v1m0 47v1m0 33v1m1 -341v1m0 49v1m0 175v1m0 14v1m0 23v1m1 -281v1m0 10v1m0 7v1m0 42v1m0 33v1m0 169v1m0 61v1m1 -347v1m0 41v1m0 208v1m0 18v1m0 30v1m0 19v1m0 15v1m1 -344v1m0 103v1m1 -21v1m0 43v1m0 37v1m0 173v1m0 19v1m1 -358v1m0 20v1m0 163v1m1 -190v1m0 87v1m0 1v1m0 20v1m0 15v1m0 59v1m0 140v1m0 9v1m1 -293v1m0 67v1m0 111v1m0 56v1m0 59v1m1 -338v1m0 200v1m0 11v1m0 32v1m0 59v1m1 -239v1m0 108v1m0 9v1m0 110v1m1 -175v1m0 37v1m0 24v1m0 104v1m0 25v1m1 -215v1m0 103v1m0 82v1m0 2v1m1 -153v1m1 -55v1m0 65v2m0 82v1m0 1v2m0 43v1m0 50v1m0 17v1m1 -295v1m0 163v1m1 -225v1m0 316v1m0 9v1m0 36v1m1 -255v1m0 44v1m1 -54v1m1 -107v1m0 14v1m0 21v1m0 86v1m0 13v1m0 33v1m0 6v1m0 17v2m0 18v1m1 59v1m1 -168v1m0 2v1m0 24v1m1 200v1m0 10v1m1 -279v1m1 -24v1m0 9v1m0 39v1m0 88v1m0 13v1m0 68v1m0 35v1m1 -216v1m0 113v1m0 24v1m0 43v1m1 -280v1m0 96v1m0 126v1m0 54v1m0 12v1m1 -271v1m0 52v1m0 9v1m0 253v1m1 -328v1m0 170v1m0 93v1m1 -246v1m0 103v1m0 80v1m0 16v1m0 79v1m0 34v1m1 -285v1m0 127v1m0 163v1m1 -297v1m0 57v1m0 57v1m0 37v1m0 14v1m1 17v1m0 64v1m1 -67v1m0 101v1m1 -350v1m0 61v1m0 86v1m0 80v1m0 23v1m0 36v1m0 37v1m1 -300v1m0 150v1m0 24v1m0 93v1m1 -202v1m0 80v1m0 28v1m0 2v1m0 72v1m0 49v1m1 -343v1m0 3v2m0 211v1m0 68v1m1 -134v1m0 25v1m0 84v1m0 65v1m1 -269v1m0 123v1m0 13v1m0 155v1m1 -302v1m0 64v1m0 30v1m0 56v1m1 -110v1m0 23v1m0 38v1m0 3v1m0 120v1m0 27v1m1 -317v1m1 6v1m0 80v1m0 85v1m0 153v1m0 21v1m1 -280v1m0 50v1m0 18v1m0 64v1m0 146v1m1 -283v1m0 19v1m0 188v1m0 37v1m0 49v1m1 -363v1m0 271v1m0 74v1m1 -329v1m0 93v1m0 84v1m0 72v2m1 -231v1m0 15v1m0 17v1m0 174v1m0 10v1m1 -202v1m0 41v1m0 65v1m0 138v1m1 -114v1m0 124v1m0 14v1m1 -259v1m0 27v1m0 117v1m0 38v1m0 38v1m1 -305v1m0 85v1m0 58v1m0 9v1m0 6v1m0 36v1m0 76v1m0 22v1m1 -274v1m0 112v1m0 6v1m0 76v1m0 145v1m2 -365v1m0 107v1m0 69v1m0 49v1m2 -23v1m0 52v1m2 -151v1m0 67v1m0 12v1m0 12v1m2 -172v1m0 33v1m0 3v1m0 1v1m0 202v1m0 84v1m2 -359v1m0 88v1m0 1v1m0 1v1m0 113v1m0 61v1m0 10v1m0 42v1m0 11v1m0 21v1m2 -153v1m2 -207v1m0 5v1m0 68v1m0 20v1m0 44v1m0 50v1m0 117v1m0 61v1m5 -356v1m0 18v1m0 36v1m0 286v1m5 -316v1m0 29v1m0 159v1m0 59v1m0 68v1m5 -274v1m0 37v2m0 9v1m0 11v1m0 35v1m0 63v1m5 -240v1m0 45v1m0 5v1m0 224v2m5 -236v1m0 91v1m0 125v2m0 66v1m0 13v1m0 11v1m5 -311v1m0 126v1m0 10v1m0 6v1m0 33v1m0 72v1"/><path stroke="#481d6f" d="M0.5 63v1m0 182v1m0 72v1m1 -205v1m0 72v1m0 127v1m0 10v1m1 -168v1m0 92v1m0 81v1m1 -326v1m0 82v1m0 125v1m0 143v1m1 -303v1m0 36v1m0 42v1m0 18v1m0 200v1m0 4v1m1 -262v1m0 15v1m0 84v1m0 137v1m1 -327v1m0 159v1m0 41v1m0 29v1m0 64v1m1 -290v1m0 186v1m0 60v1m0 14v1m1 -237v1m0 129v1m0 180v1m1 -311v1m0 50v1m0 57v1m0 42v1m0 41v1m0 13v1m1 -253v1m0 109v1m0 229v1m0 4v1m0 11v1m0 7v1m1 -328v1m0 105v1m0 12v1m1 -122v1m0 110v1m0 202v1m1 -359v1m0 14v1m0 167v1m0 38v1m0 102v1m0 45v1m2 -360v1m0 6v1m0 39v1m0 157v1m0 19v1m0 62v1m1 -116v1m0 102v1m1 -279v1m0 62v1m0 44v1m0 22v1m0 6v1m0 63v1m0 69v2m1 -215v1m1 80v1m0 195v1m1 -337v1m0 9v1m0 17v2m0 49v1m0 8v1m0 51v1m1 55v1m1 -176v1m0 2v1m0 67v1m0 93v2m0 18v1m0 3v1m0 113v1m1 -225v1m0 159v1m0 82v1m1 -356v1m0 62v1m0 154v1m0 40v1m0 69v2m1 -331v1m0 112v1m0 19v1m0 209v1m1 -344v1m0 11v1m0 136v1m0 112v1m0 80v1m1 -237v1m0 26v1m0 1v1m0 233v1m1 -210v1m0 70v1m0 5v1m0 40v1m1 -175v1m0 20v1m0 31v1m0 9v1m0 185v1m1 -300v1m0 125v1m0 80v1m0 40v1m1 -289v1m0 11v1m0 34v1m0 40v1m0 33v1m0 95v1m0 14v1m0 93v1m0 28v1m1 -345v1m0 106v1m0 136v1m1 -208v1m0 174v1m0 83v1m0 11v1m0 29v1m0 17v1m1 -302v1m0 49v1m0 80v1m1 -60v1m0 74v1m0 124v1m1 -228v1m0 4v1m0 135v1m0 42v1m0 54v1m1 -277v1m0 140v1m0 29v1m0 99v1m1 -287v1m0 67v1m0 10v1m0 106v1m0 22v1m1 -259v1m0 65v1m0 56v1m0 33v1m0 93v1m0 55v1m0 1v1m1 -309v1m0 23v1m0 288v1m0 28v1m1 -265v1m0 53v1m0 88v1m0 5v1m0 83v1m1 -162v1m0 62v1m0 57v1m0 4v1m1 -292v1m0 86v1m0 179v1m1 -136v1m0 180v1m0 21v1m1 -323v1m0 39v1m0 253v1m1 -304v1m0 86v1m0 67v1m0 34v1m1 -176v1m0 116v1m0 8v1m0 15v1m0 32v1m0 36v1m0 12v1m0 54v1m1 -209v1m0 13v1m0 2v1m0 80v1m0 97v1m1 -183v1m0 69v1m1 -150v1m0 63v1m0 6v1m0 46v1m0 16v1m0 168v1m1 -297v1m0 12v1m0 24v1m0 107v1m0 40v1m0 50v1m1 -159v1m0 103v1m1 -208v1m1 18v1m0 23v1m0 61v1m0 53v1m0 87v1m0 82v1m0 13v1m1 -225v1m0 11v1m0 211v1m0 2v1m1 -177v1m0 56v1m0 77v1m1 -275v1m0 10v1m0 34v1m0 271v1m1 -374v1m0 1v1m0 109v1m0 105v1m1 -41v2m0 59v1m0 8v1m1 -203v2m0 18v1m0 11v1m0 144v1m1 -223v1m0 164v1m0 36v1m0 27v1m0 1v1m0 70v1m0 5v1m0 11v1m0 10v1m0 33v1m1 -311v1m0 111v1m0 211v1m1 -349v1m0 87v1m0 49v1m0 5v1m0 152v1m0 8v1m0 44v1m1 -286v1m0 185v1m0 75v1m1 -253v1m1 -88v1m0 43v1m0 54v1m0 40v1m0 67v1m1 -109v1m0 33v1m0 97v1m0 69v1m1 -295v1m0 263v1m1 -103v1m1 -86v1m0 126v1m0 44v1m1 -191v1m0 4v1m0 164v1m1 -198v1m0 38v1m0 96v1m0 79v1m0 20v1m0 19v1m0 27v1m2 -346v1m0 161v1m0 18v1m0 42v1m0 76v1m0 2v1m0 26v1m0 5v1m0 38v1m1 -169v1m0 9v1m1 -101v1m0 61v1m0 69v1m0 21v1m0 28v1m0 13v1m1 -188v1m0 5v1m0 106v1m0 69v1m0 34v1m1 -345v1m0 44v1m0 3v1m0 69v2m0 14v1m0 166v1m0 43v1m1 -297v1m0 24v1m0 81v1m0 83v1m1 -21v1m0 26v1m0 98v1m1 -233v2m0 61v1m1 8v1m0 3v1m0 61v1m1 -247v1m0 3v1m0 3v1m0 297v1m1 -250v1m0 19v1m0 82v1m0 163v1m0 29v1m1 -244v1m0 29v1m0 9v1m1 -108v1m0 103v1m1 -141v1m0 139v1m1 -116v1m0 236v1m0 65v1m0 21v1m1 -304v1m0 31v1m0 45v1m0 39v1m0 61v1m0 32v1m0 27v1m1 -305v1m0 88v1m0 107v1m0 116v1m0 63v1m1 -153v1m1 -96v1m0 15v1m0 96v1m1 -139v1m0 20v1m0 2v1m0 50v1m0 36v1m0 63v1m1 -238v1m0 81v1m0 3v1m0 44v1m0 9v1m0 80v1m0 66v1m1 -300v1m0 19v1m0 116v1m0 60v1m0 78v1m0 1v1m0 44v1m1 -343v1m0 192v1m1 -112v1m0 148v1m1 -198v1m0 48v1m0 33v1m0 159v1m1 -220v1m0 85v1m0 108v1m0 7v1m1 -242v1m0 33v1m0 134v1m0 97v1m0 23v1m1 -331v1m0 52v1m0 119v1m0 38v1m0 11v1m1 -145v1m0 11v1m0 26v1m0 121v1m0 6v1m0 56v1m1 -71v1m0 56v1m0 37v1m1 -142v1m0 164v1m1 -218v1m0 22v1m0 130v1m1 -256v1m0 7v1m0 82v1m0 54v1m0 122v1m2 -180v1m0 6v1m0 65v1m0 10v1m2 115v1m2 -307v1m0 17v1m0 283v1m2 -292v1m0 144v1m2 -57v1m0 75v1m0 22v1m0 17v1m0 27v1m2 -161v1m0 13v1m0 15v1m0 73v1m0 79v1m0 75v1m0 7v1m2 -340v1m0 17v1m0 101v1m0 60v1m0 144v1m0 5v1m5 -261v1m0 6v1m0 41v1m0 51v1m0 27v1m0 91v1m0 7v1m0 11v1m0 26v1m5 -106v1m0 15v1m5 65v1m5 -303v1m0 8v1m0 87v1m0 231v1m5 -372v1m0 88v1m5 66v1m0 16v1m0 10v1m0 29v1m0 43v1"/><path stroke="#481f70" d="M0.5 21v2m0 77v1m0 130v1m0 93v1m1 -317v1m0 100v1m0 110v1m0 44v1m0 88v1m1 -77v1m0 63v1m1 -338v1m0 28v1m0 149v1m0 88v1m0 20v1m1 -266v1m0 5v1m0 93v1m0 141v1m0 40v1m0 5v1m1 -189v1m0 236v1m1 -210v1m0 85v1m1 -140v1m0 45v1m1 -132v1m0 130v1m0 16v1m0 155v1m1 -286v1m0 47v1m0 267v2m1 -346v1m0 125v1m0 160v1m2 -230v1m0 65v1m0 80v1m0 30v1m0 32v1m0 70v1m1 -327v1m0 71v1m0 158v1m1 -248v1m0 129v1m1 -109v1m0 284v1m1 -317v1m0 11v1m0 91v1m0 69v1m0 141v1m0 24v1m1 -338v1m0 42v1m0 9v1m0 248v1m1 -267v1m0 7v1m0 33v1m0 93v1m0 5v1m0 2v1m0 66v1m0 54v1m0 39v1m1 -249v1m0 136v1m1 76v1m0 1v1m1 -221v1m0 56v1m0 5v1m0 161v1m0 39v1m1 -279v1m0 17v1m0 9v1m0 69v1m0 58v1m1 -130v1m0 123v1m0 8v1m0 112v1m1 -336v1m0 76v1m0 46v1m0 3v1m0 4v1m1 -140v1m0 220v1m0 2v1m1 16v1m0 26v1m0 72v1m0 16v1m1 -104v1m0 49v1m0 21v1m1 -279v1m0 72v1m0 2v1m0 67v1m0 11v1m0 4v1m0 2v1m0 86v1m0 16v1m1 -205v1m0 42v1m1 -121v1m0 23v1m0 175v1m0 70v1m1 -277v1m0 141v1m0 3v1m0 43v1m0 108v1m1 -279v1m0 49v1m0 39v1m0 8v1m0 11v1m0 128v1m0 7v1m0 56v1m2 -301v1m0 217v1m1 -134v1m0 28v1m0 148v1m1 -278v1m0 5v1m0 60v1m0 56v1m0 6v1m0 140v1m1 -307v1m0 39v1m0 45v1m0 76v1m1 -122v1m0 239v1m1 -120v1m0 70v1m0 12v1m0 69v1m1 -242v1m0 89v1m0 141v1m1 -320v1m0 1v1m0 148v1m0 7v1m0 14v1m1 -87v1m0 157v1m0 17v1m0 5v1m0 48v1m1 -298v1m0 166v1m0 21v1m0 47v1m0 30v1m0 40v1m1 -308v1m0 89v1m0 209v1m0 22v1m0 8v1m1 -366v1m0 220v1m1 -203v1m0 99v1m0 75v1m1 -134v1m0 65v1m0 121v1m0 72v1m1 -255v1m0 239v1m0 28v1m1 -272v1m0 219v1m0 67v1m1 -263v1m0 140v1m0 103v1m0 1v1m1 -328v1m0 109v1m0 93v1m0 11v1m0 59v1m1 -188v1m0 88v1m0 167v1m1 -305v1m0 9v1m0 283v1m0 38v1m1 -320v1m1 -60v1m0 2v1m0 31v1m0 88v1m0 10v1m0 65v1m0 115v1m1 -330v1m0 22v1m0 275v1m0 43v1m1 -241v1m0 145v1m0 80v1m1 -331v1m0 53v1m0 174v1m0 38v1m0 96v1m0 6v1m1 -330v1m0 24v1m0 12v1m0 50v1m0 50v1m0 42v1m0 64v1m0 58v1m1 -267v1m0 64v1m0 85v1m0 39v1m1 -250v1m0 70v1m0 48v1m1 21v1m0 17v1m0 49v1m0 57v1m0 85v1m1 -368v1m0 63v1m1 209v1m1 -205v1m0 14v1m0 137v1m0 35v1m1 -238v1m0 4v1m0 48v1m0 226v1m0 6v1m1 -326v1m0 16v1m0 63v1m0 15v1m0 26v1m0 32v1m0 191v1m1 -288v1m0 130v1m1 -152v1m0 77v1m0 170v1m1 -203v1m0 168v1m0 3v1m0 89v1m0 16v1m1 -351v1m0 302v1m1 -281v1m0 19v1m0 62v1m0 21v1m0 18v1m0 12v1m0 177v1m1 -342v1m0 254v1m0 22v1m1 -280v1m0 39v1m0 103v1m0 6v1m0 56v1m0 125v1m1 -295v1m0 223v1m0 1v1m0 59v1m0 22v1m1 -266v1m0 161v1m0 8v1m1 -202v1m0 9v1m0 151v1m2 -59v1m0 63v1m0 129v1m1 -350v1m0 15v1m0 121v1m0 89v1m1 -94v1m0 8v1m0 101v1m0 1v1m0 3v1m1 -200v1m0 169v1m1 106v1m1 -295v1m1 80v1m0 160v1m1 -126v1m0 35v1m0 71v1m0 48v1m1 -220v1m0 31v1m0 18v1m0 24v1m0 143v1m2 -272v1m0 51v1m0 207v1m1 -253v1m0 169v1m1 34v1m0 34v1m0 61v1m1 -339v1m0 112v1m0 164v1m1 -305v1m0 44v1m0 37v1m0 22v1m0 137v1m1 -231v1m0 87v1m0 245v1m1 -310v1m0 84v1m0 168v1m0 12v1m1 -247v1m0 170v1m0 105v1m1 -342v2m0 11v1m0 24v1m0 53v1m0 33v1m0 23v1m0 4v1m0 22v1m0 45v1m0 78v2m1 -186v1m0 25v1m0 89v1m1 -223v1m0 13v1m0 18v1m0 76v1m0 61v1m1 -151v1m0 304v1m0 13v1m1 -336v1m0 89v1m0 8v1m0 119v1m0 8v1m1 2v1m1 -159v1m0 2v1m0 3v1m0 10v1m0 48v1m1 117v1m1 -243v1m0 198v1m0 19v1m0 54v1m0 4v1m0 22v1m0 8v1m1 -201v1m0 30v1m0 73v1m0 75v1m0 29v1m2 -318v1m0 5v1m0 40v1m0 262v1m2 -294v1m0 10v1m0 19v1m0 265v1m2 -264v1m0 31v1m0 158v1m0 11v1m0 71v1m2 -294v1m0 26v1m0 128v1m0 47v1m2 -227v1m0 65v1m0 9v1m0 53v1m0 47v1m0 42v1m0 7v1m0 93v1m2 -311v1m0 182v1m0 73v1m0 6v1m2 -257v1m0 135v1m0 31v1m0 77v1m5 -44v1m0 64v1m10 -267v1m0 10v1m0 78v1m0 12v1m0 82v1m0 66v1m0 46v1m5 -270v1m0 39v1m0 54v1m5 -102v1m0 71v1m0 40v1m0 46v1m0 1v1m0 53v1m0 36v1m5 -299v1m0 72v1m0 122v1m0 88v1"/><path stroke="#482071" d="M0.5 67v1m0 69v1m0 30v1m0 32v1m0 83v1m1 -238v1m0 11v1m0 42v1m0 198v1m1 -57v1m0 22v1m0 12v1m0 21v1m0 42v1m1 -326v1m0 63v1m0 55v1m0 109v1m0 18v1m1 -232v1m0 196v1m0 14v1m0 95v1m1 -67v1m0 76v1m0 3v1m1 -360v1m0 49v1m0 122v1m0 77v1m0 72v1m1 -255v1m0 158v1m1 -145v1m0 42v1m0 9v1m0 59v1m0 81v1m0 1v1m0 55v1m1 -270v1m0 90v1m0 93v1m0 87v1m0 4v1m0 13v1m1 -335v1m0 130v1m0 162v1m1 -275v1m0 17v1m0 21v1m0 270v1m1 -347v1m0 131v1m0 165v1m0 24v1m1 -292v1m0 159v1m0 159v1m1 -330v1m0 11v1m0 77v1m0 148v1m1 -128v1m0 44v1m0 7v1m0 117v1m0 33v1m0 8v1m1 -311v1m0 197v1m0 25v1m1 -149v1m0 56v1m0 35v1m0 34v1m0 76v2m1 -178v1m0 40v1m0 76v1m0 6v1m1 57v1m1 -287v1m0 194v1m0 98v1m1 -284v1m0 72v1m1 -128v1m0 92v1m0 203v1m0 2v1m0 26v1m1 -289v1m0 40v1m0 94v1m0 93v1m1 -259v1m0 38v1m0 132v1m0 115v1m1 -47v1m0 28v1m0 42v1m1 -229v1m1 124v1m1 -224v1m0 44v1m0 128v1m1 49v1m0 18v1m1 -244v1m0 145v1m0 61v1m1 -142v1m0 181v1m0 9v1m1 -201v1m0 79v1m0 83v1m0 63v1m1 -36v1m0 40v1m0 70v1m1 -352v1m0 204v1m0 58v1m0 23v1m0 41v1m0 8v1m1 -69v1m0 75v1m1 -98v1m0 15v1m0 12v1m1 -293v1m1 31v1m0 176v1m0 145v1m1 -131v1m0 72v1m0 24v1m0 33v1m1 -277v1m0 10v1m0 15v1m0 70v1m0 10v1m0 93v1m0 26v1m1 -251v1m0 96v1m0 19v1m1 -140v1m0 10v1m0 94v1m0 149v1m1 -247v1m0 118v1m0 89v1m0 10v1m0 39v1m0 11v1m0 3v1m0 32v1m1 -318v1m0 119v2m0 41v1m0 118v1m0 5v1m0 16v1m1 -317v1m0 27v1m0 56v1m0 161v1m0 49v1m1 -119v1m0 63v1m0 55v1m1 -174v1m0 71v1m0 3v1m0 19v1m0 52v1m1 -293v1m0 277v1m1 -273v1m0 10v1m0 176v1m0 78v1m1 -25v1m0 47v1m0 7v1m1 -62v1m0 37v1m0 37v1m0 10v1m1 18v1m1 -358v1m0 64v1m0 94v1m0 25v1m0 51v1m0 13v1m0 34v1m0 48v1m1 -286v1m0 10v1m0 51v1m0 226v1m1 -361v1m0 202v1m0 104v1m0 56v1m1 -294v1m0 47v1m0 60v1m0 25v1m1 -181v1m0 53v1m0 97v1m0 32v1m0 5v1m0 152v1m1 -366v1m0 40v1m0 155v1m0 1v1m0 66v1m0 92v1m1 -304v1m0 83v1m0 6v1m0 113v1m0 57v1m1 -78v1m0 108v1m1 -299v1m0 1v1m0 222v1m0 64v1m1 -318v1m0 5v1m0 48v1m0 35v1m0 3v1m0 232v1m1 -347v1m0 29v1m0 21v1m0 37v1m0 17v1m0 125v1m0 43v1m1 -218v1m0 50v1m0 108v1m0 17v1m1 -163v1m0 2v1m0 95v1m0 60v2m1 -86v1m0 46v1m0 34v1m1 -235v1m0 37v1m0 13v1m0 233v1m1 -293v1m0 190v1m0 14v1m0 148v1m1 -324v1m0 71v1m0 194v1m1 -220v1m0 261v1m1 -11v1m1 -327v1m0 63v1m0 136v1m0 1v1m0 82v1m0 39v1m1 -335v1m0 108v1m0 29v1m0 31v1m0 53v1m0 68v1m0 29v1m1 -268v1m0 10v1m0 25v1m0 11v1m0 178v1m0 44v1m1 -317v1m0 22v1m2 -28v2m0 112v1m0 63v1m0 21v1m1 -138v1m0 12v1m0 62v1m0 84v1m1 -140v1m0 8v1m0 1v1m0 30v1m0 32v1m1 25v1m0 45v1m0 5v1m0 58v1m0 5v1m0 44v1m1 -346v1m0 168v1m0 31v1m0 69v1m1 -84v1m0 54v1m0 69v1m0 9v1m1 -213v1m0 34v1m0 40v1m0 140v1m1 -302v1m0 4v1m0 52v1m0 134v1m0 15v1m1 -111v1m0 183v1m1 -178v1m0 58v1m0 77v1m0 63v1m0 17v1m1 -367v1m0 139v1m0 152v1m1 -267v1m0 106v1m0 100v1m0 93v1m0 14v1m1 -137v1m0 34v1m1 -77v1m0 71v1m0 1v1m0 27v1m0 6v1m0 68v1m0 1v1m2 -342v1m0 325v1m1 -174v1m0 78v1m0 108v1m1 -282v1m0 80v1m0 67v1m0 113v1m1 -320v1m0 1v1m0 72v1m0 106v1m0 10v1m0 34v1m0 8v1m1 -130v1m0 6v1m0 245v1m1 -289v1m0 139v1m0 61v1m1 -280v1m0 15v1m0 144v1m0 46v1m0 24v1m0 32v1m0 60v1m1 -260v1m0 60v1m0 55v1m0 171v1m1 -279v1m0 79v1m0 13v1m1 -160v1m0 20v1m0 19v1m0 124v1m0 9v1m0 154v1m1 -303v1m0 312v1m1 -226v1m1 -91v1m0 47v1m0 63v1m1 -108v1m0 45v1m0 129v1m1 -191v1m0 52v1m0 16v1m0 23v1m0 154v1m0 77v1m2 -364v1m0 70v1m0 23v1m2 162v1m0 43v1m2 -293v1m0 177v1m0 88v1m0 39v1m0 6v1m2 -237v1m0 14v1m0 48v1m2 -140v1m0 236v1m0 12v1m0 77v1m2 -266v1m0 119v1m2 131v1m5 -278v1m0 15v1m0 141v1m0 52v1m5 -261v1m0 11v1m0 126v1m0 53v1m0 40v1m0 43v1m0 55v1m5 -302v2m0 27v1m0 191v1m0 88v1m0 7v1m5 -330v1m0 25v1m0 42v1m0 3v1m5 -62v1m0 38v1m0 6v1m0 214v1m0 68v1m5 -217v1m0 131v1"/><path stroke="#482173" d="M0.5 0v1m0 47v1m0 93v1m0 143v1m1 -19v1m0 35v1m1 -290v1m0 89v1m0 26v1m0 8v1m0 26v1m0 62v1m0 131v1m1 -292v1m0 1v1m1 -41v2m0 91v1m0 61v1m0 38v1m0 74v1m0 16v1m1 -308v1m0 83v1m0 201v1m1 -271v1m0 152v1m0 25v1m0 9v1m0 74v1m1 -247v1m0 63v1m0 9v1m0 43v1m0 40v1m0 54v1m1 -146v1m0 1v1m0 101v1m0 113v1m0 11v1m1 -326v1m0 100v1m0 246v1m1 -366v1m0 109v1m0 43v1m0 90v1m0 24v1m0 43v1m1 52v1m1 -371v1m0 175v1m0 58v1m0 108v1m1 -228v1m0 84v1m0 76v1m0 27v1m0 24v1m0 35v1m1 -173v1m1 -132v1m0 125v1m0 97v1m1 -164v1m0 2v1m0 225v1m1 -286v1m0 79v1m0 111v1m0 57v1m1 -320v1m0 34v1m0 160v1m0 80v1m0 55v1m1 -105v1m0 49v1m1 -121v1m0 86v1m0 121v1m1 -318v1m1 3v1m0 40v1m0 131v1m0 20v1m0 49v1m0 2v1m1 -196v1m0 66v1m0 68v1m1 -192v1m0 43v1m0 5v1m0 120v1m1 -219v1m0 50v1m0 3v1m0 12v1m0 74v1m0 11v1m0 150v1m0 19v1m1 -311v1m0 79v1m0 78v1m0 18v1m0 50v1m0 119v1m1 -289v1m1 -8v1m0 111v1m1 -65v1m0 2v1m0 33v1m0 17v1m0 51v1m0 38v1m0 61v1m0 13v1m1 -306v1m0 23v1m0 157v1m0 17v1m0 113v1m1 -338v1m0 55v1m0 13v1m0 19v1m0 72v1m1 -62v1m0 122v1m0 56v1m1 -245v1m0 115v1m0 15v1m0 15v1m0 17v1m1 -212v1m0 44v1m1 139v1m0 5v1m0 43v1m1 -209v1m0 41v1m0 131v1m0 90v1m1 -260v1m0 147v1m0 108v1m0 73v1m1 -225v1m0 73v1m0 16v1m0 9v1m0 17v1m0 16v1m1 -236v1m0 24v1m0 4v1m0 84v1m0 4v1m0 94v1m0 55v1m1 -208v1m0 50v1m0 30v1m1 -57v1m1 90v1m0 87v1m1 -308v1m0 27v1m0 35v1m0 124v1m1 -96v1m0 26v1m0 10v1m0 7v1m0 29v1m0 29v1m0 41v1m0 3v1m0 11v1m0 60v1m1 -317v1m0 101v1m0 84v1m0 53v1m1 -249v1m0 17v1m0 28v1m0 24v1m0 66v1m0 177v1m0 11v1m0 15v1m1 -352v1m0 169v1m1 -99v1m0 50v1m0 146v1m0 69v1m0 3v1m1 -164v1m0 140v1m1 -289v1m0 105v1m0 31v1m1 -106v1m0 87v1m0 32v1m0 157v1m1 -347v1m0 79v1m0 6v1m0 26v1m0 97v1m0 74v1m1 -257v1m0 22v1m0 12v1m0 39v1m0 60v1m0 64v1m0 49v1m0 70v1m1 -231v1m0 93v1m0 81v1m0 72v1m1 -89v1m1 -290v1m0 84v1m0 28v1m0 46v1m0 35v1m0 37v1m0 52v1m1 -251v1m0 36v1m0 134v1m1 -183v1m0 54v1m0 125v1m0 156v1m1 -157v1m0 16v1m0 31v1m1 -161v1m0 105v1m1 -189v1m0 62v1m0 210v1m0 54v1m1 -212v1m0 116v1m0 33v1m0 28v1m0 17v1m1 20v1m1 -352v1m0 26v1m0 72v1m0 86v1m0 81v1m2 -64v1m1 37v1m1 -205v1m0 46v1m0 242v1m1 -329v1m0 214v1m0 113v1m0 12v1m1 -329v1m0 113v1m0 146v1m1 -224v1m0 117v1m0 152v1m1 -76v1m0 100v1m1 -186v1m0 95v1m0 32v1m1 -86v1m0 144v1m1 -268v1m1 -34v1m0 43v1m0 48v1m0 60v1m0 16v1m1 -215v1m0 13v1m0 205v1m0 30v1m0 33v1m0 23v1m0 23v1m1 -273v1m0 29v1m0 23v1m0 59v1m0 149v1m1 -279v1m0 43v1m0 128v1m0 16v1m0 3v1m1 -210v1m0 78v1m0 10v1m1 -128v1m0 129v1m0 74v1m1 -121v1m0 2v1m0 217v1m1 -250v1m0 22v1m0 9v1m0 175v1m0 24v1m1 -216v1m0 129v1m0 79v1m0 3v1m2 -299v1m0 153v1m0 24v1m0 31v1m0 24v1m0 98v1m1 -149v1m0 36v1m0 104v1m1 -316v1m0 8v1m0 93v1m0 30v1m0 7v2m1 44v1m0 161v1m1 -251v1m0 128v1m0 26v1m0 17v1m0 28v1m0 10v1m0 18v1m1 -39v1m0 29v1m1 -232v1m0 4v1m0 26v1m0 22v1m0 123v1m1 -285v1m0 17v1m0 14v1m0 226v1m0 65v1m0 23v1m1 -304v1m1 11v1m0 74v1m0 3v1m0 2v1m0 1v1m0 60v1m0 35v1m0 26v1m0 23v1m1 -192v1m0 26v1m0 71v1m0 75v1m1 -163v1m0 21v1m0 42v1m0 71v1m1 -125v1m0 8v1m0 123v1m1 -165v1m0 165v1m1 -196v1m0 16v1m0 69v1m0 106v1m0 7v1m0 61v1m1 -316v1m0 77v1m0 97v1m0 150v1m1 -305v1m0 138v1m0 100v1m1 -241v1m0 110v1m0 103v1m1 -164v1m0 106v1m0 10v1m1 -186v1m0 12v1m0 98v1m0 38v1m0 30v1m1 -171v1m0 135v1m0 19v1m0 71v1m0 84v1m2 -251v1m0 124v1m2 -159v1m0 67v1m0 159v1m0 34v1m2 -145v1m0 75v1m0 6v1m4 -265v1m0 80v1m0 201v1m0 64v1m2 -197v1m0 44v1m0 132v1m0 4v1m2 -331v1m0 81v1m0 231v1m5 -250v1m0 159v1m0 54v1m0 10v1m5 -59v1m5 -214v1m0 26v1m0 309v1m5 -363v1m0 27v1m0 41v1m0 55v1m0 87v1m0 25v1m0 114v1m0 5v1m5 -342v1m0 15v1m0 6v1m5 -26v1m0 91v1m0 20v1m0 37v1m0 55v1m0 20v1m0 25v1m0 16v1"/><path stroke="#482374" d="M0.5 324v1m1 -322v1m0 116v1m0 77v1m0 52v1m0 32v1m0 49v1m1 -276v1m0 125v1m0 32v1m0 77v1m0 42v1m1 -204v1m0 111v1m0 35v1m0 67v1m1 -330v1m0 38v1m0 7v1m0 101v1m1 123v1m1 -267v1m0 216v1m1 -224v1m0 73v1m0 150v1m1 -210v1m0 19v1m0 33v1m0 204v1m1 -257v1m0 38v1m0 46v1m0 74v1m0 168v1m1 -316v1m0 245v1m0 37v1m1 -113v1m1 138v1m1 -340v1m0 32v1m0 57v1m0 58v1m1 -54v1m0 139v1m0 36v1m0 33v1m1 -138v1m0 38v1m0 8v1m1 -212v1m0 94v1m0 213v1m1 -296v1m0 1v1m0 68v1m0 217v1m0 8v1m1 -299v1m0 32v1m0 59v1m0 5v1m1 -129v1m1 122v1m0 52v1m0 2v1m0 163v1m1 -346v1m0 313v1m1 -75v1m0 30v1m1 -95v1m0 113v1m0 14v1m1 -270v1m0 54v1m0 98v1m0 38v1m1 -184v1m0 140v1m0 12v1m1 -193v1m0 10v1m0 267v1m1 -282v1m0 4v1m0 16v1m0 147v1m0 120v1m1 -169v1m0 125v1m0 67v1m1 -20v1m0 10v1m0 7v1m1 -313v1m0 39v1m0 87v1m0 99v1m0 71v1m0 26v1m1 -117v1m0 87v1m0 24v1m1 -192v1m0 120v1m1 -264v1m0 74v1m0 224v1m2 -212v1m0 85v1m0 74v1m0 45v1m0 40v1m1 -64v1m1 -253v1m0 99v1m0 27v1m1 -109v1m0 12v1m0 162v1m0 3v1m1 -230v1m0 93v1m0 23v1m0 73v1m0 147v2m0 8v1m1 -275v1m0 103v1m0 157v1m1 -336v1m0 218v1m0 99v1m1 -189v1m0 169v1m0 37v1m2 -96v1m0 76v1m0 21v1m1 -247v1m1 -82v1m0 219v1m1 -195v1m0 25v1m0 191v1m1 -203v1m0 62v1m0 124v1m1 -174v1m0 154v1m0 9v1m1 -92v1m0 77v1m0 26v1m0 53v1m1 -164v1m0 45v1m0 57v1m0 33v1m0 24v1m0 3v1m0 38v1m1 -193v1m1 -117v1m0 41v1m0 169v1m0 116v1m1 -378v1m0 2v1m0 137v1m1 17v1m0 5v1m1 -170v1m0 281v1m0 16v1m1 -209v1m0 100v1m0 170v1m1 -338v1m0 117v1m0 38v1m0 122v1m0 16v1m1 -229v1m0 160v1m0 24v1m1 -151v1m0 75v1m0 69v1m0 37v1m1 -295v1m0 329v1m1 -168v1m0 65v1m0 16v1m0 2v1m1 -260v1m0 55v1m0 166v1m0 5v1m0 51v2m0 7v1m0 12v1m0 55v1m0 2v1m1 -217v1m0 38v1m0 14v1m0 78v2m1 -273v1m0 6v1m0 29v1m0 113v1m0 7v1m0 55v1m0 19v1m0 85v1m1 -192v1m0 35v1m0 51v1m0 126v1m2 -356v1m1 -14v1m0 267v1m0 64v1m2 -322v1m0 52v1m0 8v1m0 150v1m1 -225v1m0 19v1m1 61v1m0 219v1m1 -294v1m0 12v1m0 91v1m0 180v1m1 -150v1m0 137v1m0 90v1m1 -187v1m0 40v1m0 78v1m0 59v1m1 -102v1m0 16v1m1 -126v1m0 64v1m0 53v1m0 27v1m0 52v1m1 -27v1m0 16v1m1 -353v1m0 113v1m0 49v1m0 61v1m0 18v1m1 -139v1m0 113v1m1 -148v1m0 160v1m0 15v1m1 -88v1m0 124v1m1 -110v1m0 81v1m1 -125v1m0 171v1m0 24v1m1 -330v2m0 184v1m1 -131v1m0 121v1m0 23v1m0 7v1m0 40v1m0 61v1m0 27v1m1 -292v1m0 21v1m0 118v1m0 22v1m0 8v1m0 86v1m0 33v1m1 -210v1m0 133v1m1 -226v1m0 102v1m0 4v1m1 15v1m1 -86v1m0 3v1m0 52v1m0 191v1m1 -237v1m0 119v1m0 7v1m1 71v1m1 -276v1m0 21v1m0 127v1m0 51v1m0 60v1m1 23v1m1 -316v1m0 66v1m0 33v1m0 31v1m1 -98v1m0 7v1m0 95v1m0 18v1m0 12v1m0 54v1m0 14v1m1 -204v1m1 58v1m0 8v1m0 106v1m0 40v1m0 5v1m1 -250v1m0 57v1m0 20v1m0 22v1m0 13v1m0 3v1m0 26v1m0 199v1m0 9v1m1 -49v1m0 40v1m1 -322v1m0 4v1m0 68v1m1 14v1m0 102v1m0 85v1m1 -252v1m0 16v1m0 93v1m0 76v1m0 27v1m1 -286v1m0 254v1m0 122v1m2 -61v1m2 -266v1m0 220v1m0 65v1m0 37v1m2 -80v1m2 32v1m2 -97v1m0 125v1m0 12v1m4 -310v1m0 72v1m0 44v1m0 3v1m0 14v1m0 37v1m0 32v1m0 103v1m5 -347v1m0 101v1m0 110v1m0 46v1m0 56v1m5 -231v1m0 13v1m0 206v1m5 -339v1m0 304v1m0 57v1m0 22v1m5 -358v1m0 41v1m0 14v1m0 101v1m0 38v1m0 86v1m0 56v1m0 13v1m5 -263v1m0 104v1m0 27v1m0 103v1m5 -256v1m0 263v1"/><path stroke="#482475" d="M0.5 10v1m0 16v1m0 106v1m0 165v1m1 -295v1m0 110v1m0 239v1m1 -268v1m0 128v1m1 -194v1m0 23v1m0 45v1m0 182v1m1 -200v1m0 31v1m0 195v1m0 40v1m1 -237v1m0 85v1m1 -190v1m0 301v1m0 38v1m1 -338v1m0 56v1m0 213v1m1 -24v1m0 27v1m1 -230v1m0 133v1m1 -156v1m0 6v1m0 9v1m0 79v1m0 60v1m0 31v1m0 4v1m0 121v1m1 -175v1m0 179v1m1 -356v1m0 4v1m0 33v1m0 41v1m0 81v1m1 -49v1m0 49v1m0 190v1m1 -176v1m0 25v1m0 116v1m1 -277v1m0 50v1m0 90v1m1 -188v1m0 48v1m0 156v1m1 -119v1m0 130v1m0 114v1m1 -268v1m0 144v1m0 125v1m1 -222v1m1 196v1m0 23v1m1 -288v1m0 42v1m0 27v1m0 240v1m1 -368v1m0 136v1m1 -98v1m0 34v1m0 25v1m0 93v1m0 60v2m0 8v1m1 -195v1m0 22v1m0 173v1m0 21v1m0 24v1m0 39v2m1 -361v1m0 50v1m0 8v1m0 185v1m2 93v1m1 -303v1m0 1v1m1 44v1m0 61v1m0 3v1m0 56v1m1 -139v1m0 56v1m0 61v1m0 72v1m1 -173v1m0 3v1m0 117v1m0 46v1m0 25v1m1 -250v1m0 293v1m1 -320v1m0 169v1m0 195v1m1 -260v1m0 19v1m0 5v1m0 150v1m0 41v1m0 5v1m1 -99v1m1 -241v1m0 124v1m0 75v1m0 13v1m0 53v1m0 3v1m0 76v1m0 5v1m1 -162v1m0 82v1m1 -279v1m0 205v1m0 38v1m0 2v1m1 -237v1m0 33v1m0 7v1m0 84v1m0 10v1m0 34v1m0 83v1m1 -177v1m0 59v1m0 188v1m1 -235v2m0 111v1m1 -213v1m0 69v1m0 41v1m0 13v1m0 27v1m0 69v1m1 -162v1m0 49v1m0 51v1m0 80v1m1 43v1m0 34v1m1 -307v1m0 258v1m1 -221v1m1 155v1m0 121v1m1 -271v1m0 13v1m0 64v1m0 21v1m0 12v1m0 12v1m1 85v1m0 8v1m1 -245v1m0 5v1m0 109v1m0 74v1m0 82v1m1 -238v1m0 165v1m1 -7v1m1 -89v1m0 51v1m0 102v1m0 41v1m0 19v1m1 -251v1m0 65v1m0 102v1m0 56v1m1 -277v1m0 67v1m0 75v1m1 -228v1m0 6v1m0 106v1m0 36v1m0 68v1m0 29v1m1 -222v1m0 170v1m0 31v1m1 -170v1m0 19v1m0 158v1m1 -231v1m0 1v1m0 98v1m1 -27v1m1 153v1m0 6v1m0 82v1m2 -303v1m0 292v1m0 33v1m1 -314v1m0 10v1m0 40v1m0 11v1m0 69v1m0 40v1m0 31v1m0 78v1m1 -284v1m0 89v1m0 23v1m0 140v1m0 15v1m1 0v1m0 43v1m1 -292v1m0 8v1m0 73v1m0 44v1m0 111v1m1 -108v1m0 80v1m0 81v1m1 -311v1m0 73v1m0 66v1m1 -188v1m0 20v1m0 181v1m1 -207v1m0 149v1m0 83v1m1 -214v1m0 211v1m1 -50v1m0 14v1m0 133v1m1 -326v1m0 29v1m0 22v1m1 53v1m0 98v1m0 121v1m1 -316v1m0 255v1m1 -281v1m0 130v1m0 39v1m0 2v1m0 111v1m0 50v1m0 12v1m1 -361v1m0 72v1m0 12v1m1 -9v1m0 127v1m0 96v1m1 -149v1m0 126v1m0 28v1m1 -294v1m0 48v1m0 26v1m0 31v1m0 12v1m0 149v1m0 78v1m1 -352v1m0 80v1m0 22v1m0 47v1m0 142v1m1 -287v1m0 6v1m0 236v1m0 105v1m1 -336v1m0 33v1m0 71v1m0 84v1m0 73v1m0 49v1m1 -309v1m0 2v1m0 76v1m0 214v1m0 1v1m0 15v2m0 2v1m2 -249v1m0 159v1m0 93v1m1 -283v1m0 25v1m0 34v1m0 18v1m0 51v1m0 68v1m1 -253v1m0 34v1m0 109v1m0 113v1m1 -204v1m0 55v1m0 119v1m0 25v1m0 72v1m0 3v1m1 -207v1m0 63v1m0 41v1m1 -273v1m0 187v1m0 154v1m1 -343v1m0 82v1m0 39v1m0 70v1m1 -117v1m0 100v1m0 179v1m1 -331v1m0 9v1m0 24v1m0 78v1m0 217v1m1 -289v1m0 270v1m0 18v1m1 -344v1m0 230v1m0 9v1m0 42v1m1 -126v1m1 -151v1m0 306v1m0 3v1m1 -343v1m0 252v1m1 -218v1m0 69v1m0 66v1m0 24v1m1 -146v1m0 78v1m0 100v1m0 26v1m0 28v1m0 24v1m0 31v1m1 -321v1m0 157v1m1 -160v1m1 85v1m0 27v1m0 218v1m1 -237v1m2 -121v1m0 128v1m0 112v1m2 -216v1m0 45v1m0 35v1m0 132v1m0 10v1m0 30v1m2 -214v1m0 8v1m0 137v1m0 93v1m2 -92v1m0 143v1m2 -333v1m0 37v1m0 89v1m0 38v1m0 58v1m0 107v1m2 -300v1m0 176v1m0 111v1m0 19v1m2 -369v1m0 145v1m0 163v1m5 -14v1m0 13v1m0 6v1m0 48v1m5 -161v1m0 20v1m0 37v1m5 -201v1m0 29v1m5 -25v1m0 158v1m0 45v1m0 4v1m0 47v1m5 -195v1m0 37v2m0 47v1m5 -224v1m0 132v1m0 32v1m0 156v1m0 3v1"/><path stroke="#482576" d="M0.5 45v1m0 82v1m0 153v2m0 83v1m1 -350v1m0 45v1m1 -49v1m0 49v1m0 45v1m0 91v1m0 60v1m2 -86v1m0 108v1m0 35v1m0 3v1m0 17v1m1 -14v1m1 -288v1m0 179v1m1 -203v1m1 4v1m0 287v1m0 5v1m0 44v1m0 4v1m1 -295v1m0 22v1m0 2v1m0 6v1m0 29v1m0 87v2m1 -34v1m0 31v1m1 -182v1m0 91v1m0 212v1m0 2v1m1 -347v1m0 81v1m0 11v1m0 10v1m1 -109v1m0 205v1m1 -153v1m0 135v1m2 -165v1m0 8v1m0 129v1m0 4v1m0 30v1m1 -155v1m0 29v1m0 16v1m1 -73v1m0 27v1m0 22v1m0 29v1m0 89v1m0 5v1m0 19v1m0 22v1m0 38v1m1 -96v1m0 17v1m1 -85v1m1 -124v1m0 164v1m1 -128v1m0 114v1m1 70v1m1 -56v1m0 58v1m0 60v1m1 -271v1m0 63v1m0 104v1m0 38v1m0 83v1m1 -95v1m2 -153v1m0 16v1m0 60v1m0 92v1m0 18v1m0 4v1m1 -230v1m0 27v1m0 218v1m0 24v1m1 -287v1m0 57v1m0 59v1m0 46v1m0 41v1m0 40v1m0 19v1m0 55v1m0 11v1m1 -245v1m0 61v1m0 108v1m0 80v1m1 -278v1m0 69v1m0 161v1m1 -165v1m1 -91v1m0 97v1m0 32v1m0 1v1m0 35v1m2 -132v1m0 79v1m0 6v1m0 115v1m0 60v1m1 -324v1m0 44v1m0 146v1m0 32v1m1 -138v1m0 162v1m0 53v1m1 -283v1m0 105v1m0 73v1m1 -169v1m0 166v1m1 -196v1m0 5v1m0 79v1m1 -105v1m0 7v1m0 39v1m1 -41v1m0 123v1m0 124v1m0 32v1m1 -262v1m0 64v1m0 74v1m0 122v1m1 -254v1m0 69v1m0 32v1m0 31v1m0 11v1m0 24v1m1 -159v1m0 1v1m0 8v1m0 40v1m1 59v1m0 124v1m1 -94v1m0 33v1m1 -64v1m0 41v1m1 -202v1m0 120v1m0 1v1m0 143v1m1 -247v1m0 129v1m0 71v1m1 -204v1m0 32v1m0 73v1m0 31v1m1 -77v1m0 40v1m0 45v1m1 -164v1m0 184v1m0 113v1m1 -167v1m0 59v1m1 -233v1m0 91v1m0 66v1m0 79v1m0 43v1m0 51v1m0 11v1m1 -206v1m1 -114v1m0 38v1m0 145v1m0 49v1m1 92v1m1 -223v1m0 26v1m0 50v1m0 54v1m1 -273v1m0 56v1m0 22v1m0 47v1m0 8v1m0 8v1m0 21v1m0 146v1m0 16v1m0 4v1m2 -21v1m1 -276v1m0 54v1m0 17v1m0 93v1m0 14v1m0 99v1m1 -209v1m0 75v1m1 -179v1m0 30v1m0 121v1m0 40v1m0 84v1m1 -261v1m0 23v1m0 116v1m0 28v1m0 16v1m1 -149v1m0 194v1m1 -107v1m0 109v1m0 86v1m1 -322v1m0 6v1m0 68v1m1 -107v1m0 103v1m0 75v1m0 153v1m0 20v1m1 -273v1m0 40v1m0 3v1m0 70v1m0 74v1m1 -283v1m0 216v1m1 -191v1m0 72v1m0 48v1m1 -62v1m0 276v1m1 -9v1m1 -317v1m0 39v1m0 58v1m0 76v1m0 8v2m0 22v1m0 76v1m1 -222v1m1 -40v1m0 17v1m0 119v1m0 16v1m1 -138v1m1 -7v1m0 219v1m1 -284v1m0 141v1m0 48v1m1 -168v1m0 181v1m0 11v1m1 -238v1m1 76v1m0 160v1m1 -44v1m1 -201v1m0 131v1m0 4v1m0 148v1m1 -284v1m0 298v1m0 40v1m0 4v1m1 -253v1m0 112v1m0 81v1m0 62v1m0 3v1m1 -255v1m0 67v1m0 33v1m0 43v1m0 5v1m1 -180v1m0 187v1m0 49v1m0 54v1m1 -274v1m0 47v2m0 52v1m0 3v1m0 91v1m0 45v1m1 -168v1m0 160v1m1 -150v1m1 36v1m0 86v1m0 63v1m1 -311v1m0 55v1m0 104v1m0 9v1m0 131v1m1 -368v1m0 28v1m0 55v1m0 29v1m0 108v1m1 -31v1m0 10v1m0 22v1m1 -159v1m0 127v1m0 31v1m0 88v1m1 -132v1m0 106v1m2 -286v1m0 164v1m0 34v1m0 15v1m0 16v1m0 13v1m0 46v1m1 -102v1m0 49v1m0 103v1m1 -269v1m0 225v1m1 -285v1m0 234v1m1 -255v1m0 55v1m0 29v1m0 177v1m0 4v1m2 -102v1m2 -84v1m0 71v1m0 38v1m0 49v1m0 58v1m0 5v1m2 -311v1m2 117v1m0 8v1m0 127v1m0 79v1m2 -333v1m0 25v1m0 166v1m0 44v1m2 -32v1m0 27v1m2 -218v1m0 88v1m0 97v1m5 -210v1m0 17v1m0 31v1m0 91v1m0 67v1m0 107v1m0 52v1m5 -308v1m5 181v1m0 9v1m0 27v1m0 14v1m5 -295v1m0 10v1m0 14v1m0 67v1m10 -53v1m0 131v1m0 57v1"/><path stroke="#482677" d="M0.5 101v1m0 187v1m1 -244v1m0 35v1m0 114v1m1 -196v1m0 125v1m0 2v1m0 42v1m1 -40v1m1 -13v1m0 127v1m0 12v1m0 51v1m0 18v1m2 -135v1m0 7v1m0 137v1m1 -336v1m0 24v1m1 40v1m1 69v1m0 41v1m0 39v1m1 23v1m1 -234v1m0 169v1m0 99v1m2 -279v1m0 15v1m0 30v1m0 4v1m0 36v1m1 -72v1m0 156v1m0 29v1m0 68v1m1 -241v1m0 241v1m1 -261v1m0 242v1m0 50v1m0 37v1m1 -249v1m0 135v1m1 -129v1m0 138v1m0 28v1m0 9v1m0 46v1m1 -122v1m1 -99v1m0 11v1m0 11v1m0 57v1m0 126v1m1 -168v1m0 8v1m1 -151v1m0 107v1m1 -81v1m0 103v1m0 81v1m0 53v1m0 57v1m1 -260v1m0 9v1m0 135v1m0 64v1m1 -279v1m0 49v1m0 63v1m0 182v1m1 -166v1m0 20v1m1 124v1m1 -167v1m0 11v1m0 17v1m0 49v1m0 12v1m0 46v1m0 61v1m0 8v1m0 11v1m1 -143v1m0 25v1m0 57v1m1 -198v1m0 130v1m0 122v1m1 -307v1m0 153v1m0 10v1m0 85v1m1 -252v1m0 86v1m0 31v1m1 -45v1m0 108v1m0 71v1m1 -178v1m0 152v1m1 -244v1m0 94v1m0 227v1m1 5v1m1 -223v1m1 27v1m0 15v1m0 175v1m1 -317v1m0 236v1m1 -151v1m0 25v1m0 13v1m1 -94v1m0 229v1m1 -251v1m0 67v1m0 23v1m0 171v1m1 -210v1m0 29v1m0 19v1m0 77v1m0 79v1m1 -300v1m0 60v1m0 5v1m0 35v1m0 219v1m0 16v1m1 -110v1m0 11v1m0 9v1m1 -244v1m0 29v1m0 186v1m0 59v1m0 49v1m1 -347v1m0 8v1m0 6v1m1 144v1m0 33v1m0 5v1m1 25v1m1 71v1m1 -325v1m0 305v1m0 24v1m1 -282v1m0 86v1m0 107v1m0 55v1m0 1v1m1 -248v1m0 240v1m1 -265v1m0 34v1m0 71v1m0 43v1m0 22v1m0 86v1m1 -105v1m0 11v1m0 47v1m0 73v1m0 1v1m0 21v1m0 11v1m1 -351v1m1 71v1m0 92v1m1 164v1m1 -325v1m0 7v1m1 79v1m0 78v1m1 -172v1m0 151v1m0 10v1m0 113v1m0 30v1m1 29v1m1 -236v1m0 58v1m0 45v1m1 -207v1m0 1v1m0 25v1m0 51v1m0 27v1m0 49v1m0 37v1m0 104v1m1 -309v1m0 277v1m1 -256v1m0 4v1m0 80v1m0 62v1m0 148v1m0 35v1m1 -152v1m1 -1v1m0 12v1m1 -219v1m0 320v1m1 -286v1m0 190v1m0 71v1m1 -248v1m0 264v1m0 7v1m1 -301v1m0 91v1m0 77v1m0 16v1m0 47v1m0 45v1m1 -95v1m0 8v1m0 76v1m1 -74v1m1 -113v1m0 199v1m1 -137v1m1 -173v1m0 177v1m1 -100v1m0 200v1m1 -158v1m0 124v1m0 103v1m1 -190v1m1 -45v1m0 122v1m1 125v1m1 -249v1m1 -128v1m0 5v1m1 60v1m0 130v1m0 26v1m0 4v1m0 59v1m0 26v2m0 4v1m1 -109v1m0 22v1m0 62v1m0 5v1m1 -278v1m0 23v1m0 107v1m0 151v1m0 22v1m1 -210v1m0 59v1m0 110v1m1 0v1m1 -260v1m0 6v1m0 96v1m0 51v1m0 164v1m0 8v1m1 -356v1m0 42v1m0 216v1m0 27v1m0 52v1m1 -314v1m0 32v1m0 155v1m0 62v1m1 -155v1m0 80v1m1 -137v1m0 25v1m0 104v1m0 33v1m0 26v1m1 -185v1m0 109v1m1 -176v1m0 34v1m0 140v1m1 -176v1m0 119v1m0 79v1m0 40v1m1 -214v1m0 146v1m0 69v1m2 -275v1m0 45v1m0 26v1m0 39v1m0 67v1m0 95v1m1 -235v1m0 228v1m0 17v1m0 29v1m1 -310v1m0 3v1m0 47v1m0 40v1m1 86v1m1 -87v1m0 6v1m0 60v1m0 162v1m1 -177v1m0 38v1m0 56v1m0 47v1m1 -240v1m0 96v1m0 2v1m0 6v1m0 49v1m0 46v1m2 -5v1m0 5v1m0 99v1m2 -348v1m0 69v1m0 200v1m4 -268v1m0 246v1m0 3v1m2 -262v1m2 7v1m0 48v1m0 31v1m0 5v1m0 81v1m2 -102v1m0 140v1m0 45v1m0 9v1m0 13v1m0 2v1m0 5v1m0 8v1m5 -210v1m0 148v1m5 -239v1m0 104v1m0 225v1m5 -62v1m5 -289v1m0 32v1m0 113v1m0 173v1m5 -57v1m5 -253v1m0 79v1m0 99v1m0 56v1m0 96v1"/><path stroke="#482878" d="M0.5 184v1m0 59v1m0 39v1m0 5v1m0 16v1m1 -103v1m2 -62v1m0 178v1m0 1v1m0 49v1m1 -362v1m0 41v1m0 40v1m0 104v1m1 -197v1m0 1v1m0 247v1m0 24v1m1 -176v1m0 30v1m1 4v1m2 -92v1m0 69v1m0 4v1m0 152v1m0 9v1m0 82v1m1 -334v1m0 269v1m2 -97v1m0 66v1m1 -256v1m0 243v1m1 -64v1m0 87v1m0 56v1m0 10v1m1 -363v1m0 112v1m0 88v1m0 26v1m0 142v1m1 -324v1m0 21v1m0 91v1m0 30v1m1 -85v1m0 71v1m0 87v1m1 -80v1m0 65v1m2 -227v1m0 47v1m1 203v1m0 41v1m2 -303v1m0 214v1m1 -205v1m0 76v1m0 125v1m0 56v1m0 61v1m1 -318v1m0 99v1m0 141v1m1 -275v1m0 2v1m0 293v1m1 -235v1m0 45v1m0 53v1m0 141v1m1 -218v1m0 21v1m0 41v1m0 189v1m1 20v2m1 -302v1m0 66v1m0 15v1m0 57v1m0 13v1m0 1v1m1 -111v1m1 -99v1m0 54v1m0 58v1m0 16v1m0 78v1m0 9v1m0 99v1m1 -237v1m0 90v1m0 99v1m0 84v1m1 -310v1m1 81v1m1 -139v1m0 213v1m0 2v1m0 78v1m0 36v1m1 -223v1m0 117v1m0 7v1m0 56v1m2 -306v1m0 55v1m0 224v1m1 -246v1m0 251v1m1 -120v1m1 -41v1m1 8v1m0 32v1m0 3v1m0 30v1m0 56v1m0 27v1m0 37v1m0 24v1m1 -347v1m0 13v1m0 103v1m0 64v1m0 45v1m0 2v1m2 -100v1m0 209v1m1 -296v1m0 65v1m0 69v1m0 6v1m0 167v1m1 -42v1m1 -194v1m0 43v1m0 28v1m0 31v1m0 122v1m1 -311v1m0 50v1m0 214v1m1 -277v1m0 141v1m0 76v1m1 -41v1m0 1v1m0 69v1m1 -287v1m0 189v1m0 7v1m0 48v1m0 28v1m0 19v1m0 19v1m0 25v1m1 -320v1m0 2v1m0 28v1m0 157v1m0 1v1m1 -180v1m0 63v1m1 11v1m0 75v1m1 -28v1m0 100v1m1 -149v1m0 164v1m1 -155v1m1 -112v1m0 190v1m1 25v1m1 -166v1m0 59v1m0 70v1m0 162v1m1 -295v1m0 88v1m1 -77v1m0 189v1m0 71v1m1 -51v1m0 16v1m0 9v1m0 31v1m1 -305v1m0 128v1m1 -163v1m0 21v1m0 90v1m0 91v1m1 41v1m1 -199v1m1 139v1m0 60v1m1 -227v1m0 67v1m0 13v1m0 98v1m0 62v1m1 -272v1m0 11v1m0 9v1m0 325v1m1 -339v1m0 54v1m0 146v1m0 44v1m1 -191v1m0 133v1m0 124v1m2 -223v1m0 129v1m0 58v1m1 -250v1m0 47v1m0 4v1m0 60v1m0 55v1m0 26v1m0 65v1m1 -163v1m0 145v1m2 -299v1m0 30v1m0 164v1m0 18v1m1 -142v1m1 50v1m1 -129v1m0 56v1m0 94v1m0 67v1m0 45v1m0 52v2m0 21v1m1 -286v1m0 166v1m0 1v1m1 -184v1m0 222v1m0 105v1m1 -340v1m0 31v1m0 216v1m1 -130v1m0 184v1m1 -244v1m0 154v1m0 73v1m1 -126v1m1 -10v1m0 36v1m0 128v1m1 -314v1m0 101v1m0 79v1m0 18v1m1 -113v1m0 29v1m0 6v1m0 136v1m0 65v1m1 -333v1m0 110v1m0 14v1m2 -69v1m0 70v1m0 7v1m0 135v1m0 15v1m1 -241v2m0 258v1m0 11v1m1 -260v1m0 50v1m1 -127v1m0 101v1m1 -73v1m0 203v1m0 52v1m1 -314v1m0 12v1m0 66v1m0 12v1m0 40v1m0 6v1m0 16v1m0 94v1m0 30v1m0 81v1m1 -268v1m0 10v1m0 50v1m0 29v1m1 -140v1m0 68v1m2 -75v1m1 10v1m0 113v1m0 36v1m0 28v1m0 115v1m0 6v1m1 -273v1m2 -66v1m0 93v1m0 218v1m2 -250v1m0 20v1m0 111v1m0 6v1m0 92v1m0 28v1m2 -213v1m0 5v1m4 -25v1m0 166v1m2 -144v1m0 94v1m2 -217v1m0 88v1m0 14v1m0 107v1m0 11v1m5 -201v1m0 245v1m0 80v1m5 -317v1m0 182v1m5 60v1m0 43v1m0 22v1m5 -268v1m0 179v1m5 -261v1m0 45v1m5 -65v1m0 123v1m0 153v1"/><path stroke="#482979" d="M0.5 66v1m0 107v1m0 79v2m0 52v1m1 -232v1m0 64v1m0 149v1m0 54v1m1 -110v1m1 -121v1m1 10v1m0 56v1m0 58v1m0 4v1m1 -251v1m1 68v1m0 82v1m0 68v1m0 77v1m0 29v1m1 -324v1m0 79v1m0 53v1m0 215v1m1 -305v1m0 42v1m0 230v1m1 -136v1m0 2v1m1 -103v1m0 116v1m0 148v1m1 -329v1m0 170v1m0 8v1m0 81v1m0 45v1m1 -52v1m0 80v1m1 -325v1m0 45v1m0 6v1m0 276v1m1 -305v1m0 189v1m1 -68v1m0 15v1m0 46v1m1 -252v1m0 112v1m0 119v1m1 -238v1m0 81v1m0 14v1m0 27v1m0 57v1m0 174v1m1 -283v1m0 3v1m0 20v1m0 14v1m0 108v1m0 32v1m0 5v1m0 63v1m1 -237v1m0 2v1m0 169v1m1 -152v1m0 1v1m0 31v1m0 26v1m0 158v1m1 -152v1m0 37v1m0 38v1m0 45v1m1 -176v1m0 32v1m0 101v1m1 -264v1m0 50v1m0 292v1m1 -246v1m0 265v1m1 -298v1m0 227v1m0 69v1m1 -277v1m0 113v1m0 149v1m1 -303v1m0 70v1m0 127v1m0 57v1m0 12v1m1 -305v1m0 195v1m0 39v1m1 64v1m1 -263v1m0 68v1m1 16v1m0 20v1m0 37v1m0 40v1m1 -207v1m0 7v1m0 301v1m1 -215v1m1 90v1m0 47v1m0 7v1m0 8v1m0 21v1m2 -253v1m0 132v1m0 7v1m1 -168v1m0 91v1m0 39v1m0 22v1m0 5v1m0 64v1m0 89v1m0 11v1m1 -350v1m1 198v1m0 31v1m0 62v1m0 61v1m1 -299v1m0 31v1m0 46v1m0 69v1m0 33v1m0 102v1m1 -146v1m1 -141v1m0 37v1m0 55v1m0 75v1m0 65v1m1 -53v1m1 -220v1m0 140v1m0 42v1m0 47v1m0 59v1m1 -140v1m0 47v1m1 -185v1m0 22v1m0 55v1m0 177v1m1 -276v1m0 84v1m0 166v1m0 1v1m1 -85v1m1 -182v1m0 28v1m0 238v1m0 32v1m0 23v1m1 -301v1m0 149v1m0 134v1m0 10v1m1 -320v1m0 9v1m0 48v1m0 1v1m0 78v1m0 18v1m0 102v1m0 59v1m2 -345v1m0 38v1m0 75v1m0 34v1m0 58v1m1 -20v1m0 45v1m0 124v1m2 -243v1m0 33v1m0 73v1m0 88v1m1 -307v1m0 106v1m1 191v1m0 9v1m0 14v1m0 30v1m1 -214v1m0 62v1m0 127v1m1 -296v1m1 -43v1m0 20v1m0 33v1m0 52v1m0 21v1m0 33v1m0 30v1m0 57v1m0 59v1m0 17v1m2 -255v1m0 35v1m0 42v1m0 57v1m1 43v1m0 38v1m1 3v1m1 -205v1m0 37v1m0 153v1m1 -65v1m1 -198v1m0 61v1m0 49v1m0 28v1m0 53v1m0 73v1m1 -289v1m0 101v1m1 110v2m0 109v1m1 -241v1m0 132v1m1 -54v1m0 118v1m0 53v1m0 3v1m1 -365v1m0 113v1m0 170v1m1 -92v1m0 12v1m0 87v1m0 32v1m2 -322v1m0 90v1m0 112v1m0 22v1m0 71v1m1 -180v1m0 16v1m0 114v1m0 114v1m1 -234v1m0 144v1m0 52v1m1 -311v1m0 218v1m0 13v1m0 103v1m1 -64v1m0 15v1m1 -243v1m0 7v1m0 56v1m0 132v1m1 -78v1m0 117v1m1 -107v1m0 65v1m0 41v1m0 11v1m0 3v1m0 6v1m1 -333v1m0 151v1m0 64v1m0 58v1m0 28v1m0 53v1m1 -293v1m2 -65v1m0 113v1m0 165v1m0 60v1m1 -342v1m0 54v1m0 87v1m0 158v1m0 57v1m1 -368v1m0 136v1m1 -113v1m1 76v1m0 50v1m0 77v1m0 136v1m1 -281v1m0 1v1m0 126v1m0 48v1m1 -173v1m0 55v1m0 33v1m1 129v1m1 -278v1m0 37v1m0 30v1m0 109v1m0 45v1m1 108v1m0 3v1m1 -347v1m0 93v1m0 31v1m0 83v1m0 87v1m0 18v1m1 -268v1m0 54v1m1 -134v1m0 159v1m0 8v1m0 146v1m0 32v1m2 -281v1m0 45v1m0 108v1m0 101v1m0 32v1m1 -320v1m0 22v1m0 259v1m1 -194v1m0 58v1m1 -115v1m1 -69v1m0 62v1m0 112v1m0 150v1m0 22v1m1 -233v1m0 25v1m0 202v1m4 -309v1m2 280v1m2 -315v1m0 229v1m2 -153v1m0 1v1m0 144v1m4 -91v1m0 185v1m5 -212v1m5 -5v1m5 -94v1m0 13v1m0 52v1m0 11v1m0 65v1m0 141v1m0 39v1m5 2v1m5 -264v1m0 32v1m0 173v1m0 74v1m5 -269v1m0 1v1m0 141v1"/><path stroke="#472a7a" d="M0.5 38v1m0 12v1m0 59v1m0 26v1m0 4v1m0 153v1m1 8v2m1 -7v1m1 -275v1m0 137v1m0 22v1m0 49v1m0 99v1m1 -60v1m1 -191v1m0 81v1m0 108v1m0 80v1m1 -240v1m0 213v1m1 -210v1m0 145v1m0 36v1m0 20v1m0 12v1m0 30v1m1 -322v1m0 29v1m0 58v1m1 -136v1m0 167v1m0 168v1m1 -328v1m0 40v1m0 3v1m0 42v1m0 18v1m0 108v1m0 33v1m0 71v1m2 -189v1m0 188v1m1 -150v1m0 116v1m1 -301v1m0 198v1m0 41v1m1 -169v1m0 26v1m0 12v1m1 23v1m0 46v1m1 -73v1m1 -100v1m0 73v1m2 190v1m2 -238v1m0 102v1m0 181v1m2 -275v1m1 139v1m0 4v1m0 46v1m0 111v1m1 -338v1m0 302v1m1 -231v1m0 4v1m0 1v1m0 1v1m0 88v1m1 -136v1m0 93v1m0 95v1m0 7v1m1 24v1m1 -288v1m0 5v1m0 195v1m0 160v1m1 -309v1m0 77v1m0 98v1m1 -163v1m0 13v1m0 171v1m0 36v1m0 16v1m0 60v1m1 -365v1m0 169v1m0 164v1m0 39v1m1 -212v1m0 46v1m1 -50v1m0 185v1m1 -211v1m1 217v1m1 -150v1m0 26v1m0 32v1m1 -157v1m0 80v1m0 105v1m1 -277v1m0 19v1m0 188v1m1 -52v1m0 14v1m0 67v1m0 38v1m1 -248v1m0 72v1m0 35v1m0 4v1m1 -128v1m0 40v1m0 204v1m1 -253v1m0 102v1m1 -126v1m0 18v1m1 -37v1m0 41v1m0 237v1m1 10v1m1 -180v1m0 34v1m0 25v1m0 45v1m0 5v1m0 62v1m1 -288v1m0 348v1m1 -113v1m0 130v1m1 -160v1m0 27v1m1 -82v1m0 82v1m1 -159v1m0 295v2m0 5v1m1 -191v1m1 -125v1m0 244v1m1 -252v1m0 40v1m0 47v1m1 24v2m2 -181v1m0 64v1m0 20v1m0 30v1m1 66v1m0 154v2m1 -206v1m0 16v1m1 -104v1m0 155v1m0 19v1m0 148v1m1 -142v1m1 -133v1m0 97v1m0 90v1m0 80v1m1 -273v1m0 172v1m0 62v1m0 7v1m1 -238v1m0 105v1m1 -83v1m0 42v1m0 21v1m0 149v1m1 -338v1m0 15v1m0 330v1m1 -209v1m1 -28v1m0 98v1m1 -217v1m0 17v1m0 5v1m0 154v1m0 181v1m1 -215v1m0 106v1m0 31v1m0 2v1m1 -240v1m0 95v1m0 144v1m0 1v1m0 37v1m1 -312v1m0 83v1m0 126v1m1 -169v1m0 37v1m1 -58v1m0 58v1m1 253v1m1 -315v1m0 79v1m0 6v1m0 62v1m1 -170v1m0 159v1m0 116v2m0 22v1m1 -82v1m1 -5v1m1 57v1m1 -120v1m0 35v1m0 45v1m0 23v1m1 -190v1m0 204v1m1 -291v1m0 287v1m1 -298v1m0 301v1m1 -294v1m0 141v1m1 -108v1m0 23v1m0 230v1m0 15v1m1 -262v1m0 298v1m1 -209v1m1 -138v1m0 144v1m0 33v1m0 159v1m1 -273v1m0 43v1m0 1v1m0 93v1m0 126v1m1 -224v1m0 32v1m1 -141v1m0 32v1m0 216v1m1 34v1m0 58v1m1 -361v1m0 279v1m1 -263v1m0 4v1m0 7v1m0 36v1m0 103v1m0 184v1m1 -354v1m0 6v1m0 17v1m0 66v1m0 31v1m0 15v1m0 12v1m1 -128v1m1 43v1m0 16v1m0 27v1m0 189v1m1 -182v1m0 149v1m2 -207v1m0 214v1m1 -247v1m0 203v1m0 130v1m1 -197v1m0 19v1m0 87v1m0 2v1m0 5v1m1 -249v1m0 35v1m0 29v1m0 58v1m0 175v1m2 -187v1m0 48v1m2 -91v1m0 2v1m0 189v1m0 45v1m0 10v1m2 -125v1m0 102v1m2 -235v1m0 80v1m2 -162v1m0 7v1m0 107v1m2 33v1m2 -19v1m5 -121v1m0 25v1m0 3v1m0 9v1m0 6v1m0 3v1m0 247v1m5 -239v1m0 1v1m0 69v1m10 -105v1m0 101v1m0 17v1m0 35v1m0 2v1m0 125v1m10 -358v1m0 43v1m0 94v1m0 38v1m0 142v1"/><path stroke="#472c7a" d="M0.5 371v1m1 -347v1m0 35v1m0 75v1m1 -69v1m1 -63v1m0 105v1m0 192v1m1 -303v1m0 10v1m0 55v1m0 22v1m0 246v1m0 1v1m0 30v1m1 -318v1m1 -25v1m0 268v1m1 -153v1m0 33v1m1 96v1m0 15v1m0 9v1m1 -261v1m0 94v1m0 160v2m1 -221v1m0 8v1m0 131v1m1 -30v1m0 44v1m1 -208v1m0 7v1m0 11v1m0 166v1m0 70v1m0 66v1m1 -301v1m1 -60v1m0 287v1m1 -163v1m0 154v1m0 29v1m0 15v1m1 -246v1m1 185v1m0 39v1m0 64v1m1 -335v1m0 39v1m0 142v1m2 -28v1m0 117v1m1 -147v1m0 11v1m0 182v1m0 18v1m1 -235v1m0 27v1m0 4v1m0 24v1m0 14v1m0 138v1m1 -173v1m0 161v1m1 -129v1m0 114v1m1 -261v1m0 79v1m0 59v1m0 34v1m0 97v1m1 -47v1m1 -242v1m0 14v1m0 22v1m0 95v1m0 34v1m0 27v1m0 16v1m0 26v1m0 5v1m1 -300v1m0 45v1m0 202v1m0 80v1m1 -217v1m0 82v1m0 49v1m1 74v1m1 -294v1m0 145v2m1 -135v1m0 70v1m0 70v1m2 177v1m2 -338v1m0 223v1m0 104v1m1 -253v1m1 -94v1m0 94v1m0 36v1m0 33v1m0 58v1m1 -45v1m0 90v1m1 -147v1m0 6v1m0 2v1m0 14v1m1 -168v1m1 257v1m0 3v1m1 -198v1m0 125v1m0 4v1m0 10v1m0 51v1m0 43v1m1 -204v1m0 135v1m1 -140v1m1 -69v1m0 215v1m0 26v1m0 94v1m1 -313v1m0 174v1m1 10v1m1 -242v1m0 41v1m0 257v1m1 21v1m0 46v1m1 -320v1m0 68v1m0 108v1m0 4v2m1 -193v1m0 130v1m0 191v1m1 -354v1m0 312v1m0 58v1m1 -350v1m0 80v1m0 159v1m1 -85v1m0 27v1m1 -9v1m0 66v1m1 -136v1m0 37v1m0 124v1m0 1v1m1 -212v1m1 -59v1m0 88v1m0 108v1m0 54v1m1 -221v1m0 104v1m0 55v1m0 45v1m1 -103v1m0 26v1m0 47v1m0 5v1m0 92v1m0 12v1m0 12v1m1 -278v2m0 137v1m1 -235v1m1 129v1m0 94v1m0 26v1m0 8v1m0 26v1m0 7v1m2 -82v1m0 37v1m0 69v1m0 45v1m1 -359v1m0 3v1m0 16v1m0 58v1m0 32v1m0 6v1m0 196v1m1 -68v1m1 -239v1m0 7v1m0 27v1m1 83v1m0 155v1m0 15v1m1 9v1m1 -281v1m0 5v1m0 189v1m0 35v1m0 46v1m0 36v1m1 -335v1m0 209v1m1 -128v1m0 85v1m0 44v1m1 -59v1m1 143v1m1 -268v1m0 103v1m0 138v1m1 -288v1m0 352v1m1 -285v1m0 64v2m0 98v1m1 -258v1m0 36v1m0 102v1m0 206v1m0 21v1m1 -355v1m0 63v1m0 6v1m0 11v1m0 32v1m0 212v1m0 8v1m1 -280v1m0 230v1m1 -126v1m0 136v1m1 -244v1m0 34v1m0 216v1m0 32v1m1 4v1m0 3v1m0 7v1m1 -186v1m0 34v1m0 106v1m0 45v1m1 -374v1m0 96v1m0 210v1m1 -105v1m0 7v1m0 21v1m0 7v1m1 -217v1m0 15v1m0 153v1m1 -161v1m0 7v1m0 198v1m1 -189v1m0 109v1m0 53v1m0 33v1m0 55v1m0 44v1m1 -330v1m0 232v1m1 -215v1m0 29v1m0 198v1m0 29v1m0 58v1m1 -121v1m0 90v1m1 -331v1m0 14v1m0 2v1m0 53v1m0 204v1m0 89v1m1 -138v1m0 74v1m1 -220v1m0 60v1m1 24v1m0 19v1m1 -28v1m0 3v1m1 -126v1m0 187v1m0 6v1m0 31v1m1 -280v1m0 74v1m0 35v1m0 10v2m0 8v1m0 59v1m0 97v1m2 -135v1m0 41v1m0 138v1m1 -209v1m1 -77v1m0 23v1m0 13v1m0 14v1m0 18v1m0 55v1m0 23v1m0 90v1m1 -272v1m2 -22v1m0 87v1m0 132v1m0 62v1m0 24v1m0 9v1m2 -165v1m0 212v1m2 -292v1m0 195v1m0 36v1m2 -194v1m2 -51v1m0 194v1m0 58v1m2 -326v1m0 153v1m0 11v1m2 -79v1m0 177v1m0 8v1m0 36v1m5 -144v1m0 127v1m0 12v1m0 11v1m0 55v1m5 -370v1m5 36v1m5 80v1m0 26v1m0 73v1m5 -205v1m0 134v1m5 -139v1m0 1v1m0 349v1"/><path stroke="#472d7b" d="M0.5 196v1m1 -117v1m0 103v1m0 173v1m1 -280v1m0 257v1m1 15v1m1 -333v1m1 110v1m0 61v1m0 112v1m0 38v1m2 -230v1m0 188v1m0 38v1m1 -334v1m0 18v1m0 50v1m0 30v1m0 11v1m0 49v1m0 134v1m0 52v1m1 -135v1m0 54v1m2 -125v1m1 171v1m0 1v1m1 -182v1m0 92v1m0 41v1m1 -190v1m0 116v1m1 -89v1m0 44v1m0 131v1m1 -41v1m1 -43v1m1 -211v1m0 16v1m0 133v1m1 -158v1m1 27v1m0 35v1m0 17v2m0 78v1m0 40v1m0 10v1m0 6v1m2 -192v1m0 3v1m0 50v1m0 124v1m0 128v1m1 -281v1m0 95v1m0 132v1m0 45v1m1 -186v1m1 -137v1m0 85v1m2 177v1m1 -181v1m0 145v1m0 13v1m0 2v1m1 -252v1m0 71v1m1 -21v1m0 40v1m0 47v1m0 91v1m2 -203v1m0 6v1m0 85v1m0 202v1m2 0v1m1 -145v1m0 104v1m1 -284v1m0 8v1m0 140v1m0 26v1m0 115v1m2 -247v1m0 46v1m0 76v1m1 -162v1m0 42v1m1 292v1m1 -314v1m0 177v2m0 130v1m1 -355v1m0 68v1m0 18v1m0 65v2m0 1v1m0 53v1m0 142v1m1 -270v1m0 109v1m0 42v1m0 77v1m1 -179v1m0 195v2m2 -213v1m0 50v1m0 88v1m1 -260v1m0 6v1m0 33v1m0 14v1m0 65v1m0 38v1m0 74v1m0 79v1m0 7v1m1 -156v1m0 25v1m1 -185v1m0 345v1m1 -162v1m1 -100v1m0 45v1m1 44v1m0 5v1m0 113v1m1 -314v1m0 78v1m0 59v1m0 60v1m0 53v1m0 59v1m0 6v1m0 52v1m1 -376v1m0 4v1m0 43v1m0 68v1m0 30v1m1 -51v1m1 -85v1m0 46v1m0 71v1m0 119v1m2 -128v1m0 201v1m0 19v1m1 -260v1m1 -32v1m0 49v1m0 31v1m0 205v1m1 -275v1m0 71v1m0 32v1m0 2v1m0 109v1m1 -253v1m0 99v1m0 96v1m0 113v1m0 11v1m1 -267v1m0 207v1m0 55v1m0 3v1m0 4v1m1 -327v1m0 139v1m0 81v1m0 37v1m0 38v1m1 -246v1m2 -30v1m0 43v1m0 213v1m1 -101v1m0 62v1m1 -201v1m0 110v1m1 124v2m0 28v1m1 -155v1m1 -105v1m0 208v1m1 -105v1m0 144v1m1 -339v1m0 46v1m0 59v1m0 151v1m0 21v1m0 20v1m2 36v1m1 -150v1m0 31v1m1 -135v1m0 205v1m1 -266v1m0 2v1m0 319v1m1 -225v1m0 18v1m1 -23v1m1 -125v1m1 254v1m0 90v1m0 15v1m1 -214v1m0 38v1m0 17v1m1 -189v1m0 58v1m0 12v1m0 232v1m1 -179v1m1 -1v1m0 19v1m0 15v1m0 30v1m1 -91v1m0 198v1m1 -322v1m1 96v1m0 38v1m0 60v1m0 150v1m0 10v1m1 -367v1m0 162v1m1 -138v1m0 67v1m2 -79v1m0 23v1m0 23v1m0 68v1m0 88v1m1 79v1m1 56v1m1 -307v1m0 135v1m0 165v1m1 -279v1m0 267v1m1 -354v1m0 47v1m0 171v1m0 67v1m1 -156v1m0 9v1m0 36v1m0 103v1m1 -236v1m0 101v1m0 168v1m1 -46v1m1 -84v1m1 -30v1m0 38v1m1 98v1m0 37v1m1 -267v1m0 22v1m0 38v1m0 42v1m0 100v1m2 -120v1m0 110v1m2 -74v1m0 67v1m0 26v1m4 43v1m2 -217v1m0 133v1m0 27v1m2 -268v1m0 137v1m0 9v1m2 -98v1m5 37v1m0 221v1m5 -296v1m0 40v1m0 72v1m0 12v1m5 -26v1m5 -97v1m0 105v1m0 115v1m0 45v1m0 47v1m5 -336v1m0 331v1m5 -154v1m0 98v1m0 25v1"/><path stroke="#472e7c" d="M0.5 26v1m0 203v1m0 34v1m0 60v1m1 -277v1m0 248v1m2 -230v1m0 11v1m1 -70v1m0 119v1m0 60v1m0 123v1m1 -78v1m1 -198v1m0 172v1m0 4v1m0 66v1m0 58v1m1 -185v1m1 -103v1m0 45v2m0 119v1m0 29v1m1 -240v1m0 75v1m0 62v1m1 5v1m1 187v1m1 -270v1m0 27v1m0 139v1m1 -148v1m0 20v1m2 -109v1m0 164v1m1 -30v1m0 14v1m0 37v1m0 25v2m1 -98v1m0 180v1m1 -188v1m2 222v1m1 28v1m1 -256v1m0 19v1m0 5v1m0 138v1m1 -214v1m0 134v1m1 -102v1m0 92v1m0 93v1m1 -241v1m1 -59v1m0 236v1m0 71v1m1 -279v1m0 41v1m0 118v1m0 131v1m1 -326v1m0 136v1m0 41v1m0 73v1m0 14v1m0 53v1m0 40v1m1 -221v1m0 87v1m1 -214v1m0 129v1m0 183v1m1 -293v1m1 81v1m1 -76v1m0 229v1m0 15v1m2 -112v1m1 127v1m1 -294v1m0 104v1m0 60v1m0 182v1m1 -57v1m1 -172v1m0 172v1m0 40v1m0 6v1m1 -221v1m0 173v1m0 25v1m1 -205v1m0 150v1m1 -58v1m0 38v1m0 92v1m1 -53v1m1 -266v1m0 23v1m0 38v1m0 92v1m0 45v1m0 37v1m1 -187v1m0 134v1m1 1v1m1 -88v1m0 119v1m0 84v1m1 -61v1m0 14v1m0 9v1m0 35v1m2 -347v1m0 75v1m0 38v1m0 221v1m1 -34v1m1 -40v1m1 30v1m0 68v1m2 -334v1m1 196v1m2 25v1m1 15v1m0 10v1m1 -257v1m0 144v1m0 19v1m0 113v1m1 -209v1m0 63v1m3 -150v1m1 283v1m0 40v1m1 -229v1m0 110v1m0 40v1m0 54v1m0 44v1m1 -249v1m0 51v1m0 49v1m0 141v1m1 -74v1m1 -88v1m1 94v1m0 59v1m1 -273v1m0 1v1m0 62v1m0 16v1m0 10v1m0 166v1m1 -229v1m0 44v1m0 129v1m0 75v1m1 -270v1m1 78v1m0 127v1m1 -186v1m2 199v1m0 30v2m1 -3v1m1 -342v1m0 116v1m0 141v1m1 -144v1m1 -38v1m0 137v1m0 131v1m1 -164v1m1 5v1m1 -80v1m0 76v1m0 37v1m1 -236v1m0 249v1m0 76v1m1 34v1m1 -129v1m0 27v1m1 -226v1m0 90v1m0 126v1m2 -124v1m0 14v1m0 214v1m0 2v1m1 -257v1m0 214v1m2 -286v1m0 92v1m0 27v1m1 179v1m2 -36v2m1 -292v1m0 31v1m0 170v1m0 136v1m1 -43v1m0 49v1m1 -150v1m1 -124v1m0 21v1m0 209v1m1 -256v1m0 146v1m0 121v1m1 -221v1m1 -57v1m0 121v1m1 77v1m1 -268v1m0 51v1m0 39v1m0 20v1m0 5v1m0 86v1m1 -146v1m0 158v1m2 -211v1m0 1v1m0 223v1m0 140v1m4 -179v1m0 32v1m0 65v1m0 41v1m0 36v1m2 -183v1m0 96v1m0 27v1m2 -209v1m0 192v1m0 61v1m2 -305v1m7 -25v1m0 151v1m0 91v1m0 50v1m5 -206v1m0 185v1m5 -232v1m0 249v1m5 -256v1m0 11v1m0 104v1m0 184v1"/><path stroke="#472f7d" d="M0.5 261v1m1 -150v1m0 11v1m0 3v1m0 11v1m0 176v1m0 18v1m2 -280v1m1 150v1m2 -49v1m0 136v1m1 -250v1m0 74v1m0 68v1m1 -164v1m0 119v1m1 -43v1m2 -41v1m0 97v1m0 99v1m1 -230v1m0 172v1m0 133v1m1 -213v1m0 104v1m1 -156v1m0 78v1m1 -122v1m0 70v1m0 228v1m1 -260v1m0 70v1m0 184v1m1 -330v1m0 53v1m0 103v1m0 92v1m1 63v1m2 -300v1m0 12v1m1 190v1m2 -171v1m0 221v1m0 70v1m1 -145v1m0 145v1m1 -81v1m2 -253v1m1 58v1m0 91v1m0 198v1m1 -356v1m0 62v1m0 67v1m1 37v1m1 -81v1m0 75v1m1 50v1m0 136v1m1 -306v1m3 55v1m1 -114v1m0 306v1m1 40v1m0 18v1m2 -330v1m0 137v1m0 7v1m0 57v1m0 6v1m3 -51v1m0 66v1m1 -94v1m0 12v1m0 69v1m0 44v1m1 -26v1m0 84v1m1 -351v1m1 90v1m0 98v1m1 -205v1m0 21v1m0 204v1m0 11v1m2 -233v1m1 285v1m0 58v1m2 -147v1m0 80v1m0 72v1m1 -216v1m0 12v1m0 168v1m1 -314v1m1 20v1m0 38v1m0 46v1m0 14v1m0 113v1m0 91v1m0 26v1m1 -317v1m0 188v1m0 128v1m1 -359v1m0 5v1m0 102v1m0 54v1m0 49v1m0 64v1m1 -198v1m0 270v1m1 -5v1m2 -290v1m1 20v1m0 71v1m0 57v1m0 37v1m0 2v1m0 97v1m1 -295v1m0 215v1m3 -13v1m1 -182v1m0 245v1m3 -91v1m1 -217v1m0 93v1m0 12v1m0 89v1m1 -79v1m1 -115v1m0 20v1m0 40v1m0 95v1m3 -6v1m0 25v1m0 11v1m1 -223v1m1 60v1m0 121v1m0 117v1m2 -281v1m0 254v1m0 29v1m0 50v1m1 -65v1m2 -158v1m1 -144v1m0 17v1m0 109v1m0 109v1m1 2v1m1 -193v1m0 45v1m0 85v1m0 27v1m0 14v1m0 6v1m1 -48v1m0 9v1m0 140v1m0 35v1m1 -296v1m0 21v1m0 14v1m0 66v1m0 33v1m1 -188v1m0 107v1m0 43v1m0 188v1m1 -191v1m0 88v1m0 28v1m1 -69v1m1 72v1m1 -55v1m1 30v1m1 -281v1m0 5v1m0 22v1m0 28v1m0 87v1m0 118v1m0 115v1m1 -351v1m0 46v1m0 73v1m0 115v1m1 -205v1m0 18v1m0 239v1m1 -261v1m0 9v1m0 37v1m1 40v1m0 85v1m1 -62v1m0 121v1m1 -298v1m0 61v1m2 93v1m0 152v1m1 -259v1m0 9v1m0 57v1m0 54v1m7 -131v1m0 123v1m0 129v1m0 74v1m2 -171v1m2 6v1m2 -126v1m0 292v1m2 -146v1m0 105v1m5 -241v1m0 3v1m0 186v1m5 -240v1m0 88v1m0 23v1m0 221v1m5 -370v1m0 159v1m0 41v1m5 -193v1m0 106v1m0 42v1m0 44v1m5 -176v1m5 45v1m0 188v1"/><path stroke="#46307e" d="M1.5 228v1m0 31v1m2 -249v1m0 187v1m0 108v1m1 -165v1m0 27v1m0 104v1m0 77v1m0 14v1m1 -134v1m0 9v1m0 35v1m1 -50v1m2 -71v1m0 21v1m0 6v1m0 96v1m2 21v1m2 -261v1m0 11v1m0 179v1m1 -158v1m1 45v1m0 70v1m1 87v1m1 -264v1m1 -27v1m0 12v1m0 58v1m0 53v1m0 102v1m0 10v1m0 11v1m0 33v1m1 -30v1m0 25v1m0 63v1m1 -197v1m2 -151v1m0 25v1m1 94v1m1 -34v1m0 177v1m1 -246v1m0 51v1m0 46v1m0 34v1m1 95v1m1 -214v1m0 81v1m0 237v1m1 -353v1m1 2v1m0 118v1m2 -24v1m0 71v1m0 100v1m0 42v1m1 -74v1m0 89v1m0 30v1m1 -30v1m2 -234v1m0 104v1m1 124v1m0 22v1m1 -137v1m0 25v1m0 16v1m2 55v1m1 -226v1m0 16v1m0 131v1m0 30v1m1 -123v1m1 -85v1m0 78v1m0 28v1m1 -174v1m0 274v1m0 9v1m1 -175v1m0 134v1m1 -199v1m0 9v1m0 20v1m0 48v1m0 219v1m1 -311v1m0 144v1m0 17v1m0 48v1m1 -237v1m1 184v1m0 130v1m1 -155v1m0 36v1m0 9v1m2 117v1m1 -264v1m1 -57v1m0 38v1m0 71v1m0 183v1m1 -312v1m1 80v1m0 20v1m1 -111v1m0 103v1m1 -115v1m0 146v1m0 63v1m0 14v1m0 120v1m1 -297v1m0 104v1m0 24v1m0 31v1m0 167v1m1 -216v1m0 94v1m1 79v1m0 29v1m1 -269v1m0 63v1m0 182v1m1 -341v1m0 65v1m0 204v1m0 9v1m0 9v1m1 -203v1m1 121v1m1 -158v1m0 129v1m0 20v1m0 52v1m0 86v1m1 -2v1m1 -339v1m0 7v1m0 77v1m0 85v1m2 -116v1m1 -22v1m1 190v1m1 -187v1m0 50v1m0 237v1m2 -160v1m0 66v1m1 -173v1m1 237v1m2 -314v1m0 74v1m0 267v1m1 13v1m1 -329v1m0 89v1m0 142v1m1 -5v1m2 -152v1m0 227v1m1 -308v1m0 164v1m0 145v1m1 -327v1m0 161v1m0 190v1m1 -351v1m0 96v1m0 109v1m0 7v1m2 -141v1m0 137v1m0 122v1m1 -225v1m0 67v1m0 177v1m1 -328v1m1 3v1m0 152v1m0 62v1m1 -215v1m0 29v1m0 39v1m2 76v1m0 96v1m1 -263v1m0 135v1m0 68v1m0 75v1m1 -294v1m0 120v1m2 -141v1m0 13v1m0 174v1m0 57v1m0 3v1m0 23v1m0 6v1m0 3v1m1 -218v1m1 122v1m0 32v1m1 -80v1m1 38v1m0 21v1m1 157v1m1 -77v1m0 80v1m5 -209v1m2 -56v1m0 104v1m2 -111v1m0 83v1m4 -158v1m0 95v1m0 88v1m0 44v1m2 -18v1m0 59v1m2 -207v1m0 72v1m0 51v1m5 -166v1m5 37v1m0 9v1m0 52v1m0 80v1m0 79v1m5 -276v1m0 97v1m0 87v1m0 28v1m0 75v1m0 44v1m5 -342v1m0 197v1m5 -247v1m0 352v1"/><path stroke="#46327e" d="M1.5 154v1m1 -109v1m0 2v1m1 -45v1m0 341v1m1 -276v1m0 70v1m2 -28v1m0 173v1m1 -255v1m1 -10v1m0 45v1m0 124v1m0 174v1m1 -321v1m0 96v1m0 118v1m1 -4v1m2 -122v1m0 78v1m0 6v1m1 -125v1m0 30v1m1 -137v1m0 166v1m1 -142v1m0 39v1m0 106v1m0 44v1m1 36v1m1 38v1m3 20v1m2 -229v1m0 170v1m0 69v1m1 -328v1m0 50v1m1 -27v1m0 204v1m1 -215v1m0 226v1m1 -67v1m1 -177v1m0 273v1m1 -188v1m0 151v1m1 -94v1m0 131v1m1 -144v1m0 45v1m0 6v1m0 143v1m1 -206v1m0 97v1m1 -194v1m0 67v1m0 183v1m3 -214v1m1 53v1m0 24v1m1 -93v1m0 199v1m0 28v1m1 -33v1m1 -40v1m1 -75v1m1 181v1m1 -225v1m0 107v1m0 87v1m0 36v1m1 -208v1m0 95v1m1 -134v1m0 141v1m0 52v1m1 -285v1m0 201v1m0 2v1m1 -40v1m1 -92v1m1 173v1m0 62v1m2 -171v1m0 124v1m1 -116v1m1 -4v1m0 70v1m1 -42v1m0 65v1m1 -243v1m0 49v1m0 26v1m1 171v1m1 16v1m1 35v1m1 -62v1m1 128v1m1 -165v1m0 35v1m2 -181v1m1 -17v1m0 9v1m0 26v1m0 134v1m0 40v1m0 44v1m1 -238v1m0 7v1m0 281v1m1 -313v1m3 246v1m2 -279v1m0 3v1m0 328v1m1 -355v1m0 42v1m1 -7v1m0 126v1m0 79v1m1 -243v1m0 119v1m1 -70v1m0 195v1m0 17v1m1 -5v1m0 28v1m0 45v1m1 -273v2m4 121v1m0 176v1m1 -34v1m2 -101v1m0 46v1m1 -112v1m1 128v1m0 14v1m0 40v1m1 -306v1m0 8v1m0 103v1m0 102v1m0 3v1m1 -233v1m1 93v1m0 67v1m0 1v1m2 -37v1m0 52v1m0 7v1m1 -226v1m0 184v1m0 23v1m0 19v1m0 97v1m1 -268v1m0 173v1m1 43v1m1 -113v1m1 159v1m1 -326v1m0 181v1m0 106v1m1 -178v1m0 46v1m0 98v1m0 110v1m1 -104v1m0 112v1m1 -360v1m0 144v1m1 -138v1m0 12v1m0 184v1m1 -212v1m0 232v1m0 8v1m1 -197v1m1 -48v1m0 177v1m1 -180v1m0 288v1m1 -299v1m0 15v1m0 55v1m0 56v1m0 84v1m1 83v1m2 -123v1m2 113v1m0 69v1m2 -311v1m0 82v1m2 52v1m2 -22v1m2 78v1m2 -211v1m0 11v1m0 147v1m0 65v1m0 4v1m0 8v1m0 92v1m5 -374v1m5 163v1m5 -69v1m5 45v1m0 27v1m10 8v1m0 2v1m0 36v1m0 131v1"/><path stroke="#46337f" d="M0.5 2v1m2 172v1m0 54v1m1 -59v1m0 26v1m1 10v1m1 -209v1m0 119v1m0 204v1m1 -57v1m0 71v1m1 -327v1m0 17v1m1 51v1m1 7v1m1 -60v1m0 90v1m2 -13v1m0 161v1m1 -103v1m1 85v1m0 81v1m1 -230v1m0 41v1m1 -140v1m0 117v1m0 176v1m0 12v1m1 -279v1m0 91v1m1 18v1m0 138v1m2 -43v1m0 112v1m1 -328v1m1 -2v1m3 257v1m1 -78v1m2 -214v1m0 88v1m0 121v1m0 40v1m0 73v1m1 -283v1m0 1v1m0 19v1m0 101v1m0 59v1m1 -1v1m1 -34v1m0 37v1m1 -192v1m0 8v1m0 79v1m0 154v1m1 -166v1m3 -66v1m0 105v1m0 87v1m1 -192v1m0 148v1m1 116v1m1 -311v1m0 231v1m1 0v1m1 -233v1m0 172v1m1 96v1m1 6v1m1 -177v1m1 56v1m0 44v1m0 127v1m0 16v1m1 -342v1m0 292v1m1 -325v1m0 146v1m0 89v1m0 12v1m0 33v1m1 -111v1m0 166v1m3 -132v1m2 -163v1m1 321v1m1 -264v1m1 63v1m1 -137v1m1 46v1m0 104v1m1 -154v2m0 81v1m0 54v1m1 -49v1m1 -114v1m0 168v1m0 98v1m1 -122v1m1 -56v1m1 -84v1m0 126v1m0 221v1m1 -36v1m1 -106v1m1 148v1m1 -152v1m0 10v1m1 -195v1m0 217v1m0 2v1m2 -233v1m1 98v1m0 106v1m0 125v1m1 -174v1m0 26v1m1 -20v1m1 -44v1m1 -105v1m0 118v1m0 5v1m1 -37v1m0 21v1m0 21v1m0 185v1m1 -143v1m0 121v1m0 3v1m1 -277v1m0 286v1m1 -74v1m1 17v1m1 -135v1m0 199v1m1 -354v1m0 18v1m1 103v1m0 89v1m1 -231v1m0 329v1m2 -110v1m1 -160v1m0 40v1m1 -76v1m1 345v1m1 -343v1m0 152v1m1 -73v1m0 7v1m1 -47v1m0 36v1m1 -66v1m0 298v1m1 -287v1m0 135v1m0 72v1m2 -86v1m0 29v1m0 38v1m0 88v1m1 -49v1m1 -222v1m0 58v1m1 120v1m1 -253v1m0 141v1m0 48v1m0 16v1m0 67v1m0 85v1m1 -8v1m1 -141v1m0 140v1m1 -142v1m0 1v1m1 -176v1m0 178v1m0 69v1m1 -274v1m2 -3v1m0 13v1m0 96v1m0 65v1m0 159v1m2 -37v1m2 -87v1m4 -117v1m2 87v1m0 15v1m2 68v1m5 -205v1m0 49v1m0 59v1m0 86v1m10 -143v1m0 2v1m0 3v1m0 117v1m15 -243v1"/><path stroke="#463480" d="M0.5 34v1m0 101v1m0 119v1m1 75v1m0 32v1m1 -349v1m1 290v1m1 -124v1m2 -72v1m0 180v1m0 54v1m1 -268v1m1 31v1m0 114v1m0 3v1m1 81v1m1 -231v1m0 83v1m1 -110v1m1 54v1m0 101v1m0 36v1m1 -202v1m0 139v1m1 -110v1m0 292v1m1 -229v1m1 -85v1m0 109v1m0 192v1m1 -347v1m1 103v1m2 -91v1m0 168v1m0 19v1m0 85v1m1 5v1m2 -312v1m0 99v1m0 121v1m0 37v1m0 108v1m1 -52v1m1 -8v1m2 -217v1m0 97v1m1 -162v1m0 159v1m0 46v1m2 -13v1m0 51v1m1 -134v1m0 7v1m1 -127v1m0 232v1m0 81v1m1 -346v1m2 275v1m1 -214v1m1 304v1m2 -53v1m0 4v1m1 -239v1m0 52v1m1 34v1m1 -157v1m0 14v1m0 291v1m0 45v1m2 -235v1m0 96v1m2 -126v1m0 104v1m2 37v1m0 48v1m2 -227v1m0 94v1m1 6v1m1 81v1m1 -204v1m0 4v1m0 44v1m0 66v1m0 132v1m1 -157v1m0 125v1m0 48v1m1 -5v1m0 39v1m1 -335v1m0 46v1m1 178v1m0 9v1m2 -236v1m0 37v1m0 279v1m1 -301v1m0 20v1m0 114v1m0 179v1m1 -348v1m0 76v1m0 132v1m1 -134v1m0 35v1m1 143v1m0 34v1m1 -189v1m0 23v1m0 138v1m1 -89v1m1 -180v1m0 150v1m1 113v1m0 20v1m1 -240v1m0 44v1m0 46v1m1 124v1m0 1v1m2 -207v1m0 213v1m1 -52v1m0 130v1m1 -257v1m0 106v1m0 132v1m1 -346v1m0 195v1m0 134v1m1 -144v1m0 66v1m0 53v1m2 -215v1m0 267v1m1 -253v1m2 -93v1m0 60v1m1 20v1m1 95v1m1 -186v1m2 92v1m0 118v1m0 140v1m1 -368v1m0 258v1m1 -176v1m0 85v1m0 33v1m1 -68v1m0 2v1m1 -56v1m1 73v1m0 115v1m1 -120v1m0 41v1m0 71v1m1 -204v1m0 100v1m0 79v2m3 -106v1m0 64v1m0 22v1m1 -81v1m1 -142v1m0 197v1m0 8v1m0 20v1m0 37v1m0 24v1m1 -232v1m2 32v1m0 1v1m0 161v1m1 -216v1m0 83v1m0 76v1m0 117v1m0 36v1m0 3v1m1 -102v1m1 -154v1m1 3v1m1 -14v1m0 71v1m0 155v1m1 -269v1m2 84v1m2 -52v1m2 76v1m0 49v1m2 139v1m2 -300v1m0 8v1m0 198v1m2 -71v1m7 -38v1m0 81v1m0 38v1m0 87v1m10 -288v1m0 202v1m5 -188v1m0 262v1m10 -381v1m0 245v1"/><path stroke="#453581" d="M0.5 160v1m0 22v1m0 14v1m0 6v1m1 -136v1m0 13v1m0 86v1m1 -94v1m0 299v1m1 -251v1m0 8v1m1 -75v1m0 14v1m1 243v1m3 -100v1m0 31v1m0 65v1m1 -166v1m0 136v1m1 -141v1m0 15v1m0 140v1m0 51v1m3 -348v1m1 1v1m0 303v1m0 33v1m1 -330v1m0 60v1m0 111v1m0 86v1m1 -117v1m0 92v1m1 -17v1m1 -179v1m2 -43v1m0 24v1m0 186v1m1 28v1m1 -144v1m0 41v1m0 4v1m1 18v1m0 67v1m0 110v1m1 -87v1m1 51v1m1 -23v1m1 -261v1m0 277v1m1 -160v1m0 39v1m0 96v1m1 -194v1m0 223v1m1 -92v1m0 89v1m1 -206v1m0 183v1m0 39v2m1 -220v1m3 -140v1m0 287v1m2 -54v1m0 69v1m2 -192v1m1 -79v1m0 101v1m1 -92v1m0 77v1m0 34v1m1 -74v1m0 10v1m0 169v1m1 -91v1m0 118v1m0 16v1m0 22v1m1 -147v1m0 10v1m2 122v1m0 47v1m2 -363v1m0 59v1m0 95v1m1 148v1m0 14v1m1 -138v2m0 43v1m0 133v1m1 -269v1m0 150v1m1 -101v1m1 -74v1m0 24v1m0 46v1m0 22v1m0 66v1m1 -78v1m0 2v1m0 106v1m2 -40v1m0 95v1m1 -286v1m1 14v1m1 100v1m0 105v1m0 52v1m1 -205v1m0 62v1m0 176v1m2 -167v1m1 16v1m0 92v1m2 -31v1m1 -182v1m0 77v1m1 -118v1m1 28v1m0 291v1m1 -324v1m2 241v1m1 -34v1m0 77v1m1 -188v1m0 32v1m0 159v1m0 18v1m2 8v1m1 -365v1m0 254v1m0 98v1m1 -309v1m0 278v1m0 33v1m3 -342v1m0 209v1m1 -227v1m1 294v1m1 -286v1m2 112v1m0 10v1m2 173v1m1 -148v1m1 -105v1m1 -53v1m2 3v1m0 52v1m0 211v1m0 65v1m1 -259v1m0 173v1m1 56v1m1 -233v1m2 -83v1m0 149v2m1 -63v1m0 1v1m1 26v1m0 21v1m0 171v1m1 -267v1m0 321v1m1 -230v1m0 117v1m0 88v1m1 -359v1m1 150v1m2 -109v1m0 272v1m0 33v1m1 -293v1m0 202v1m2 -167v1m0 226v1m8 -312v1m0 306v1m2 -289v1m0 294v1m7 -301v1m0 65v1m0 6v1m0 8v1m0 14v1m0 101v1m0 30v1m0 3v1m0 63v1m5 -131v1m0 86v1m5 -234v1m0 70v1m0 187v1m5 -96v1m5 116v1m0 27v1m5 -85v1"/><path stroke="#453781" d="M0.5 113v1m0 228v1m1 -327v1m0 253v1m1 -223v1m0 223v1m1 -53v1m1 -133v1m0 90v1m2 -49v1m0 143v1m4 -168v1m0 55v1m0 41v1m0 164v1m2 -125v1m1 -144v1m2 -68v1m0 184v1m0 148v1m1 -253v1m0 211v1m1 -223v1m0 228v1m0 10v1m1 -341v1m0 89v1m0 1v1m0 44v1m0 90v1m0 6v1m2 -65v1m0 129v1m3 19v1m1 41v1m3 -66v1m0 38v1m1 -302v1m0 97v1m0 62v1m0 167v1m1 -333v1m0 30v1m0 110v1m1 50v1m0 7v1m1 -165v1m0 21v1m0 117v1m0 26v1m1 -194v1m0 73v1m0 167v1m1 -58v1m1 -162v1m0 94v1m0 56v1m1 -145v1m2 13v1m0 26v1m1 -64v1m0 153v1m1 -204v1m0 61v1m0 230v1m0 10v1m1 -31v1m1 -222v1m0 279v1m0 14v1m1 -262v1m0 109v1m1 88v1m1 -251v1m0 13v1m0 181v1m1 44v1m0 15v1m1 -57v1m1 -238v1m0 126v1m1 -130v1m0 200v1m2 -59v1m0 120v1m1 -75v1m1 -61v1m1 -3v1m0 24v1m0 186v1m1 -351v1m0 88v1m0 77v1m0 65v1m0 85v1m2 -231v1m0 178v1m1 -25v1m0 130v1m1 -292v1m0 87v1m1 -81v1m0 45v1m0 136v1m0 95v1m1 -159v1m1 -123v1m0 15v1m0 14v1m1 -81v1m0 237v1m0 12v1m1 -218v1m0 2v1m0 178v1m1 -63v1m0 22v1m1 -134v1m0 240v1m1 -244v1m0 45v1m0 89v1m0 56v1m3 -178v1m0 37v1m1 -141v1m1 314v1m1 -130v1m1 -154v1m0 27v1m0 24v1m0 89v1m1 -127v1m2 -21v1m0 37v1m0 60v1m1 -51v1m0 147v1m0 17v1m1 17v1m3 -166v1m0 162v1m2 -51v1m1 -166v1m0 65v1m0 146v1m1 -51v1m1 42v1m0 43v1m1 -3v1m1 -240v1m1 314v1m1 -363v1m1 44v1m0 221v1m1 -207v1m0 265v1m0 4v1m1 28v1m1 -91v1m0 91v1m1 -98v1m0 101v1m1 -91v1m1 -169v1m0 138v1m1 -171v1m0 133v1m0 103v1m1 -172v1m0 59v1m0 161v1m1 -302v1m0 62v1m0 227v1m0 5v1m1 -325v1m0 118v1m0 147v1m1 -265v1m1 115v1m0 133v1m0 49v1m1 -351v1m0 373v1m1 -341v1m0 120v1m0 115v1m0 53v1m1 -77v1m4 -52v1m0 71v1m6 -204v1m2 216v1m0 38v1m2 -232v1m0 53v1m0 80v1m0 8v1m5 -213v1m0 238v1m0 7v1m0 20v1m5 -109v1m0 179v1m0 24v1m5 -333v1m0 153v1m0 137v1m5 -199v1m0 207v1m5 -359v1"/><path stroke="#453882" d="M1.5 76v1m0 84v1m0 51v1m0 79v1m1 -71v1m1 -224v1m0 182v1m1 -31v1m2 46v1m0 164v1m1 -258v1m0 136v1m1 82v1m2 -2v1m1 -114v1m0 13v1m0 67v1m0 60v1m1 -335v1m1 182v1m1 -90v1m1 -111v1m0 255v1m0 39v1m1 -261v1m2 7v1m0 43v1m0 140v1m0 87v1m0 28v1m2 5v1m1 -212v1m1 -32v1m2 3v1m0 143v1m0 17v1m0 82v1m1 -321v1m0 50v1m3 -81v1m0 37v1m0 72v1m0 166v1m2 -17v1m1 -223v1m0 160v1m1 -112v1m1 197v1m2 -202v1m2 13v1m1 244v1m4 -228v1m1 149v1m0 5v1m1 -251v1m0 169v1m0 13v1m1 71v1m1 -71v1m0 121v1m2 -342v1m0 94v1m2 74v1m1 174v1m3 -350v1m0 289v1m1 -105v1m1 -41v1m3 97v1m4 -140v1m4 20v1m5 80v1m0 49v1m0 65v1m1 -37v1m3 -221v1m0 49v1m1 -49v1m0 8v1m0 44v1m1 94v1m2 -217v2m0 367v1m1 -285v1m1 157v1m1 -181v1m0 160v1m1 146v1m1 -354v1m3 244v1m1 -222v1m1 -12v1m0 297v1m1 -119v1m0 162v1m2 -160v1m1 31v1m1 113v1m2 4v1m1 -308v1m0 115v1m1 48v1m1 -22v1m0 89v1m1 -230v1m0 15v1m0 179v1m2 -75v1m0 101v1m2 -159v1m0 49v1m3 -3v1m2 -159v1m4 178v1m2 -22v1m0 121v1m0 25v1m2 -267v2m0 142v1m2 35v1m5 -219v1m0 85v1m0 20v1m0 112v1m0 11v1m0 58v1m0 38v1m0 3v1m10 -344v1m0 92v1m5 112v1m0 28v1m0 6v1m10 -221v1"/><path stroke="#443983" d="M0.5 89v1m0 82v1m0 33v1m0 70v1m0 23v1m1 -292v1m1 100v1m0 6v1m0 14v1m3 -76v1m0 191v1m2 -164v1m1 -7v1m0 21v1m0 49v1m0 134v1m0 96v1m1 -261v1m0 213v1m1 -221v1m2 -98v1m0 181v1m0 166v1m1 -120v1m1 71v1m1 -165v1m3 -54v1m0 262v1m1 2v1m1 -363v1m0 271v1m0 89v1m1 -135v1m0 112v1m2 -195v1m2 84v1m0 108v1m3 -106v1m1 -63v1m0 187v1m1 -284v1m0 28v1m1 176v1m0 73v1m1 -124v1m4 23v1m2 55v1m2 -295v1m0 262v1m2 -112v1m0 167v1m1 -194v1m0 78v1m1 -154v1m0 114v1m2 -101v1m0 53v1m0 28v1m3 120v1m0 37v1m0 27v1m1 -363v1m1 187v1m0 104v1m0 2v1m0 26v1m1 -154v1m1 -26v1m0 201v1m2 -187v1m1 93v1m1 -89v1m1 -114v1m1 186v1m0 41v1m2 -274v1m0 30v1m0 89v1m0 77v1m0 98v1m0 34v1m1 -301v1m1 106v1m1 207v1m1 -327v1m1 219v1m1 47v1m1 0v1m1 -79v1m2 139v1m2 -262v1m1 119v1m2 -16v1m0 2v1m1 91v1m1 -92v1m0 66v1m0 80v1m1 -278v1m3 88v1m2 -92v1m2 180v1m1 -177v1m1 82v1m0 171v1m2 -260v1m2 205v1m1 54v1m2 -256v1m2 -36v1m0 170v1m0 54v1m0 1v1m1 -265v1m0 203v1m0 10v1m1 -119v1m0 112v1m0 105v1m1 -266v1m1 128v1m0 137v1m1 -21v1m1 54v1m1 -107v1m1 6v1m1 -25v1m2 -119v1m0 198v1m2 -331v1m0 34v1m0 233v1m0 85v1m6 -309v1m0 196v1m0 39v1m2 -237v1m0 224v1m2 -179v1m0 22v1m0 258v1m5 -348v1m0 10v1m0 122v1m0 86v1m5 -192v1m0 319v1"/><path stroke="#443a83" d="M0.5 199v1m0 115v1m2 -168v1m2 -60v1m0 92v1m0 187v1m1 -48v1m1 -122v1m1 84v1m1 -238v1m0 175v1m0 103v1m2 -94v1m0 108v1m4 -61v1m0 32v1m1 -146v1m0 156v1m2 -163v1m0 97v1m1 69v1m1 36v1m2 -345v1m2 59v1m1 189v1m2 -2v1m1 -156v1m1 2v1m1 -122v1m0 210v1m1 -82v1m1 93v1m0 118v1m2 -346v1m1 118v1m0 40v1m1 73v1m1 -215v1m1 75v1m1 2v1m0 95v1m0 171v1m1 -133v1m1 -65v1m2 -27v1m0 100v1m2 -131v1m0 99v2m1 -48v1m0 54v1m1 27v1m5 -245v1m2 67v1m0 56v1m1 190v1m1 -193v1m1 75v1m0 66v1m4 -214v1m1 261v1m1 -229v1m1 0v1m0 249v1m1 -310v1m0 37v1m2 -70v1m0 47v1m1 13v1m1 18v1m0 287v1m2 -299v1m1 29v1m0 50v1m0 163v1m1 -69v1m0 82v1m1 -288v1m0 280v1m1 43v1m1 -68v1m1 53v1m1 -347v1m0 171v1m0 42v1m0 3v1m1 -81v1m1 -111v1m0 255v1m2 -272v1m0 337v1m2 -337v1m4 335v1m0 2v1m1 -318v1m0 1v1m0 216v1m1 -40v1m1 28v1m2 27v1m1 57v1m1 -296v1m0 312v1m2 -87v1m1 -193v1m0 145v1m1 -196v1m0 233v1m3 -271v1m0 35v1m0 234v1m0 41v1m1 -178v1m0 227v1m1 -343v1m0 45v1m3 82v1m0 34v1m2 -122v1m0 29v1m0 179v1m8 32v1m4 -171v1m0 54v1m5 -101v1m0 134v1m0 67v1m5 -52v1m0 129v1m0 1v1m5 -178v1m0 171v1m5 -365v1m5 313v1m5 -318v1m0 101v1m0 199v1"/><path stroke="#443b84" d="M0.5 357v1m1 -175v1m1 -134v1m0 164v1m2 123v1m1 -152v1m1 -89v1m2 192v1m0 33v1m1 -272v1m0 302v1m1 -231v1m0 54v1m1 -178v1m0 253v1m1 -191v1m1 73v1m1 124v1m1 -117v1m0 103v1m1 -142v1m0 189v1m0 54v1m1 -352v1m0 122v1m1 -108v1m0 164v1m0 88v1m0 72v1m2 -10v1m1 -317v1m0 254v1m1 88v1m6 -331v1m0 132v1m0 26v1m0 116v1m0 38v1m1 -166v1m1 8v1m0 18v1m6 -181v1m3 101v1m0 168v1m0 42v1m1 -163v1m0 146v1m1 -93v1m0 48v1m1 -37v1m1 110v1m3 -188v1m2 173v1m2 -356v1m3 288v1m2 -244v1m0 22v1m0 256v1m1 -148v1m0 102v1m1 54v1m1 -295v1m2 -11v1m1 68v1m0 65v1m0 50v1m1 -104v1m1 -43v1m0 273v1m1 -128v1m1 -150v1m5 -33v1m0 260v1m1 -137v1m0 203v1m1 -174v1m0 33v1m0 20v1m0 30v1m5 -78v1m2 162v1m1 -74v1m1 76v1m1 -251v1m1 96v1m0 133v1m2 -109v1m1 -100v1m1 -117v1m0 114v1m0 81v1m0 23v1m1 -64v1m0 6v1m3 -7v1m0 62v1m2 -60v1m0 35v1m0 93v1m2 -286v1m1 25v1m0 286v1m1 -345v1m0 325v1m1 -216v1m1 -26v1m1 -92v1m0 343v1m1 -348v1m0 189v1m0 83v1m3 -115v1m1 -91v1m1 236v1m4 16v1m2 -170v1m6 -133v1m2 132v1m0 219v1m5 -320v1m0 20v1m5 -76v1m0 137v1m5 143v1m5 -187v1m10 -70v1m0 256v1"/><path stroke="#433d84" d="M0.5 322v1m3 -65v1m5 -195v1m0 207v1m2 -124v1m3 114v1m5 -160v1m4 130v1m1 -174v1m1 -35v1m0 183v1m4 -20v1m0 9v1m0 87v1m1 -23v1m1 -217v1m0 124v1m1 17v1m0 117v1m1 -284v1m1 33v1m3 76v1m0 224v1m1 -256v1m1 15v1m0 209v1m2 -261v1m0 251v1m1 -31v1m1 -155v1m0 187v1m2 -85v1m0 27v1m2 -47v1m2 -166v1m2 130v1m0 174v1m2 -332v1m1 30v1m3 108v1m0 111v1m0 18v1m1 -218v1m1 11v1m1 72v1m1 -155v1m1 168v1m1 74v1m0 109v1m1 -160v1m0 5v1m0 49v1m1 -136v1m2 100v1m6 -68v1m0 40v1m0 4v1m0 128v1m1 -43v1m2 -3v1m1 -287v1m1 205v1m1 144v1m1 -165v1m0 111v1m2 -217v1m1 112v1m1 -14v1m2 -108v1m0 169v1m2 45v1m1 -275v1m0 274v1m1 -100v1m1 -33v1m2 11v1m1 -118v1m0 87v1m0 204v1m2 -41v1m0 41v1m2 5v1m1 -237v1m0 73v1m0 10v1m1 35v1m1 67v1m1 -192v1m1 155v1m3 -186v1m0 191v1m0 2v1m1 -217v1m6 0v1m0 173v1m2 -76v1m0 165v1m2 -335v1m0 69v1m0 13v1m0 228v1m2 -61v1m7 -95v1m0 36v1m5 -124v1m0 220v1m5 -220v1m5 -98v1m0 129v1m10 -104v1m0 87v1"/><path stroke="#433e85" d="M0.5 194v1m1 -72v1m3 18v1m0 34v1m0 144v1m0 32v1m4 -163v1m0 146v1m1 -166v1m1 -175v1m0 326v1m1 -58v1m1 -164v1m0 82v1m0 19v1m0 114v1m0 8v1m1 1v1m1 -230v1m1 46v1m0 91v1m1 90v1m1 -204v1m4 -98v1m4 11v1m2 165v1m1 -181v1m0 147v1m0 105v1m0 5v1m0 24v1m1 -18v1m0 53v1m2 -171v1m1 97v1m0 15v1m2 -232v1m5 -22v1m2 315v1m1 -230v1m0 87v1m0 93v2m1 -227v1m0 212v1m1 -281v1m0 113v1m3 -53v1m3 223v1m1 -238v1m2 36v1m1 83v1m0 38v1m1 -104v1m0 94v1m1 80v1m0 46v1m2 -61v1m3 -182v1m1 169v1m1 -96v1m1 -107v1m0 30v1m2 91v1m1 -133v1m0 157v1m0 64v1m0 35v1m3 -172v1m1 -149v1m2 109v1m0 51v1m3 -71v1m0 250v1m1 -50v1m1 -145v1m2 93v1m1 -74v1m0 61v1m0 129v1m1 -7v1m5 -356v1m0 43v1m1 -44v1m0 168v1m1 37v1m1 -97v1m0 160v1m2 -209v1m0 27v1m0 68v1m0 43v1m1 -183v1m4 75v1m0 194v1m1 -36v1m1 25v1m0 56v1m4 -188v1m0 106v1m2 48v1m1 -95v1m2 -194v1m0 11v1m2 7v1m0 147v1m10 61v1m5 -163v1m0 84v1m5 -13v1m0 132v1m10 -71v1m0 93v1m10 -217v1m0 75v1"/><path stroke="#423f85" d="M0.5 62v1m1 303v1m2 -338v1m0 214v1m1 -200v1m0 159v1m4 61v1m2 -128v1m5 -140v1m0 184v1m1 168v1m2 -337v1m2 354v1m2 -185v1m1 -172v1m0 32v1m2 -43v1m0 11v1m1 64v1m0 59v1m1 61v1m1 -91v1m0 242v1m2 -242v1m0 64v1m2 -145v1m0 246v1m0 27v1m2 30v1m2 -267v1m1 -41v1m1 -42v1m2 285v1m2 -185v1m0 246v1m1 -320v1m0 175v1m0 94v1m1 -138v1m1 73v1m1 -15v1m1 -49v1m0 141v1m7 -82v1m0 83v1m1 -154v1m3 141v1m1 -3v1m0 64v1m2 -349v1m0 157v1m2 -93v1m0 227v1m0 11v1m1 -136v1m0 154v1m1 -99v1m0 110v1m0 5v1m3 -319v1m0 125v1m0 15v1m5 -35v1m0 22v1m1 182v1m5 -17v1m1 -256v1m0 129v1m1 140v1m2 -245v1m1 67v1m1 122v1m3 8v1m2 -165v1m0 83v1m1 -199v1m0 313v1m1 -114v1m1 -4v1m1 -72v1m1 33v1m0 102v1m1 -67v1m1 -212v1m0 8v1m0 101v1m0 6v1m0 83v1m4 -211v1m4 -25v1m0 42v1m0 185v1m3 74v1m2 15v1m4 -162v1m2 -99v1m4 139v1m5 -170v1m0 336v1m5 -249v1m5 233v1m5 -304v1m5 247v1m5 42v1m0 35v1"/><path stroke="#424086" d="M1.5 311v1m1 -275v1m1 306v1m1 -134v1m1 -125v1m3 45v1m0 178v1m2 -190v1m3 248v1m1 -28v1m1 -215v1m1 242v1m0 1v1m2 -324v1m0 93v1m1 87v1m4 -79v1m5 87v1m1 -130v1m0 10v1m0 229v1m1 -294v1m0 148v1m2 76v1m2 79v1m2 -295v1m2 28v1m1 194v1m2 -267v1m1 56v1m0 244v1m2 35v1m2 -50v1m1 -244v1m0 150v1m1 -15v1m3 17v1m0 111v1m2 -9v1m1 -332v1m0 366v1m2 -293v1m0 268v1m4 -193v1m1 -158v1m0 52v1m3 -47v1m0 106v1m0 1v1m0 254v1m1 -138v1m2 137v1m1 -62v1m5 62v1m2 -132v1m2 -205v1m3 96v1m3 13v1m0 115v1m2 -170v1m1 277v1m1 -302v1m3 115v1m1 -56v1m0 123v1m3 -145v1m4 52v1m0 76v1m2 59v1m1 -254v1m0 71v1m0 44v1m3 149v1m2 -154v1m0 30v1m2 23v1m0 136v1m12 -173v1m5 -142v1m0 337v1m10 -336v1m10 263v1m0 63v1"/><path stroke="#424186" d="M2.5 67v1m5 99v1m2 206v1m9 -208v1m0 143v1m0 59v1m2 -372v1m1 272v1m1 -272v1m1 45v1m5 26v1m0 96v1m0 90v1m0 96v1m2 6v1m1 -151v1m0 21v1m1 -206v1m0 261v1m4 70v1m2 -204v1m1 -159v1m2 153v1m2 -73v1m1 208v1m2 -77v1m2 95v1m4 -172v1m1 37v1m2 -139v1m0 31v1m0 190v1m3 -76v1m1 -144v1m0 220v1m1 -72v1m1 -118v1m1 100v1m1 -165v1m1 180v1m0 54v1m4 -206v1m0 320v1m2 -116v1m0 64v1m1 -261v1m1 -20v1m0 1v1m0 226v1m8 23v1m1 10v1m1 -274v1m1 342v1m1 -52v1m3 -276v1m5 71v1m5 62v1m1 -64v1m0 170v1m1 -109v1m0 32v1m0 94v1m1 -186v1m1 39v1m1 -119v1m1 126v1m3 54v1m4 -184v1m0 18v1m6 67v1m2 184v1m0 6v1m2 -232v1m5 -47v1m0 57v1m0 147v1m0 14v1m5 -23v1m5 -94v1m0 128v1m0 19v1m0 78v1m5 -129v1m10 -231v1"/><path stroke="#414287" d="M7.5 343v1m3 -256v1m2 123v1m2 -191v1m2 88v1m2 42v1m7 -106v1m1 109v1m2 -71v1m0 20v1m0 141v1m11 -110v1m1 -31v1m0 131v1m3 -143v1m1 73v1m8 179v1m1 -114v1m3 -42v1m0 28v1m3 -226v1m2 105v2m0 70v1m0 71v1m2 -26v1m1 -146v1m2 -88v1m1 13v1m0 39v1m1 178v1m4 -173v1m0 117v1m0 8v1m2 -126v1m3 35v1m5 277v1m2 -287v1m0 270v1m3 -223v1m0 116v1m1 71v1m5 -188v1m3 160v1m1 -76v1m1 -98v1m1 67v1m0 146v1m1 28v1m1 -134v1m4 -211v1m0 103v1m0 18v1m0 9v1m1 160v1m10 -131v1m9 88v1m5 96v1m10 -373v1"/><path stroke="#414487" d="M0.5 159v1m0 97v1m2 41v1m0 64v1m4 -182v1m0 116v1m2 -199v1m2 -28v1m7 64v1m7 85v1m4 -36v1m1 140v1m2 -134v1m0 145v1m3 -250v1m0 73v1m2 200v1m1 -370v1m5 205v1m6 74v1m1 -179v1m1 -84v1m1 42v1m2 234v1m1 -273v1m1 352v1m1 -274v1m0 29v1m0 192v1m5 41v1m2 -175v1m1 -179v1m4 279v1m7 -257v1m2 284v1m1 27v1m15 -92v1m1 89v1m1 -210v1m5 -64v1m5 164v1m0 126v1m3 -338v1m0 104v1m8 -15v1m2 -9v1m2 -69v1m0 82v1m5 150v1m0 74v1m5 -352v1m0 262v1m10 -263v1m0 329v1"/><path stroke="#404588" d="M1.5 356v1m8 -291v1m3 -10v1m2 51v1m6 257v1m1 -310v1m7 138v1m0 43v1m4 -145v1m5 38v1m2 -66v1m3 89v1m0 64v1m1 -65v1m1 -76v1m0 156v1m0 50v1m2 -226v1m3 43v1m5 218v1m1 -24v1m0 50v1m1 -180v1m2 -152v1m0 165v1m3 36v1m0 129v1m2 -176v1m0 150v1m6 -308v1m3 179v1m0 108v1m4 -130v1m0 182v1m1 -334v1m1 329v1m2 4v1m2 -240v1m4 -106v1m2 150v1m8 -60v1m0 34v1m1 -159v1m0 174v1m1 -157v1m0 3v1m0 160v1m12 39v1m0 151v1m8 -27v1m7 -323v1m0 88v1m0 25v1m0 180v1m0 4v1m5 -157v1m10 212v1"/><path stroke="#404688" d="M0.5 374v1m4 -163v1m2 163v1m1 -157v1m1 71v1m0 13v1m4 -170v1m0 38v1m3 -114v1m0 296v1m2 -164v1m5 176v1m3 -218v1m3 -157v1m0 212v1m0 34v1m0 26v1m0 12v1m4 1v1m10 53v1m1 30v1m3 -64v1m9 62v1m4 -210v1m0 188v1m2 -14v1m3 -101v1m0 48v1m6 -147v1m1 226v1m1 -117v1m1 -92v1m0 4v1m0 206v1m5 -166v1m4 160v1m5 -31v1m1 -51v1m1 9v1m3 -107v1m1 172v1m8 -185v1m15 115v1m4 -177v1m20 72v1m0 26v1"/><path stroke="#3f4788" d="M1.5 58v1m0 224v1m1 -21v1m1 -130v1m0 182v1m1 -140v1m2 -136v1m2 66v1m0 265v1m8 -241v1m0 36v1m5 138v1m1 -220v1m1 277v1m2 -1v1m3 -257v1m2 -45v1m8 112v1m1 -66v1m4 -5v1m5 169v1m6 71v1m2 -257v1m0 64v1m2 44v1m1 -81v1m2 131v1m2 -97v1m8 213v1m6 -294v1m6 286v1m5 -351v1m2 65v1m1 286v1m2 -250v1m5 85v1m2 57v1m1 100v1m2 -7v1m1 -101v1m1 -173v1m0 131v1m11 -41v1m14 7v1m5 135v1m0 52v1"/><path stroke="#3f4889" d="M0.5 363v1m3 -351v1m8 359v1m5 -189v1m1 -62v1m5 188v1m2 -62v1m1 93v1m3 -151v1m0 14v1m0 32v1m0 116v1m1 -174v1m3 -138v1m10 181v1m2 62v1m17 -220v1m2 230v1m1 -149v1m11 -115v1m0 234v1m2 -116v1m0 143v1m7 -219v1m4 282v1m9 -65v1m0 64v1m3 -21v1m1 -234v1m4 -49v1m15 170v1m0 45v1m5 -148v1m0 36v1m0 185v1m5 -263v1"/><path stroke="#3e4989" d="M0.5 192v1m9 135v1m2 -272v1m1 314v1m6 -289v1m4 290v1m3 -70v1m2 -28v1m1 -46v1m1 6v1m2 -149v1m1 -36v1m0 239v1m10 -286v1m2 170v1m14 154v1m6 -263v1m13 256v1m4 -333v1m6 41v1m2 104v1m16 -111v1m5 190v1m10 60v1m0 4v1m5 -233v1m15 326v2"/><path stroke="#3e4a89" d="M0.5 52v1m0 185v1m0 111v1m8 -263v1m1 224v1m6 62v1m5 -376v1m5 221v1m0 152v1m7 -332v1m10 23v1m2 157v1m12 -12v1m0 164v1m4 -255v1m1 -76v1m7 157v1m3 167v1m1 -291v1m4 292v1m8 -152v1m3 -23v1m2 -126v1m4 152v1m3 148v1m2 -11v1m7 -3v1m11 -90v1m19 -255v1m0 357v1m15 -188v1"/><path stroke="#3e4c8a" d="M2.5 261v1m2 69v1m0 40v1m0 2v1m6 -129v1m4 91v1m14 -135v1m0 6v1m0 55v1m1 -56v1m1 -199v1m8 181v1m1 -65v1m2 119v1m8 121v1m1 -172v1m6 -57v1m1 226v1m4 -89v1m0 35v1m3 -239v1m2 101v1m1 -68v1m5 96v1m0 18v1m1 49v1m7 -272v1m8 80v1m0 13v1m5 266v1m5 -154v1m1 -212v1m2 177v1m4 126v1m11 -192v1m9 141v1m5 -22v1m10 -213v1"/><path stroke="#3d4d8a" d="M3.5 117v1m8 256v1m13 -171v1m1 -115v1m3 87v2m0 15v1m12 176v1m1 -354v1m9 137v1m4 185v1m3 -14v1m1 -282v1m1 33v1m1 290v1m3 14v1m6 -388v1m3 365v1m1 -222v1m4 125v1m17 104v1m2 4v1m12 -259v1m17 263v1m15 -194v1"/><path stroke="#3d4e8a" d="M2.5 149v1m4 146v1m2 -183v1m0 260v1m15 -3v1m2 0v1m3 -177v1m1 175v1m10 -191v1m7 -13v1m1 202v1m4 -1v1m1 -2v1m9 -73v1m1 81v1m35 -204v1m0 93v1m1 -12v1m4 110v1m0 1v1m2 -212v1m14 187v1m22 26v1"/><path stroke="#3c4f8a" d="M1.5 236v1m9 -5v1m12 -128v1m10 270v1m5 -246v1m26 64v1m0 191v1m7 -8v1m2 -10v1m8 -226v1m17 -61v1m0 94v1m3 10v1m5 187v1m20 -360v1m0 351v1m10 14v1m5 -3v1"/><path stroke="#3c508b" d="M8.5 320v1m12 54v1m4 -1v1m4 -244v1m0 41v1m0 7v1m0 27v1m3 -16v1m11 -110v1m9 269v1m3 24v1m7 -7v1m3 -220v1m9 -98v1m0 27v1m16 286v1m16 -235v1m0 234v1m9 5v1m4 0v1m7 -355v1m0 283v1m0 72v1m5 5v1"/><path stroke="#3b518b" d="M20.5 175v1m8 -34v1m6 231v1m1 -1v1m14 -265v1m26 267v1m1 -228v1m13 224v1m3 -237v1m10 1v1m18 86v1"/><path stroke="#3b528b" d="M1.5 367v1m2 -306v1m11 313v1m18 -339v1m14 188v1m7 147v1m16 0v1m14 -37v1m4 -137v1m10 38v1m0 23v1m28 -219v1"/><path stroke="#3a538b" d="M24.5 374v1m4 -192v1m0 104v1m14 -217v1m48 76v1m2 223v1m1 4v1m8 -7v1m15 -281v1m14 40v1m10 249v1"/><path stroke="#3a548c" d="M16.5 378v1m12 -187v1m0 7v1m10 -197v1m0 296v1m21 79v1m1 -9v1m2 -180v1m15 -124v1m25 306v1m1 -9v1m15 10v1"/><path stroke="#39558c" d="M1.5 364v1m1 7v1m23 -4v1m5 -301v1m1 200v1m18 103v1m35 -362v1m21 -9v1m20 376v1m5 -199v1m0 208v1"/><path stroke="#39568c" d="M18.5 298v1m15 75v1m10 2v1m16 0v1m2 -3v1m2 13v1m49 -12v1m4 0v1"/><path stroke="#38588c" d="M32.5 37v1m12 54v1m2 268v1m43 15v1m41 14v1"/><path stroke="#38598c" d="M1.5 368v1m34 3v1m8 2v1m26 2v1m7 -12v1m5 13v1m5 -6v1m9 -330v1m4 333v1m21 -288v1m30 286v1"/><path stroke="#375a8c" d="M0.5 195v1m72 180v1m4 -3v1m0 3v1m32 -1v1"/><path stroke="#375b8d" d="M10.5 378v1m18 -204v1m0 14v1m0 11v1m14 171v1m7 1v1m91 -232v1"/><path stroke="#365c8d" d="M17.5 374v1m16 11v1m22 -9v1m1 -4v1m5 -73v1m3 81v1m23 -8v1m3 4v1"/><path stroke="#365d8d" d="M4.5 376v1m49 -4v1m4 -200v1m22 201v1m15 4v1m6 -4v1m1 -1v1"/><path stroke="#355e8d" d="M2.5 376v1m2 1v1m2 -5v1m7 2v1m18 -3v1m22 18v1m13 -19v1m7 -3v1m3 2v1m14 6v1m45 -2v1"/><path stroke="#355f8d" d="M1.5 377v1m6 6v1m14 5v1m5 -18v1m9 2v1m60 4v1m35 2v1"/><path stroke="#34608d" d="M2.5 373v1m3 2v1m7 -2v1m9 11v1m8 -12v1m21 -1v1m14 1v1m10 -4v1m26 -2v1m6 0v1m39 11v1"/><path stroke="#34618d" d="M19.5 376v1m9 -191v1m9 190v1m16 17v1m77 -13v1"/><path stroke="#33628d" d="M8.5 386v1m2 -13v1m2 4v1m21 7v1m16 -15v1m2 4v1m11 7v1m0 3v1m21 -17v1m4 5v1m5 -7v1m12 1v1m1 -1v1m1 0v1"/><path stroke="#33638d" d="M8.5 377v1m36 0v1m6 -1v1m13 8v1m6 -13v1m34 -4v1m13 8v1"/><path stroke="#32648e" d="M42.5 17v1m10 361v1m31 0v1m27 -1v1m6 -2v1m19 12v1"/><path stroke="#32658e" d="M7.5 387v1m2 -12v1m20 -2v1m4 -1v1m0 9v1m9 -11v1m2 -1v1m13 0v1m3 1v1m1 -2v1m2 13v1m3 -15v1m4 0v1m3 2v1m12 -5v1m6 -3v1m12 -3v1m32 12v1"/><path stroke="#31668e" d="M11.5 376v1m10 8v1m5 -7v1m1 1v1m54 -9v1m0 1v1m9 9v1m4 -9v1m3 0v1m6 1v1m3 -5v1m19 10v1m20 -6v1"/><path stroke="#31678e" d="M6.5 378v1m3 -4v1m11 2v1m35 -2v1m3 3v1m8 -1v1m2 -6v1m25 -2v1m1 -1v1m46 9v1"/><path stroke="#31688e" d="M14.5 377v1m7 8v1m15 -11v1m29 4v1m8 -7v1m23 6v1"/><path stroke="#30698e" d="M41.5 375v1m4 0v1m42 2v1"/><path stroke="#306a8e" d="M7.5 388v1m25 -11v1m12 -2v1m14 0v1m10 -4v1m13 0v1m8 1v1"/><path stroke="#2f6b8e" d="M19.5 375v1m8 2v1m22 0v1m11 -5v1m0 1v1m3 14v1m8 -18v1m7 0v1m11 3v1"/><path stroke="#2f6c8e" d="M1.5 363v1m67 13v1m10 -3v1"/><path stroke="#2e6d8e" d="M3.5 376v1m18 12v1m6 -11v1m35 14v1m22 -18v1m10 -2v1m26 10v1"/><path stroke="#2e6e8e" d="M2.5 382v1m26 -10v1m18 5v1m1 -4v1m18 -1v1m14 1v1m17 8v1"/><path stroke="#2e6f8e" d="M19.5 377v1m23 -1v1m6 -4v1m14 12v1m16 -9v1"/><path stroke="#2d708e" d="M72.5 391v1m24 -8v1m0 5v1"/><path stroke="#2d718e" d="M7.5 390v1m4 -13v1m11 0v1m9 -4v1m2 11v1m16 -12v1m14 15v1m26 -13v1m15 -4v1"/><path stroke="#2c718e" d="M7.5 379v1m27 -1v1m5 -1v1m19 -3v1m16 -2v1m16 11v1m60 -6v1"/><path stroke="#2c728e" d="M49.5 381v1m11 1v1m5 -7v1m1 5v1m30 2v1m9 -9v1"/><path stroke="#2c738e" d="M7.5 389v1m3 -13v1m16 -2v1m38 0v1m7 -2v1m14 2v1"/><path stroke="#2b748e" d="M9.5 377v1m11 -2v1m19 0v1m7 0v1m5 -2v1m2 0v1m4 -1v1m5 6v1m0 10v1m2 -17v1"/><path stroke="#2b758e" d="M1.5 370v1m37 4v1m24 13v1m12 -10v1m1 -7v1m7 5v1m21 -6v1"/><path stroke="#2a768e" d="M21.5 388v1m13 -11v1m16 5v1m1 -9v1m2 19v1m12 -17v1m14 -4v1m46 14v1"/><path stroke="#2a778e" d="M19.5 380v1m2 12v1m7 -17v1m22 3v1m21 -2v1m17 -1v1"/><path stroke="#2a788e" d="M1.5 369v1m7 12v1m29 -8v1m21 3v2"/><path stroke="#29798e" d="M2.5 380v1m19 10v1m4 -8v1m3 -6v1m10 -6v1m31 5v1m6 -1v1m6 8v1m23 -10v1"/><path stroke="#297a8e" d="M6.5 377v1m12 1v1m9 4v1m32 -9v1m11 3v1m1 -4v1m10 1v1"/><path stroke="#297b8e" d="M7.5 385v1m9 -4v1m8 -1v1m1 -4v1m29 0v1m15 -2v1m21 7v1m2 -11v1m4 11v1"/><path stroke="#287c8e" d="M13.5 375v1m14 0v1m27 2v1m8 11v1m10 -13v1m8 -3v1m25 1v1"/><path stroke="#287d8e" d="M14.5 374v1m19 15v1m58 -14v1m2 7v1m13 -8v2"/><path stroke="#277e8e" d="M0.5 376v1m52 0v1m15 1v1m0 1v1m18 0v1m3 -5v1m57 6v1"/><path stroke="#277f8e" d="M34.5 377v1m7 0v1m18 1v1m15 -4v1m2 2v1"/><path stroke="#27808e" d="M57.5 380v1m15 -4v1m23 -1v1m19 7v1m6 -1v1"/><path stroke="#26818e" d="M2.5 374v2m6 3v1m10 6v1m30 -8v1m14 13v1m29 -18v1m25 7v1"/><path stroke="#26828e" d="M13.5 379v1m17 0v1m2 2v1m1 9v1m14 -12v1m3 -4v1m3 -3v1m0 1v1m3 -3v1m1 1v1m5 12v1m2 -17v1m5 0v1m31 1v1"/><path stroke="#26828e" d="M7.5 380v1m10 -5v1m54 2v1m6 0v1m37 1v1"/><path stroke="#25838e" d="M17.5 375v1m4 16v1m2 -11v1m17 -4v1m21 -1v1m18 1v1m17 6v1m0 2v1m1 -13v1"/><path stroke="#25848e" d="M8.5 378v1m9 0v1m40 5v1m16 -3v1m13 -4v1"/><path stroke="#25858e" d="M16.5 377v1m2 -2v1m34 4v1m3 -3v1m33 3v1m5 -4v1m1 2v1m1 -5v1"/><path stroke="#24868e" d="M2.5 379v1m22 -3v1m7 1v1m2 -4v1m29 11v1m8 -12v1m9 1v1m3 -4v1m11 -1v1"/><path stroke="#24878e" d="M3.5 378v1m4 7v1m1 0v1m6 -8v1m8 -4v1m11 11v1m15 -10v1m31 -1v1m23 -1v1m33 12v1"/><path stroke="#23888e" d="M11.5 380v1m30 0v1m23 -3v1m76 25v1"/><path stroke="#23898e" d="M9.5 382v1m8 -5v1m29 -2v1m17 20v1m3 -20v1m24 20v1m15 -21v1"/><path stroke="#238a8d" d="M48.5 376v1m26 6v1m9 -5v1m5 -3v1m2 12v1m5 -8v1m21 -2v1m2 9v1"/><path stroke="#228b8d" d="M4.5 377v1m12 9v1m31 -9v1m5 -5v1m48 1v1"/><path stroke="#228c8d" d="M56.5 379v1m1 10v1m6 5v1m43 -17v1m2 2v1m8 -1v1"/><path stroke="#228d8d" d="M29.5 380v1m3 3v1m3 -8v1m32 5v1m5 -9v1m14 7v1m54 19v1"/><path stroke="#218e8d" d="M27.5 388v1m11 -10v1m15 23v1m1 -13v1m36 -6v1m6 13v1"/><path stroke="#218f8d" d="M1.5 371v1m26 5v1m57 2v1m4 -2v1m2 11v1m7 -15v1m13 7v1"/><path stroke="#21908d" d="M41.5 382v1m35 -1v1m6 0v1m4 -7v1"/><path stroke="#21918c" d="M9.5 378v1m26 0v1m1 0v1m6 2v1m10 -6v1m28 11v1"/><path stroke="#20928c" d="M11.5 377v1m9 2v1m4 3v1m7 7v1m1 -7v1m1 5v1m3 -12v1m27 12v1m2 -12v1m7 1v1m44 0v1"/><path stroke="#20928c" d="M15.5 378v1m9 -1v1m12 -1v1m1 0v1m41 12v1m1 -5v1m3 -4v1m16 -7v1"/><path stroke="#20938c" d="M36.5 383v1m5 -5v1m15 0v1m13 2v1m15 -5v1m41 13v1"/><path stroke="#1f948c" d="M12.5 377v1m24 1v1m4 0v1m18 -5v1m15 8v1m3 -7v1m18 -1v1m5 3v1"/><path stroke="#1f958b" d="M26.5 377v1m2 7v1m15 -7v1m6 -2v1m50 1v1m4 -4v1m0 1v1m47 7v1"/><path stroke="#1f968b" d="M0.5 379v1m18 4v1m8 5v1m41 -11v1m1 -1v1m33 2v1m49 2v1"/><path stroke="#1f978b" d="M22.5 378v1m11 26v1m20 -9v1m2 -15v1m6 5v1m2 5v1m15 -19v1m3 12v1m0 8v1m9 -11v1m10 -10v1"/><path stroke="#1f988b" d="M20.5 377v1m13 13v1m14 -14v1m31 4v1m3 -4v1m49 22v1"/><path stroke="#1f998a" d="M25.5 380v2m2 0v1m2 -4v1m1 2v1m4 -2v1m11 -4v1m25 4v1m10 1v1m20 -3v1m5 4v1m13 -6v1"/><path stroke="#1f9a8a" d="M11.5 379v1m5 3v1m7 -4v1m2 5v1m2 5v1m13 -7v1m2 -5v1m1 -3v1m2 -4v1m33 7v1m7 -6v1"/><path stroke="#1e9b8a" d="M9.5 387v1m12 11v1m5 -20v1m3 3v1m5 0v1m28 11v1m11 -19v1m16 3v1m2 -5v1"/><path stroke="#1e9c89" d="M10.5 382v1m14 -4v1m4 -4v1m11 4v1m13 4v1m6 -5v1m2 -4v1m16 3v1m16 -4v1m1 2v1m11 -5v1m2 5v1"/><path stroke="#1e9d89" d="M44.5 376v1m17 6v1m1 11v1m20 -17v1m30 6v1"/><path stroke="#1f9e89" d="M17.5 388v1m23 -2v1m1 -3v1m7 -9v1m2 2v1m6 10v1m10 -4v1m35 -10v1"/><path stroke="#1f9f88" d="M9.5 380v1m6 -2v1m53 3v1m6 -5v1m12 -1v1m6 -1v1m6 0v1m22 9v1"/><path stroke="#1fa088" d="M1.5 375v1m2 1v1m16 3v1m12 -4v1m39 0v1m38 4v1"/><path stroke="#1fa188" d="M5.5 377v1m1 3v1m20 1v1m11 -2v1m3 5v1m33 8v1m20 -19v1m17 3v1m2 1v1m33 0v1"/><path stroke="#1fa187" d="M19.5 379v1m5 0v1m5 -4v1m18 2v1m7 8v1m30 -7v1m5 -5v1m2 0v1m4 -1v1m2 -1v1m23 3v1"/><path stroke="#1fa287" d="M7.5 381v1m7 -3v1m6 1v1m2 0v1m3 -6v1m11 6v1m4 -8v1m1 2v1m24 1v1m1 -3v1m33 7v1m3 -4v1"/><path stroke="#20a386" d="M4.5 381v1m18 2v1m15 -7v1m0 1v1m9 -1v1m5 0v1m16 6v1m10 -10v1m11 -4v1m6 8v1m6 2v1"/><path stroke="#20a486" d="M5.5 380v1m16 24v1m2 -27v1m17 5v1m21 -1v1m12 4v1m13 -6v1m2 -4v1m10 2v1m5 -4v1m15 1v2"/><path stroke="#21a585" d="M9.5 396v1m16 -12v1m1 -5v1m23 6v1m6 -9v1m26 7v1m21 -10v1"/><path stroke="#21a685" d="M27.5 383v1m10 -1v1m1 -7v1m4 2v1m18 -1v1m11 2v1m19 21v1m2 -23v1m43 20v1"/><path stroke="#22a785" d="M6.5 380v1m13 -3v1m6 -1v1m1 -1v1m5 1v1m2 13v1m6 -12v1m44 -1v1"/><path stroke="#22a884" d="M5.5 378v1m9 2v1m16 -4v1m9 1v1m29 4v1m12 -7v1m1 3v1m6 1v1m25 -4v1"/><path stroke="#23a983" d="M16.5 380v1m4 -2v1m6 7v1m14 -5v1m32 -4v1m38 3v1"/><path stroke="#24aa83" d="M24.5 381v1m4 6v1m14 -8v1m4 0v1m19 -4v1m8 12v1m5 -13v1m23 -1v1m19 5v1"/><path stroke="#25ab82" d="M72.5 388v1m7 -6v1m27 -1v1m4 -2v1"/><path stroke="#25ac82" d="M15.5 382v1m3 6v1m14 -9v1m20 13v1m20 -7v1m1 -10v1m2 7v1"/><path stroke="#26ad81" d="M9.5 383v1m14 -3v1m11 2v1m41 -8v1"/><path stroke="#27ad81" d="M1.5 376v1m5 5v1m3 3v1m7 -8v1m15 1v1m3 -2v1m16 7v1m11 -9v1m14 2v1m2 4v1m9 -7v1m19 0v1"/><path stroke="#28ae80" d="M18.5 387v1m1 -6v1m7 -1v1m3 -1v1m7 3v1m8 -8v1m55 5v1m4 -3v1m15 7v1"/><path stroke="#29af7f" d="M28.5 383v1m0 2v1m10 -4v1m11 -1v1m24 4v1m22 -4v1"/><path stroke="#2ab07f" d="M15.5 380v1m2 -1v1m5 0v1m23 -3v1m0 2v1m7 -1v1m4 -1v1m8 -1v1m30 -3v1m10 11v1"/><path stroke="#2cb17e" d="M0.5 377v1m13 3v1m4 4v1m1 -6v1m9 -2v1m19 2v1m6 0v1m12 -2v1m8 6v1"/><path stroke="#2db27d" d="M4.5 382v1m5 1v1m32 -1v1m37 3v1m3 -4v1m19 -1v1"/><path stroke="#2eb37c" d="M5.5 379v1m19 3v1m35 -5v1m3 19v1m12 -13v1m1 -9v1m4 5v1m6 -3v1m3 1v1m3 -3v1"/><path stroke="#2fb47c" d="M11.5 382v1m7 5v1m4 -6v1m18 -6v1m18 4v1m10 4v1m9 -6v1m27 4v1m46 -5v1"/><path stroke="#31b57b" d="M4.5 380v1m16 1v1m12 14v1m6 -20v1"/><path stroke="#32b67a" d="M1.5 374v1m17 10v1m64 2v1m3 -4v1"/><path stroke="#34b679" d="M16.5 386v1m0 1v1m10 2v1m6 -15v1m0 1v1m4 7v1m15 -9v1m41 8v1m5 -4v1m5 -3v1m1 -8v1m0 8v1m15 2v1m7 5v1m5 0v1"/><path stroke="#35b779" d="M0.5 381v1m9 6v1m1 -6v1m1 -1v1m21 -4v1m8 1v1m14 2v1m21 -4v1m26 6v1m3 -7v1"/><path stroke="#37b878" d="M1.5 372v1m5 6v1m12 -2v1m29 5v1m2 -1v1m5 -2v1m2 4v1m7 8v1m36 -19v1m46 3v1"/><path stroke="#38b977" d="M28.5 378v1m2 4v1m17 -3v1m3 7v1m3 12v1m3 -18v1m2 2v1m10 -5v1m12 6v1m17 -9v1m9 4v1m39 1v1"/><path stroke="#3aba76" d="M27.5 386v1m7 -4v1m2 1v1m4 -2v1m1 -2v1m13 -2v1m3 5v1m2 -7v1m33 2v1m20 -3v1m23 21v1"/><path stroke="#3bbb75" d="M7.5 378v1m4 2v1m11 5v1m5 3v1m3 -15v1m9 0v1m3 -1v1m1 -1v1m14 4v1m15 -1v1m1 5v1m33 -8v1"/><path stroke="#3dbc74" d="M9.5 389v1m8 -13v1m7 7v1m1 -3v1m45 1v1m14 -1v1m3 -4v2m15 2v1m10 1v1m4 -4v1m14 10v1m0 8v1"/><path stroke="#3fbc73" d="M4.5 379v1m4 1v1m6 1v1m20 -8v1m1 3v1m7 5v1m2 -6v1m5 5v1m5 5v1m86 -1v1m10 -6v1"/><path stroke="#40bd72" d="M11.5 392v1m6 -8v1m11 -2v1m4 0v1m11 -4v1m3 1v1m11 4v1m11 -11v1m46 4v1m4 2v1"/><path stroke="#42be71" d="M12.5 378v1m19 -2v1m4 0v1m0 4v1m3 -2v1m1 1v1m3 0v1m21 15v1m28 -17v1m3 2v1m4 -6v1m52 -2v1"/><path stroke="#44bf70" d="M10.5 379v1m3 -2v1m3 6v1m7 -9v1m13 10v1m53 9v1m3 -17v1m14 6v1m4 -4v1m2 -3v1"/><path stroke="#46c06f" d="M17.5 390v1m10 -6v1m33 2v1m18 1v1m30 -3v1"/><path stroke="#48c16e" d="M20.5 384v1m35 3v1m14 -4v1m27 18v1m3 -23v1"/><path stroke="#4ac16d" d="M10.5 381v1m14 5v1m5 9v1m19 -15v1m4 3v1m14 -4v1m4 3v1m34 -7v1"/><path stroke="#4cc26c" d="M2.5 381v1m7 8v1m3 -10v1m4 -1v1m1 0v2m10 5v1m18 -10v1m9 13v1m71 9v1"/><path stroke="#4ec36b" d="M0.5 382v1m10 -3v1m4 1v1m3 -2v1m1 1v1m5 -6v1m97 10v1"/><path stroke="#50c46a" d="M17.5 391v1m1 -10v1m0 7v1m12 -12v1m14 0v1m6 5v1m2 -4v1m4 -1v1m5 -2v1m17 4v1m24 -6v1"/><path stroke="#52c569" d="M8.5 380v1m10 -4v1m8 6v1m12 -5v1m1 1v1m13 -3v1m0 7v1m17 -1v1"/><path stroke="#54c568" d="M45.5 383v1m4 5v1m6 -4v1m46 -2v1m4 -4v1m13 3v1"/><path stroke="#56c667" d="M15.5 381v1m13 5v1m1 -5v1m0 1v1m9 -5v1m17 3v1m23 3v1m2 -1v1m28 -5v1"/><path stroke="#58c765" d="M13.5 380v1m26 6v1m10 -8v1m23 1v1m7 4v1m61 6v1m10 -10v1"/><path stroke="#5ac864" d="M16.5 390v1m10 -5v1m2 -6v1m1 -4v1m10 7v1m16 3v1m11 -9v1m46 4v1"/><path stroke="#5cc863" d="M16.5 384v1m18 -3v1m13 -6v1m3 12v1m64 -8v1"/><path stroke="#5ec962" d="M32.5 382v1m29 5v1m19 -6v1m34 2v1m0 2v1m26 5v1"/><path stroke="#60ca60" d="M15.5 384v1m7 -5v1m2 5v1m7 -4v1m11 -5v1m4 1v1m5 -2v1m29 1v1m30 7v1"/><path stroke="#63cb5f" d="M26.5 388v1m53 -7v1m10 2v1m41 18v1m15 -17v1"/><path stroke="#65cb5e" d="M12.5 380v1m17 0v1m17 3v1m2 -8v1m25 3v1m35 4v1m27 8v1"/><path stroke="#67cc5c" d="M6.5 383v1m31 -3v1m4 4v1m9 -5v1m9 0v1m18 1v1"/><path stroke="#69cd5b" d="M17.5 392v1m6 -8v1m2 1v1m17 -4v1m5 0v1m33 -6v1"/><path stroke="#6ccd5a" d="M43.5 381v1m3 4v1m6 3v1m33 -3v1"/><path stroke="#6ece58" d="M23.5 384v1m27 2v1m2 1v1m0 1v1m93 -3v1"/><path stroke="#70cf57" d="M9.5 381v1m13 6v1m61 -4v1m15 -4v1m5 5v1"/><path stroke="#73d056" d="M49.5 386v1m6 2v1m7 14v1"/><path stroke="#75d054" d="M0.5 380v1m5 1v1m13 -3v1m122 23v1"/><path stroke="#77d153" d="M9.5 379v1m8 7v1m5 -2v1m46 0v1m3 0v1m29 -2v1"/><path stroke="#7ad151" d="M15.5 385v1m40 -4v1m12 -1v1m26 -1v1m4 5v1m11 0v1"/><path stroke="#7cd250" d="M39.5 385v1m18 -4v1m14 6v1m27 -2v1m1 -3v1"/><path stroke="#7fd34e" d="M34.5 387v1m14 -6v1m6 7v1m14 -9v1m32 -1v1m14 7v1m2 -3v1"/><path stroke="#81d34d" d="M0.5 378v1m9 6v1m11 -3v1m30 -1v1m49 0v1m9 -3v1m6 8v1"/><path stroke="#84d44b" d="M26.5 392v1m2 -13v1m16 1v1m8 2v1m2 2v1m27 -7v1m0 3v1m10 -1v1m13 -3v1m16 3v1m10 8v1"/><path stroke="#86d549" d="M5.5 383v1m88 2v1"/><path stroke="#89d548" d="M28.5 382v1m49 4v1m1 -6v1m5 5v1m4 -3v1m4 -5v1m10 -1v1m0 4v1m29 6v1"/><path stroke="#8bd646" d="M64.5 388v1m41 -3v1m5 4v1"/><path stroke="#8ed645" d="M10.5 394v1m2 -13v1m12 5v1m25 -4v1m51 -2v1m1 3v1m3 -4v1"/><path stroke="#90d743" d="M93.5 384v1m19 4v1"/><path stroke="#93d741" d="M26.5 389v1m18 -7v1m29 0v1m16 -3v1m21 4v1"/><path stroke="#95d840" d="M13.5 383v1m42 3v1m19 0v1m44 0v1"/><path stroke="#98d83e" d="M4.5 383v1m26 -3v1m19 8v1m31 -3v1m45 14v1m15 -8v1"/><path stroke="#9bd93c" d="M50.5 385v1m95 -2v1"/><path stroke="#9dd93b" d="M18.5 391v1m13 -10v1m57 1v1"/><path stroke="#a0da39" d="M27.5 387v1m70 -2v1m28 18v1"/><path stroke="#a2da37" d="M77.5 384v1m6 -3v1m25 3v1m27 16v1"/><path stroke="#a5db36" d="M22.5 385v1m49 -4v1m18 3v1m3 -1v1m13 -2v1m1 0v1"/><path stroke="#a8db34" d="M47.5 383v1m10 3v1"/><path stroke="#aadc32" d="M35.5 381v1m14 0v1m48 -1v1"/><path stroke="#addc30" d="M54.5 392v1m52 -9v1m8 3v1m6 3v1"/><path stroke="#b0dd2f" d="M43.5 383v1m2 -3v1m6 0v1m65 6v1"/><path stroke="#b2dd2d" d="M89.5 384v1"/><path stroke="#b5de2b" d="M25.5 382v1m55 10v1m4 -12v1m10 -1v1m0 3v1m1 1v1m21 -2v1"/><path stroke="#b8de29" d="M26.5 385v1m69 0v1"/><path stroke="#bade28" d="M16.5 389v1m31 -4v1m26 4v1m10 -8v1m33 5v1"/><path stroke="#bddf26" d="M80.5 392v1m2 -11v1m0 4v1"/><path stroke="#c0df25" d="M17.5 384v1m74 -1v1m10 1v1m5 0v1m4 0v1"/><path stroke="#c5e021" d="M1.5 373v1m4 7v1m12 7v1m39 -6v1m24 2v1m2 -4v1"/><path stroke="#c8e020" d="M8.5 383v1m70 7v1m17 -10v1m7 5v1m10 2v1m23 2v1"/><path stroke="#d0e11c" d="M19.5 383v1m1 2v1m40 -5v1m40 3v1"/><path stroke="#d2e21b" d="M35.5 382v1"/><path stroke="#d5e21a" d="M34.5 386v1m2 2v1m12 -9v1m32 4v1m21 3v1"/><path stroke="#d8e219" d="M51.5 383v1m27 2v1m47 9v1"/><path stroke="#dae319" d="M36.5 390v1m32 -5v1m18 -3v1"/><path stroke="#dde318" d="M12.5 383v1m57 -2v1"/><path stroke="#dfe318" d="M135.5 395v1"/><path stroke="#e2e418" d="M73.5 386v1m4 -5v1m41 7v1"/><path stroke="#e5e419" d="M15.5 383v1m86 0v1"/><path stroke="#e7e419" d="M23.5 383v1m80 2v1"/><path stroke="#eae51a" d="M2.5 383v1m11 -2v1m7 2v1m7 4v1m5 -4v1m4 -6v1m4 -2v1m34 0v1m7 8v1m25 -2v1"/><path stroke="#ece51b" d="M73.5 387v1"/><path stroke="#efe51c" d="M56.5 386v1m16 -3v1"/><path stroke="#f1e51d" d="M64.5 384v1"/><path stroke="#f4e61e" d="M75.5 384v1m10 1v1m18 -3v1"/><path stroke="#f6e620" d="M69.5 384v1m1 2v1"/><path stroke="#f8e621" d="M61.5 384v1m18 -1v1"/><path stroke="#fbe723" d="M150.5 390v1"/><path stroke="#fde725" d="M0.5 383v23m1 -28v28m1 -22v22m1 -27v27m1 -22v22m1 -22v22m1 -22v22m1 -15v15m1 -18v18m1 -15v5m0 1v9m1 -22v10m0 1v11m1 -22v8m0 1v13m1 -22v22m1 -22v22m1 -22v22m1 -20v20m1 -15v15m1 -13v13m1 -14v14m1 -22v22m1 -19v19m1 -12v5m0 1v5m1 -16v17m1 -20v20m1 -17v17m1 -18v18m1 -13v13m1 -13v13m1 -17v17m1 -20v11m0 1v8m1 -22v22m1 -22v8m0 1v13m1 -18v9m0 1v8m1 -11v10m1 -17v18m1 -22v22m1 -15v15m1 -22v22m1 -22v22m1 -18v18m1 -17v17m1 -19v19m1 -19v19m1 -22v22m1 -22v22m1 -22v22m1 -19v19m1 -19v19m1 -22v22m1 -15v15m1 -15v15m1 -22v22m1 -14v3m0 1v10m1 -8v4m0 2v2m1 -22v1m0 1v2m0 7v11m1 -22v1m0 6v15m1 -19v1m0 1v2m0 1v14m1 -22v1m0 1v1m0 4v15m1 -22v4m0 1v17m1 -22v22m1 -22v4m0 1v17m1 -20v2m0 2v16m1 -8v1m0 1v4m0 1v1m1 -7v2m0 1v4m1 -20v2m0 1v17m1 -22v22m1 -21v3m0 1v17m1 -22v4m0 1v17m1 -17v17m1 -20v2m0 1v17m1 -24v1m0 1v1m0 1v1m0 2v17m1 -22v4m0 2v16m1 -20v2m0 4v14m1 -13v4m0 1v8m1 -22v3m0 2v17m1 -21v3m0 1v17m1 -22v22m1 -20v1m0 2v17m1 -22v1m0 8v13m1 -20v1m0 2v17m1 -22v1m0 9v12m1 -22v1m0 2v1m0 4v7m0 1v6m1 -20v1m0 2v17m1 -20v2m0 1v17m1 -22v1m0 1v20m1 -22v1m0 2v1m0 1v17m1 -20v20m1 -22v1m0 2v19m1 -20v20m1 -19v11m0 1v7m1 -14v8m0 1v4m1 -18v19m1 -22v1m0 2v1m0 1v17m1 -19v19m1 -22v1m0 2v1m0 1v17m1 -22v1m0 2v1m0 1v17m1 -14v8m0 1v3m0 1v1m1 -22v1m0 2v1m0 1v17m1 -22v1m0 1v2m0 1v17m1 -19v1m0 1v17m1 -17v17m1 -15v15m1 -22v1m0 2v1m0 1v17m1 -19v1m0 1v17m1 -20v2m0 1v3m0 1v13m1 -22v1m0 2v1m0 1v17m1 -15v15m2 -16v16m2 -17v1m0 2v14m2 -16v1m0 1v14m2 -19v1m0 4v14m2 -15v15m2 -13v13m2 -15v1m0 1v13m5 -11v1m0 1v6m5 -5v5m5 -6v6m5 -6v6m5 -12v15m5 -17v1m0 1v15"/></g></g><rect x="1015.523" y="85.233" width="36.849" height="736.989" fill="url(#vir)"/></g>
<g shape-rendering="crispEdges"><path d="M98.5 85.5V822.5M962.5 85.5V822.5M98.5 85.5H962.5M98.5 822.5H962.5" stroke="#000" stroke-width="1.11" stroke-linecap="square" fill="none"/><path d="M1016.5 85.5V822.5H1052.5V85.5Z" stroke="#000" stroke-width="1.11" fill="none"/></g>
<path d="M179.5 822.5V827.5M287.5 822.5V827.5M395.5 822.5V827.5M503.5 822.5V827.5M611.5 822.5V827.5M719.5 822.5V827.5M827.5 822.5V827.5M935.5 822.5V827.5M98.5 810.5H93.5M98.5 689.5H93.5M98.5 569.5H93.5M98.5 448.5H93.5M98.5 327.5H93.5M98.5 206.5H93.5M98.5 85.5H93.5M1052.5 822.5H1057.5M1052.5 699.5H1057.5M1052.5 577.5H1057.5M1052.5 454.5H1057.5M1052.5 331.5H1057.5M1052.5 208.5H1057.5M1052.5 85.5H1057.5" stroke="#000" stroke-width="1" fill="none"/>
<text x="178.64" y="847.77" text-anchor="middle" font-size="20.833">2</text>
<text x="286.63" y="847.77" text-anchor="middle" font-size="20.833">4</text>
<text x="394.61" y="847.77" text-anchor="middle" font-size="20.833">6</text>
<text x="502.60" y="847.77" text-anchor="middle" font-size="20.833">8</text>
<text x="610.58" y="847.77" text-anchor="middle" font-size="20.833">10</text>
<text x="718.56" y="847.77" text-anchor="middle" font-size="20.833">12</text>
<text x="826.55" y="847.77" text-anchor="middle" font-size="20.833">14</text>
<text x="934.53" y="847.77" text-anchor="middle" font-size="20.833">16</text>
<text x="529.59" y="874.49" text-anchor="middle" font-size="20.833">Frequency (MHz)</text>
<text x="87.93" y="818.06" text-anchor="end" font-size="20.833">0</text>
<text x="87.93" y="697.24" text-anchor="end" font-size="20.833">100</text>
<text x="87.93" y="576.42" text-anchor="end" font-size="20.833">200</text>
<text x="87.93" y="455.60" text-anchor="end" font-size="20.833">300</text>
<text x="87.93" y="334.78" text-anchor="end" font-size="20.833">400</text>
<text x="87.93" y="213.97" text-anchor="end" font-size="20.833">500</text>
<text x="87.93" y="93.15" text-anchor="end" font-size="20.833">600</text>
<text x="38.28" y="453.73" text-anchor="middle" font-size="20.833" transform="rotate(-90 38.28 453.73)">Virtual range (km)</text>
<text x="158.91" y="43.79" font-size="27.778">IRF Kiruna Ionosonde KI167 2025-11-07 19:01:00&#160;&#160;UT</text>
<text x="223.57" y="76.90" font-size="27.778">noise_floor=-119.49 (dB) peak SNR=101.80</text>
<text x="1062.09" y="830.14" text-anchor="start" font-size="20.833">0</text>
<text x="1062.09" y="707.31" text-anchor="start" font-size="20.833">5</text>
<text x="1062.09" y="584.47" text-anchor="start" font-size="20.833">10</text>
<text x="1062.09" y="461.64" text-anchor="start" font-size="20.833">15</text>
<text x="1062.09" y="338.81" text-anchor="start" font-size="20.833">20</text>
<text x="1062.09" y="215.98" text-anchor="start" font-size="20.833">25</text>
<text x="1062.09" y="93.15" text-anchor="start" font-size="20.833">30</text>
<text x="1109.30" y="453.73" text-anchor="middle" font-size="20.833" transform="rotate(-90 1109.30 453.73)">SNR (dB)</text>
</svg></body></html>
